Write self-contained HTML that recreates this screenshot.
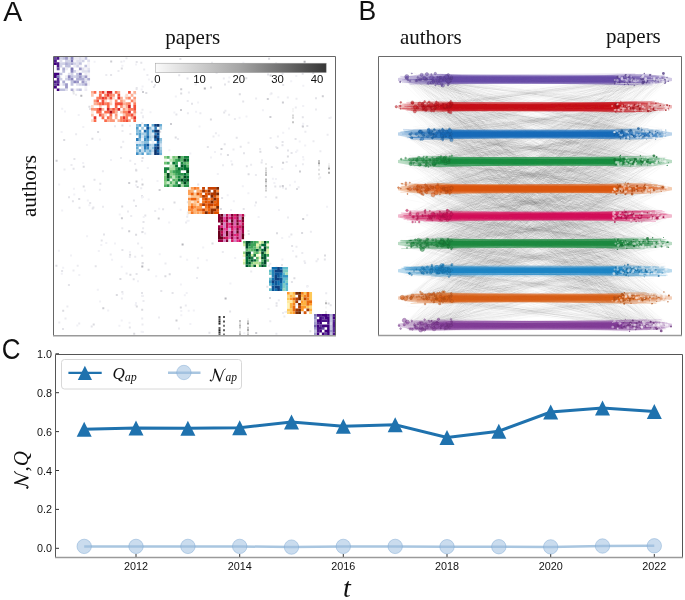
<!DOCTYPE html>
<html><head><meta charset="utf-8"><style>
html,body{margin:0;padding:0;background:#fff;}
svg{display:block;filter:blur(0.3px);}
.s{font-family:"Liberation Sans",sans-serif;fill:#111;}
.r{font-family:"Liberation Serif",serif;fill:#111;}
</style></head><body>
<svg width="685" height="600" viewBox="0 0 685 600">
<defs><filter id="blur1" x="-5%" y="-5%" width="110%" height="110%"><feGaussianBlur stdDeviation="0.5"/></filter><filter id="blur2" x="-5%" y="-5%" width="110%" height="110%"><feGaussianBlur stdDeviation="0.6"/></filter><filter id="blur3" x="-5%" y="-5%" width="110%" height="110%"><feGaussianBlur stdDeviation="0.7"/></filter></defs>
<rect width="685" height="600" fill="#fff"/>

<text x="3.2" y="21" class="s" font-size="28.5">A</text>
<text x="192.7" y="44" class="r" font-size="21" text-anchor="middle">papers</text>
<text transform="translate(35.5 186.1) rotate(-90)" class="r" font-size="21" text-anchor="middle">authors</text>
<g filter="url(#blur3)"><path fill="#e4e4e9" d="M208.4 331.8h2v2h-2zM290.4 233.6h2v2h-2zM222.8 233.1h2v2h-2zM206.8 145.9h2v2h-2zM135.7 60.9h2v2h-2zM242.7 254.9h2v2h-2zM142.5 221.1h2v2h-2zM274.3 185.6h2v2h-2zM135.6 88.1h2v2h-2zM141.5 295.1h2v2h-2zM224 83.6h2v2h-2zM270.6 284.9h2v2h-2zM71.9 200.2h2v2h-2zM135 205h2v2h-2zM89.1 107.9h2v2h-2zM270.8 166h2v2h-2zM162.1 208.3h2v2h-2zM132.9 199.5h2v2h-2zM266.3 285.8h2v2h-2zM291.1 245.1h2v2h-2zM132.7 278.3h2v2h-2zM287 149.5h2v2h-2zM255 201.4h2v2h-2zM281 264.1h2v2h-2zM279.2 185.6h2v2h-2zM160.3 290.1h2v2h-2zM215.7 211h2v2h-2zM284.9 187.7h2v2h-2zM281.6 72.7h2v2h-2zM178.2 74.2h2v2h-2zM186.1 160.9h2v2h-2zM61.1 270h2v2h-2zM237.1 228.4h2v2h-2zM93.5 178.8h2v2h-2zM240.5 70.6h2v2h-2zM309.3 330.2h2v2h-2zM223.7 143.3h2v2h-2zM294.6 137.9h2v2h-2zM260.6 161.4h2v2h-2zM301.8 116.2h2v2h-2zM144.3 214.6h2v2h-2zM191 102.8h2v2h-2zM91.7 207.4h2v2h-2zM62 328.1h2v2h-2zM99.3 182.8h2v2h-2zM135.1 168.7h2v2h-2zM315 97.3h2v2h-2zM90.7 325.5h2v2h-2zM229.1 310.4h2v2h-2zM281.6 140.9h2v2h-2zM175.4 113.5h2v2h-2zM275.6 304.8h2v2h-2zM242.7 208h2v2h-2zM72.7 92.6h2v2h-2zM282.2 83.9h2v2h-2zM306.3 125h2v2h-2zM92.4 206.6h2v2h-2zM103 233.5h2v2h-2zM281.5 144.3h2v2h-2zM181.3 183.9h2v2h-2zM275.6 302.2h2v2h-2zM196.8 266.8h2v2h-2zM121.3 290.9h2v2h-2zM267.1 73.5h2v2h-2zM154 84.3h2v2h-2zM68 196.2h2v2h-2zM140.3 61.7h2v2h-2zM186.8 201.2h2v2h-2zM245.8 165.3h2v2h-2zM290.6 151.9h2v2h-2zM110.1 73.9h2v2h-2zM239.7 145.7h2v2h-2zM185.8 185.1h2v2h-2zM78.5 206.7h2v2h-2zM301.7 72.8h2v2h-2zM247.8 233.1h2v2h-2zM243 152.3h2v2h-2zM186.5 77.4h2v2h-2zM152.9 86h2v2h-2zM129.4 133h2v2h-2zM257.1 263.1h2v2h-2zM171.6 292.1h2v2h-2zM227.7 80.7h2v2h-2zM141 291.9h2v2h-2zM73.4 158h2v2h-2zM72.6 167.8h2v2h-2zM323.8 258.4h2v2h-2zM120.2 146.2h2v2h-2zM197.2 183.5h2v2h-2zM290.9 280.9h2v2h-2zM275.1 62.5h2v2h-2zM270.4 92.6h2v2h-2zM100.7 239.6h2v2h-2zM193.2 189.3h2v2h-2zM295.3 255.6h2v2h-2zM67.9 284h2v2h-2zM135.7 86.9h2v2h-2zM306.5 285.3h2v2h-2zM231.2 163.6h2v2h-2zM94.7 265.2h2v2h-2zM121.4 249.1h2v2h-2zM221.1 196.9h2v2h-2zM135.6 273h2v2h-2zM242.2 100.5h2v2h-2zM179.4 57.9h2v2h-2zM59.3 76.2h2v2h-2zM141 195.1h2v2h-2zM223.2 111.6h2v2h-2zM140.8 152.6h2v2h-2zM235.7 136.7h2v2h-2zM271.2 69.7h2v2h-2zM89.2 201.9h2v2h-2zM128.8 326.4h2v2h-2zM141.3 254.8h2v2h-2zM329.7 304.3h2v2h-2zM80.9 81.3h2v2h-2z"/><path fill="#f1f1f6" d="M329.9 116.4h2v2h-2zM123.1 60.3h2v2h-2zM110 159h2v2h-2zM281.4 168.1h2v2h-2zM114 242.4h2v2h-2zM306.2 214.2h2v2h-2zM61.2 209.4h2v2h-2zM267.5 307.9h2v2h-2zM197.1 257.3h2v2h-2zM214 150.9h2v2h-2zM120.7 319.5h2v2h-2zM146.8 166.9h2v2h-2zM281.4 258.5h2v2h-2zM67 65.4h2v2h-2zM186.7 213.5h2v2h-2zM100.3 244.1h2v2h-2zM121.7 292.7h2v2h-2zM296 303.5h2v2h-2zM82.2 162h2v2h-2zM269.5 93.2h2v2h-2zM302.7 307.2h2v2h-2zM158.7 253.2h2v2h-2zM141.9 331.1h2v2h-2zM284.3 311.1h2v2h-2zM107.2 309.4h2v2h-2zM72.9 187.7h2v2h-2zM180.3 309.9h2v2h-2zM117.4 91.5h2v2h-2zM105.3 241.9h2v2h-2zM118.4 324.7h2v2h-2zM192.8 309.5h2v2h-2zM275.5 265.8h2v2h-2zM281.5 269.3h2v2h-2zM180.3 314.3h2v2h-2zM230.1 209h2v2h-2zM216.8 173.1h2v2h-2zM158.2 207.7h2v2h-2zM141 231.2h2v2h-2zM134.7 141.5h2v2h-2zM302.2 104.9h2v2h-2zM61.2 107.7h2v2h-2zM58.2 183.5h2v2h-2zM85.9 144h2v2h-2zM147.7 198.6h2v2h-2zM147.9 78.4h2v2h-2zM129 124.8h2v2h-2zM245.5 115.6h2v2h-2zM128.9 250.9h2v2h-2zM86.8 199.4h2v2h-2zM290.2 80.3h2v2h-2zM111.1 258.7h2v2h-2zM293.9 180.7h2v2h-2zM282.2 131.8h2v2h-2zM62.2 266.8h2v2h-2zM278 208.9h2v2h-2zM82.3 125.9h2v2h-2zM301.4 311.4h2v2h-2zM60.8 272.7h2v2h-2zM100.1 95.4h2v2h-2zM217.7 134.5h2v2h-2zM301.5 310.4h2v2h-2zM141.6 85.5h2v2h-2zM243.3 332.2h2v2h-2zM174.8 95.6h2v2h-2zM144.2 232.6h2v2h-2zM120.7 265.8h2v2h-2zM187.6 219.8h2v2h-2zM76.3 324.6h2v2h-2zM140.6 330.7h2v2h-2zM330.4 319.2h2v2h-2zM179.7 208.8h2v2h-2zM228.4 76.5h2v2h-2zM121.4 64.7h2v2h-2zM302.3 84.7h2v2h-2zM147.6 148.9h2v2h-2zM232.8 200.2h2v2h-2zM273.4 181.9h2v2h-2zM140.9 196.4h2v2h-2zM304.2 144.4h2v2h-2zM194.6 83.6h2v2h-2zM257.6 216h2v2h-2zM57.9 249.8h2v2h-2zM326.1 205.8h2v2h-2zM238.2 72.7h2v2h-2zM141.9 196h2v2h-2zM183.8 294.3h2v2h-2zM159.8 153.7h2v2h-2zM93.6 60.7h2v2h-2zM128.5 321.7h2v2h-2zM186.2 258.8h2v2h-2zM315 318.6h2v2h-2zM302.5 158.6h2v2h-2zM281.2 237.1h2v2h-2zM134.7 304h2v2h-2zM70 254.5h2v2h-2zM189.4 322.9h2v2h-2zM78.3 274h2v2h-2zM298.7 140.6h2v2h-2zM77.7 114.1h2v2h-2zM258.5 68.8h2v2h-2zM226 69.8h2v2h-2zM88.4 204.2h2v2h-2zM141.1 178.5h2v2h-2zM155.2 275.2h2v2h-2zM269.3 277.2h2v2h-2zM241.8 185.2h2v2h-2zM261.9 109.2h2v2h-2zM288.3 235.7h2v2h-2zM195.1 110.7h2v2h-2zM296.3 149.5h2v2h-2zM173.4 111.4h2v2h-2zM135 184.3h2v2h-2zM73.3 193.6h2v2h-2zM292 249.9h2v2h-2zM234.2 257.1h2v2h-2zM295.1 151.1h2v2h-2zM254.1 204.6h2v2h-2zM229.4 282.5h2v2h-2zM274.9 178.1h2v2h-2zM135 302h2v2h-2zM289 184.3h2v2h-2zM197.1 101.4h2v2h-2zM226.7 194.3h2v2h-2zM97.8 250h2v2h-2zM64 110.4h2v2h-2zM202.2 246.4h2v2h-2zM259 256.3h2v2h-2zM198.5 125.4h2v2h-2zM271.9 177.7h2v2h-2zM302.1 155.9h2v2h-2zM242.4 61.8h2v2h-2zM60.6 131.1h2v2h-2zM96.8 288.8h2v2h-2zM99.1 300.4h2v2h-2zM288 127.4h2v2h-2zM98.9 138.5h2v2h-2zM186.5 219.7h2v2h-2zM168.2 221.6h2v2h-2zM306.2 285.4h2v2h-2zM118.7 213.5h2v2h-2zM149.5 111.2h2v2h-2zM179.9 283.6h2v2h-2zM247.4 192.3h2v2h-2zM137 280.3h2v2h-2zM301.5 125.2h2v2h-2zM168.4 149.2h2v2h-2zM185.7 292h2v2h-2zM299.5 299.7h2v2h-2zM187.7 309.8h2v2h-2zM156.5 179.9h2v2h-2zM302.2 122.8h2v2h-2zM135.1 63.6h2v2h-2zM295.3 74.9h2v2h-2zM141.9 115h2v2h-2zM210 156.4h2v2h-2zM141.5 294.7h2v2h-2zM86.1 235.2h2v2h-2zM140.7 88.6h2v2h-2zM83.9 189.5h2v2h-2zM238.6 116.7h2v2h-2zM230.3 160.3h2v2h-2zM189.3 152.4h2v2h-2zM142.7 216h2v2h-2zM205.8 259.3h2v2h-2zM277.3 96.3h2v2h-2z"/><path fill="#ebebf0" d="M66.3 66.8h2v2h-2zM309.9 230.7h2v2h-2zM120.9 297.5h2v2h-2zM70.5 164h2v2h-2zM233 214.2h2v2h-2zM295.5 245.7h2v2h-2zM294.8 106.5h2v2h-2zM178 327.6h2v2h-2zM304.1 262h2v2h-2zM105.3 74.1h2v2h-2zM277.8 299.2h2v2h-2zM224.4 109.8h2v2h-2zM135.2 111.4h2v2h-2zM283.9 278.8h2v2h-2zM142 116.3h2v2h-2zM159.8 126.8h2v2h-2zM285.7 161h2v2h-2zM114 125.3h2v2h-2zM76.7 264.8h2v2h-2zM141.5 108.7h2v2h-2zM128.8 256.1h2v2h-2zM285.7 310.8h2v2h-2zM186.2 215.7h2v2h-2zM179.6 255.7h2v2h-2zM141.2 122.3h2v2h-2zM141.5 323.5h2v2h-2zM319.2 176.6h2v2h-2zM58.3 321.5h2v2h-2zM243.2 234.1h2v2h-2zM164.5 262.4h2v2h-2zM264.8 196h2v2h-2zM252.9 66.5h2v2h-2zM275.4 332.7h2v2h-2zM140.5 111.7h2v2h-2zM269.6 269h2v2h-2zM149.9 127.9h2v2h-2zM142.1 227.3h2v2h-2zM295.4 292.6h2v2h-2zM130.2 214.9h2v2h-2zM282 186.6h2v2h-2zM143.2 68.5h2v2h-2zM269.3 320.2h2v2h-2zM129.3 159.7h2v2h-2zM308 69.2h2v2h-2zM269.3 262.8h2v2h-2zM134.3 92.9h2v2h-2zM124.6 95.5h2v2h-2zM180.5 183.6h2v2h-2zM158 316.5h2v2h-2zM265.1 187.1h2v2h-2zM63.5 168.6h2v2h-2zM221.8 250.9h2v2h-2zM109.7 253.6h2v2h-2zM215.6 72h2v2h-2zM134.2 255.7h2v2h-2zM199.4 112.3h2v2h-2zM180.7 173.6h2v2h-2zM269.6 136.9h2v2h-2zM140.2 187.3h2v2h-2zM295 164.7h2v2h-2zM254.9 174h2v2h-2zM297.6 186.3h2v2h-2zM222.8 77.4h2v2h-2zM283.4 315.5h2v2h-2zM295.5 97.7h2v2h-2zM142.5 299.9h2v2h-2zM301.9 163.2h2v2h-2zM319.4 150.3h2v2h-2zM301.3 251.9h2v2h-2zM187.9 91.5h2v2h-2zM98.9 188.7h2v2h-2zM127 210.4h2v2h-2zM125.5 57.2h2v2h-2zM186.8 211.5h2v2h-2zM295.8 302.7h2v2h-2zM101.9 170.2h2v2h-2zM315.5 260.2h2v2h-2zM169.3 157.9h2v2h-2zM154.2 210.1h2v2h-2zM121.5 129.9h2v2h-2zM121.3 227.3h2v2h-2zM275.2 145.9h2v2h-2zM211 61.8h2v2h-2zM120 156.9h2v2h-2zM233.9 118.1h2v2h-2zM312.5 140.3h2v2h-2zM137.1 242.6h2v2h-2zM186.7 99.9h2v2h-2zM328.5 117.1h2v2h-2zM196 277.1h2v2h-2zM282 311.9h2v2h-2zM255.1 97.4h2v2h-2zM141.2 317.5h2v2h-2zM125.6 272.4h2v2h-2zM177 138h2v2h-2zM75.1 133.3h2v2h-2zM220 153.3h2v2h-2zM186.9 112.3h2v2h-2zM146.4 73.9h2v2h-2zM134.1 163.1h2v2h-2zM102 205.7h2v2h-2zM214.9 132.2h2v2h-2zM315 108.5h2v2h-2zM250.1 163.7h2v2h-2zM117.5 70h2v2h-2zM192.7 191.5h2v2h-2zM228.1 113.7h2v2h-2zM141.1 160.1h2v2h-2zM325.2 292.3h2v2h-2zM120.4 60.8h2v2h-2zM140.7 246.8h2v2h-2zM286.8 96.5h2v2h-2zM247.5 141.7h2v2h-2zM141.3 151.2h2v2h-2zM326.6 133.8h2v2h-2zM303.5 260.3h2v2h-2zM184.8 304.4h2v2h-2zM232.5 148.4h2v2h-2zM64.5 317.6h2v2h-2zM212.5 135.6h2v2h-2zM185.1 221.6h2v2h-2zM304.4 130.8h2v2h-2zM78.2 322.5h2v2h-2zM222 164.2h2v2h-2zM72.5 269.4h2v2h-2zM122.2 140.7h2v2h-2zM141 141.3h2v2h-2zM118.4 101.7h2v2h-2zM276.9 135.5h2v2h-2zM250.2 270.6h2v2h-2zM316.9 258.2h2v2h-2zM247.5 229.9h2v2h-2zM66.4 305.6h2v2h-2zM75.1 93.8h2v2h-2zM261 159.3h2v2h-2zM287 216.6h2v2h-2zM259.1 148.1h2v2h-2zM268 264.7h2v2h-2z"/><path fill="#dbdbe0" d="M97.1 130.9h2v2h-2zM238.8 93.3h2v2h-2zM120.8 67.5h2v2h-2zM173.5 201.6h2v2h-2zM55.4 264.8h2v2h-2zM62.2 309.7h2v2h-2zM121.2 205.6h2v2h-2zM171.1 66.2h2v2h-2zM88.4 105.7h2v2h-2zM164.4 275.3h2v2h-2zM116 111h2v2h-2zM159.2 130.7h2v2h-2zM245.3 77.2h2v2h-2zM247.6 173.2h2v2h-2zM296 187.9h2v2h-2zM302.9 295.8h2v2h-2zM210 86.5h2v2h-2zM168.7 273.2h2v2h-2zM211.5 242.4h2v2h-2zM121.4 124.4h2v2h-2zM135.3 169.5h2v2h-2zM312.3 72h2v2h-2zM327.6 302.4h2v2h-2zM269 296.9h2v2h-2zM180.2 92.4h2v2h-2zM275.4 196.4h2v2h-2zM270.2 280.8h2v2h-2zM141.5 262.3h2v2h-2zM141.6 156.9h2v2h-2zM135.1 233.7h2v2h-2zM78.2 198h2v2h-2zM135.8 305.4h2v2h-2zM324 254.6h2v2h-2zM133.2 332.8h2v2h-2zM145.3 91.9h2v2h-2zM276 232.3h2v2h-2zM174.7 136.5h2v2h-2zM91.4 137.7h2v2h-2zM119.4 278h2v2h-2zM92.7 323.6h2v2h-2zM63.2 139.1h2v2h-2zM115.8 293.9h2v2h-2zM293.4 277.3h2v2h-2zM147.6 268.7h2v2h-2zM268.1 57.7h2v2h-2zM303 304.4h2v2h-2zM209.9 118.4h2v2h-2zM82.7 165.8h2v2h-2zM276.3 147.1h2v2h-2zM226.9 154.1h2v2h-2zM150.9 80.8h2v2h-2zM179.8 306.6h2v2h-2zM286.9 155.6h2v2h-2zM129.1 253.8h2v2h-2zM129.4 273.7h2v2h-2zM141.5 231.1h2v2h-2zM141.7 262h2v2h-2zM136.6 186h2v2h-2zM141.2 308.8h2v2h-2zM301.1 231.9h2v2h-2zM219.9 208.1h2v2h-2zM274.4 67.8h2v2h-2zM72.4 90.4h2v2h-2zM82.7 185.4h2v2h-2zM259.4 150.7h2v2h-2z"/><path fill="#cdcdd2" d="M282.1 161.7h2v2h-2zM142 90.9h2v2h-2zM299 170.6h2v2h-2zM255.2 332.1h2v2h-2zM180.2 88.2h2v2h-2zM220.5 147.9h2v2h-2zM157.7 217.5h2v2h-2zM281.9 101.4h2v2h-2zM269.4 116h2v2h-2zM243.3 214.4h2v2h-2zM135.5 180.5h2v2h-2zM162.1 64.3h2v2h-2zM128.2 182h2v2h-2zM302.2 218.1h2v2h-2zM175.5 319.6h2v2h-2zM102.3 307.2h2v2h-2zM55.6 159.7h2v2h-2zM128.2 230.3h2v2h-2zM321.8 95.3h2v2h-2zM301.9 125.5h2v2h-2zM180 108.9h2v2h-2zM281.8 184.9h2v2h-2zM110.2 60.4h2v2h-2zM170 122.9h2v2h-2zM269.6 74.4h2v2h-2zM141.5 183.4h2v2h-2zM279.1 288.1h2v2h-2zM120.9 217.2h2v2h-2zM158.6 189.1h2v2h-2zM266.8 98.1h2v2h-2z"/><path fill="#b6b6bb" d="M80.3 94.8h2v2h-2zM224.6 297.6h2v2h-2zM181.6 243.6h2v2h-2zM141.3 265.5h2v2h-2zM203.8 87.6h2v2h-2zM303.6 60.8h2v2h-2z"/><path fill="#343434" d="M218.5 316h2v2h-2z"/><path fill="#4f4f4f" d="M218.5 318.2h2v2h-2z"/><path fill="#1e1e1e" d="M218.5 320.4h2v2h-2z"/><path fill="#202020" d="M218.5 322.6h2v2h-2z"/><path fill="#5e5e5e" d="M218.5 327h2v2h-2zM218.5 333.6h2v2h-2z"/><path fill="#1f1f1f" d="M218.5 329.2h2v2h-2z"/><path fill="#2e2e2e" d="M218.5 331.4h2v2h-2z"/><path fill="#545454" d="M223 316h2v2h-2z"/><path fill="#565656" d="M223 320.4h2v2h-2z"/><path fill="#737373" d="M223 324.8h2v2h-2z"/><path fill="#5f5f5f" d="M223 329.2h2v2h-2z"/><path fill="#7b7b7b" d="M223 333.6h2v2h-2z"/><path fill="#f5f5f5" d="M247 318h2v2h-2zM239 328.8h2v2h-2zM292 108h2v2h-2zM292 110.2h2v2h-2zM325 300h2v2h-2zM325 306.6h2v2h-2zM325 317.6h2v2h-2z"/><path fill="#cecece" d="M247 320.2h2v2h-2zM265 189.4h2v2h-2z"/><path fill="#9e9e9e" d="M247 322.4h2v2h-2z"/><path fill="#c2c2c2" d="M247 326.8h2v2h-2zM265 171.8h2v2h-2z"/><path fill="#aaaaaa" d="M247 329h2v2h-2z"/><path fill="#dfdfdf" d="M247 331.2h2v2h-2z"/><path fill="#c1c1c1" d="M247 333.4h2v2h-2z"/><path fill="#bfbfbf" d="M239 320h2v2h-2z"/><path fill="#e1e1e1" d="M239 322.2h2v2h-2z"/><path fill="#b6b6b6" d="M239 324.4h2v2h-2zM239 333.2h2v2h-2z"/><path fill="#c6c6c6" d="M239 326.6h2v2h-2zM292 121.2h2v2h-2z"/><path fill="#d7d7d7" d="M239 331h2v2h-2zM292 116.8h2v2h-2z"/><path fill="#ececec" d="M265 163h2v2h-2z"/><path fill="#d8d8d8" d="M265 167.4h2v2h-2zM292 114.6h2v2h-2z"/><path fill="#d9d9d9" d="M265 169.6h2v2h-2z"/><path fill="#bebebe" d="M265 174h2v2h-2z"/><path fill="#b8b8b8" d="M265 178.4h2v2h-2z"/><path fill="#adadad" d="M265 180.6h2v2h-2z"/><path fill="#e5e5e5" d="M265 182.8h2v2h-2zM318 164.4h2v2h-2zM328 165.2h2v2h-2z"/><path fill="#b9b9b9" d="M265 185h2v2h-2z"/><path fill="#dedede" d="M265 187.2h2v2h-2z"/><path fill="#c7c7c7" d="M318 160h2v2h-2z"/><path fill="#a2a2a2" d="M318 162.2h2v2h-2z"/><path fill="#e0e0e0" d="M318 168.8h2v2h-2zM318 173.2h2v2h-2zM325 311h2v2h-2z"/><path fill="#f0f0f0" d="M318 177.6h2v2h-2z"/><path fill="#f4f4f4" d="M328 163h2v2h-2z"/><path fill="#9d9d9d" d="M328 167.4h2v2h-2z"/><path fill="#afafaf" d="M328 171.8h2v2h-2z"/><path fill="#b7b7b7" d="M325 302.2h2v2h-2z"/><path fill="#cacaca" d="M325 313.2h2v2h-2z"/><path fill="#bbbbbb" d="M325 315.4h2v2h-2z"/><path fill="#eaeaea" d="M325 319.8h2v2h-2z"/><path fill="#63449d" d="M54 57h2.82v2.67h-2.82zM54 83.15h2.82v2.67h-2.82zM56.77 67.46h2.82v2.67h-2.82zM321.88 327.12h2.67v2.67h-2.67zM324.5 332.38h2.67v2.67h-2.67z"/><path fill="#4b1687" d="M54 59.62h2.82v2.67h-2.82zM54 80.54h2.82v2.67h-2.82zM56.77 57h2.82v2.67h-2.82zM56.77 62.23h2.82v2.67h-2.82zM56.77 64.85h2.82v2.67h-2.82zM316.62 314h2.67v2.67h-2.67zM316.62 327.12h2.67v2.67h-2.67zM316.62 329.75h2.67v2.67h-2.67zM319.25 314h2.67v2.67h-2.67zM319.25 327.12h2.67v2.67h-2.67zM321.88 319.25h2.67v2.67h-2.67zM324.5 319.25h2.67v2.67h-2.67zM327.12 314h2.67v2.67h-2.67zM327.12 321.88h2.67v2.67h-2.67zM332.38 314h2.67v2.67h-2.67zM332.38 321.88h2.67v2.67h-2.67zM332.38 324.5h2.67v2.67h-2.67zM332.38 332.38h2.67v2.67h-2.67z"/><path fill="#3f007d" d="M54 62.23h2.82v2.67h-2.82zM54 72.69h2.82v2.67h-2.82zM54 75.31h2.82v2.67h-2.82zM54 85.77h2.82v2.67h-2.82zM56.77 72.69h2.82v2.67h-2.82zM56.77 83.15h2.82v2.67h-2.82zM56.77 88.38h2.82v2.67h-2.82zM316.62 319.25h2.67v2.67h-2.67zM316.62 324.5h2.67v2.67h-2.67zM316.62 332.38h2.67v2.67h-2.67zM319.25 316.62h2.67v2.67h-2.67zM319.25 319.25h2.67v2.67h-2.67zM319.25 321.88h2.67v2.67h-2.67zM319.25 329.75h2.67v2.67h-2.67zM321.88 314h2.67v2.67h-2.67zM321.88 324.5h2.67v2.67h-2.67zM321.88 332.38h2.67v2.67h-2.67zM324.5 314h2.67v2.67h-2.67zM324.5 316.62h2.67v2.67h-2.67zM324.5 324.5h2.67v2.67h-2.67zM324.5 329.75h2.67v2.67h-2.67zM327.12 316.62h2.67v2.67h-2.67zM327.12 319.25h2.67v2.67h-2.67zM327.12 324.5h2.67v2.67h-2.67zM327.12 327.12h2.67v2.67h-2.67zM327.12 329.75h2.67v2.67h-2.67zM327.12 332.38h2.67v2.67h-2.67zM332.38 316.62h2.67v2.67h-2.67z"/><path fill="#7d77b7" d="M56.77 75.31h2.82v2.67h-2.82zM70.62 59.62h2.82v2.67h-2.82zM70.62 67.46h2.82v2.67h-2.82zM78.92 72.69h2.82v2.67h-2.82zM314 314h2.67v2.67h-2.67z"/><path fill="#572c92" d="M56.77 77.92h2.82v2.67h-2.82zM56.77 80.54h2.82v2.67h-2.82zM316.62 321.88h2.67v2.67h-2.67zM319.25 324.5h2.67v2.67h-2.67zM321.88 316.62h2.67v2.67h-2.67zM332.38 319.25h2.67v2.67h-2.67zM332.38 327.12h2.67v2.67h-2.67zM332.38 329.75h2.67v2.67h-2.67z"/><path fill="#d1d2e7" d="M59.54 57h2.82v2.67h-2.82zM59.54 62.23h2.82v2.67h-2.82zM59.54 64.85h2.82v2.67h-2.82zM59.54 77.92h2.82v2.67h-2.82zM62.31 62.23h2.82v2.67h-2.82zM62.31 83.15h2.82v2.67h-2.82zM65.08 59.62h2.82v2.67h-2.82zM65.08 77.92h2.82v2.67h-2.82zM67.85 59.62h2.82v2.67h-2.82zM70.62 72.69h2.82v2.67h-2.82zM73.38 62.23h2.82v2.67h-2.82zM73.38 70.08h2.82v2.67h-2.82zM73.38 75.31h2.82v2.67h-2.82zM76.15 64.85h2.82v2.67h-2.82zM76.15 88.38h2.82v2.67h-2.82zM78.92 83.15h2.82v2.67h-2.82zM81.69 59.62h2.82v2.67h-2.82zM81.69 75.31h2.82v2.67h-2.82zM84.46 80.54h2.82v2.67h-2.82zM87.23 70.08h2.82v2.67h-2.82zM329.75 321.88h2.67v2.67h-2.67z"/><path fill="#e0e0ee" d="M59.54 59.62h2.82v2.67h-2.82zM65.08 88.38h2.82v2.67h-2.82zM67.85 57h2.82v2.67h-2.82zM67.85 72.69h2.82v2.67h-2.82zM76.15 59.62h2.82v2.67h-2.82zM76.15 62.23h2.82v2.67h-2.82zM76.15 83.15h2.82v2.67h-2.82zM78.92 57h2.82v2.67h-2.82zM78.92 59.62h2.82v2.67h-2.82zM81.69 67.46h2.82v2.67h-2.82zM81.69 70.08h2.82v2.67h-2.82zM84.46 70.08h2.82v2.67h-2.82zM84.46 77.92h2.82v2.67h-2.82zM87.23 59.62h2.82v2.67h-2.82zM87.23 67.46h2.82v2.67h-2.82z"/><path fill="#c0c1de" d="M59.54 72.69h2.82v2.67h-2.82zM59.54 88.38h2.82v2.67h-2.82zM62.31 57h2.82v2.67h-2.82zM62.31 70.08h2.82v2.67h-2.82zM62.31 88.38h2.82v2.67h-2.82zM65.08 64.85h2.82v2.67h-2.82zM67.85 62.23h2.82v2.67h-2.82zM67.85 64.85h2.82v2.67h-2.82zM70.62 75.31h2.82v2.67h-2.82zM70.62 80.54h2.82v2.67h-2.82zM70.62 83.15h2.82v2.67h-2.82zM76.15 72.69h2.82v2.67h-2.82zM76.15 75.31h2.82v2.67h-2.82zM78.92 62.23h2.82v2.67h-2.82zM78.92 88.38h2.82v2.67h-2.82zM81.69 83.15h2.82v2.67h-2.82zM84.46 57h2.82v2.67h-2.82zM84.46 64.85h2.82v2.67h-2.82zM314 329.75h2.67v2.67h-2.67zM329.75 316.62h2.67v2.67h-2.67zM329.75 319.25h2.67v2.67h-2.67zM329.75 324.5h2.67v2.67h-2.67zM329.75 327.12h2.67v2.67h-2.67zM329.75 332.38h2.67v2.67h-2.67z"/><path fill="#f5f3f8" d="M59.54 83.15h2.82v2.67h-2.82zM73.38 59.62h2.82v2.67h-2.82zM73.38 88.38h2.82v2.67h-2.82zM76.15 70.08h2.82v2.67h-2.82zM78.92 64.85h2.82v2.67h-2.82zM84.46 67.46h2.82v2.67h-2.82zM84.46 85.77h2.82v2.67h-2.82zM87.23 62.23h2.82v2.67h-2.82zM87.23 64.85h2.82v2.67h-2.82zM87.23 72.69h2.82v2.67h-2.82zM87.23 75.31h2.82v2.67h-2.82zM87.23 80.54h2.82v2.67h-2.82zM87.23 83.15h2.82v2.67h-2.82z"/><path fill="#afaed4" d="M62.31 67.46h2.82v2.67h-2.82zM62.31 80.54h2.82v2.67h-2.82zM65.08 62.23h2.82v2.67h-2.82zM67.85 77.92h2.82v2.67h-2.82zM70.62 62.23h2.82v2.67h-2.82zM70.62 88.38h2.82v2.67h-2.82zM76.15 77.92h2.82v2.67h-2.82zM78.92 77.92h2.82v2.67h-2.82zM81.69 77.92h2.82v2.67h-2.82zM87.23 77.92h2.82v2.67h-2.82zM314 319.25h2.67v2.67h-2.67zM329.75 314h2.67v2.67h-2.67z"/><path fill="#9e9ac8" d="M65.08 57h2.82v2.67h-2.82zM65.08 83.15h2.82v2.67h-2.82zM65.08 85.77h2.82v2.67h-2.82zM76.15 80.54h2.82v2.67h-2.82zM78.92 67.46h2.82v2.67h-2.82zM78.92 75.31h2.82v2.67h-2.82zM81.69 80.54h2.82v2.67h-2.82zM84.46 75.31h2.82v2.67h-2.82zM84.46 83.15h2.82v2.67h-2.82zM314 321.88h2.67v2.67h-2.67zM314 327.12h2.67v2.67h-2.67zM314 332.38h2.67v2.67h-2.67zM329.75 329.75h2.67v2.67h-2.67z"/><path fill="#ecebf4" d="M65.08 67.46h2.82v2.67h-2.82zM65.08 75.31h2.82v2.67h-2.82zM73.38 57h2.82v2.67h-2.82zM73.38 64.85h2.82v2.67h-2.82zM76.15 57h2.82v2.67h-2.82zM81.69 57h2.82v2.67h-2.82zM84.46 72.69h2.82v2.67h-2.82zM84.46 88.38h2.82v2.67h-2.82z"/><path fill="#8d89c0" d="M67.85 75.31h2.82v2.67h-2.82zM70.62 57h2.82v2.67h-2.82zM70.62 70.08h2.82v2.67h-2.82zM70.62 77.92h2.82v2.67h-2.82zM73.38 80.54h2.82v2.67h-2.82zM314 316.62h2.67v2.67h-2.67z"/><path fill="#fcaf93" d="M91 91h2.7v2.87h-2.7zM93.65 102.27h2.7v2.87h-2.7zM101.59 107.91h2.7v2.87h-2.7zM106.88 119.18h2.7v2.87h-2.7zM114.82 110.73h2.7v2.87h-2.7zM114.82 116.36h2.7v2.87h-2.7zM117.47 91h2.7v2.87h-2.7zM117.47 119.18h2.7v2.87h-2.7zM120.12 96.64h2.7v2.87h-2.7zM122.76 102.27h2.7v2.87h-2.7zM125.41 96.64h2.7v2.87h-2.7zM125.41 105.09h2.7v2.87h-2.7zM130.71 93.82h2.7v2.87h-2.7zM130.71 116.36h2.7v2.87h-2.7zM133.35 91h2.7v2.87h-2.7z"/><path fill="#fdc6b0" d="M91 93.82h2.7v2.87h-2.7zM91 113.55h2.7v2.87h-2.7zM98.94 105.09h2.7v2.87h-2.7zM106.88 96.64h2.7v2.87h-2.7zM109.53 102.27h2.7v2.87h-2.7zM120.12 110.73h2.7v2.87h-2.7zM122.76 99.45h2.7v2.87h-2.7zM122.76 113.55h2.7v2.87h-2.7zM125.41 107.91h2.7v2.87h-2.7zM133.35 99.45h2.7v2.87h-2.7zM133.35 113.55h2.7v2.87h-2.7z"/><path fill="#fedbcc" d="M91 105.09h2.7v2.87h-2.7zM91 119.18h2.7v2.87h-2.7zM104.24 91h2.7v2.87h-2.7zM104.24 99.45h2.7v2.87h-2.7zM104.24 113.55h2.7v2.87h-2.7zM109.53 99.45h2.7v2.87h-2.7zM112.18 96.64h2.7v2.87h-2.7zM122.76 105.09h2.7v2.87h-2.7zM125.41 93.82h2.7v2.87h-2.7z"/><path fill="#fc9879" d="M91 107.91h2.7v2.87h-2.7zM93.65 99.45h2.7v2.87h-2.7zM93.65 107.91h2.7v2.87h-2.7zM96.29 102.27h2.7v2.87h-2.7zM101.59 113.55h2.7v2.87h-2.7zM109.53 107.91h2.7v2.87h-2.7zM109.53 116.36h2.7v2.87h-2.7zM109.53 119.18h2.7v2.87h-2.7zM112.18 93.82h2.7v2.87h-2.7zM112.18 119.18h2.7v2.87h-2.7zM114.82 107.91h2.7v2.87h-2.7zM114.82 113.55h2.7v2.87h-2.7zM120.12 99.45h2.7v2.87h-2.7zM120.12 105.09h2.7v2.87h-2.7zM122.76 107.91h2.7v2.87h-2.7zM125.41 102.27h2.7v2.87h-2.7zM128.06 119.18h2.7v2.87h-2.7zM133.35 96.64h2.7v2.87h-2.7z"/><path fill="#fee9df" d="M91 110.73h2.7v2.87h-2.7z"/><path fill="#fb694a" d="M93.65 91h2.7v2.87h-2.7zM93.65 119.18h2.7v2.87h-2.7zM96.29 107.91h2.7v2.87h-2.7zM96.29 110.73h2.7v2.87h-2.7zM98.94 93.82h2.7v2.87h-2.7zM98.94 96.64h2.7v2.87h-2.7zM98.94 102.27h2.7v2.87h-2.7zM98.94 110.73h2.7v2.87h-2.7zM101.59 116.36h2.7v2.87h-2.7zM104.24 110.73h2.7v2.87h-2.7zM104.24 119.18h2.7v2.87h-2.7zM106.88 102.27h2.7v2.87h-2.7zM106.88 105.09h2.7v2.87h-2.7zM106.88 110.73h2.7v2.87h-2.7zM106.88 116.36h2.7v2.87h-2.7zM109.53 113.55h2.7v2.87h-2.7zM112.18 110.73h2.7v2.87h-2.7zM114.82 91h2.7v2.87h-2.7zM114.82 105.09h2.7v2.87h-2.7zM122.76 119.18h2.7v2.87h-2.7zM133.35 119.18h2.7v2.87h-2.7z"/><path fill="#ea362a" d="M93.65 116.36h2.7v2.87h-2.7zM101.59 91h2.7v2.87h-2.7zM101.59 96.64h2.7v2.87h-2.7zM106.88 93.82h2.7v2.87h-2.7zM117.47 96.64h2.7v2.87h-2.7zM122.76 116.36h2.7v2.87h-2.7zM133.35 116.36h2.7v2.87h-2.7z"/><path fill="#fc8161" d="M96.29 96.64h2.7v2.87h-2.7zM98.94 91h2.7v2.87h-2.7zM104.24 93.82h2.7v2.87h-2.7zM104.24 102.27h2.7v2.87h-2.7zM109.53 93.82h2.7v2.87h-2.7zM114.82 99.45h2.7v2.87h-2.7zM120.12 116.36h2.7v2.87h-2.7zM120.12 119.18h2.7v2.87h-2.7zM122.76 110.73h2.7v2.87h-2.7zM125.41 110.73h2.7v2.87h-2.7zM125.41 113.55h2.7v2.87h-2.7zM125.41 116.36h2.7v2.87h-2.7zM128.06 96.64h2.7v2.87h-2.7zM128.06 102.27h2.7v2.87h-2.7zM128.06 107.91h2.7v2.87h-2.7zM128.06 113.55h2.7v2.87h-2.7zM130.71 99.45h2.7v2.87h-2.7zM130.71 107.91h2.7v2.87h-2.7zM133.35 102.27h2.7v2.87h-2.7zM133.35 110.73h2.7v2.87h-2.7z"/><path fill="#f44f39" d="M96.29 99.45h2.7v2.87h-2.7zM98.94 113.55h2.7v2.87h-2.7zM101.59 99.45h2.7v2.87h-2.7zM101.59 102.27h2.7v2.87h-2.7zM104.24 96.64h2.7v2.87h-2.7zM109.53 96.64h2.7v2.87h-2.7zM112.18 107.91h2.7v2.87h-2.7zM114.82 102.27h2.7v2.87h-2.7zM117.47 93.82h2.7v2.87h-2.7zM117.47 102.27h2.7v2.87h-2.7zM120.12 102.27h2.7v2.87h-2.7zM125.41 119.18h2.7v2.87h-2.7zM128.06 91h2.7v2.87h-2.7zM130.71 113.55h2.7v2.87h-2.7zM133.35 105.09h2.7v2.87h-2.7zM133.35 107.91h2.7v2.87h-2.7z"/><path fill="#d52221" d="M98.94 107.91h2.7v2.87h-2.7zM106.88 91h2.7v2.87h-2.7zM106.88 107.91h2.7v2.87h-2.7zM109.53 91h2.7v2.87h-2.7zM117.47 107.91h2.7v2.87h-2.7zM128.06 105.09h2.7v2.87h-2.7zM128.06 110.73h2.7v2.87h-2.7z"/><path fill="#aa1016" d="M109.53 110.73h2.7v2.87h-2.7z"/><path fill="#89bedc" d="M136 124h2.65v2.87h-2.65zM136 129.64h2.65v2.87h-2.65zM138.6 138.09h2.65v2.87h-2.65zM141.2 143.73h2.65v2.87h-2.65zM143.8 140.91h2.65v2.87h-2.65zM146.4 140.91h2.65v2.87h-2.65zM149 126.82h2.65v2.87h-2.65zM149 152.18h2.65v2.87h-2.65zM151.6 146.55h2.65v2.87h-2.65zM159.4 138.09h2.65v2.87h-2.65zM159.4 149.36h2.65v2.87h-2.65z"/><path fill="#539ecd" d="M136 126.82h2.65v2.87h-2.65zM136 143.73h2.65v2.87h-2.65zM138.6 124h2.65v2.87h-2.65zM138.6 132.45h2.65v2.87h-2.65zM138.6 135.27h2.65v2.87h-2.65zM138.6 149.36h2.65v2.87h-2.65zM141.2 152.18h2.65v2.87h-2.65zM143.8 124h2.65v2.87h-2.65zM146.4 138.09h2.65v2.87h-2.65z"/><path fill="#6aaed6" d="M136 132.45h2.65v2.87h-2.65zM136 146.55h2.65v2.87h-2.65zM138.6 129.64h2.65v2.87h-2.65zM138.6 143.73h2.65v2.87h-2.65zM143.8 135.27h2.65v2.87h-2.65zM143.8 149.36h2.65v2.87h-2.65zM146.4 152.18h2.65v2.87h-2.65zM149 149.36h2.65v2.87h-2.65zM151.6 124h2.65v2.87h-2.65zM159.4 124h2.65v2.87h-2.65zM159.4 152.18h2.65v2.87h-2.65z"/><path fill="#2b7bba" d="M136 138.09h2.65v2.87h-2.65zM143.8 143.73h2.65v2.87h-2.65zM143.8 146.55h2.65v2.87h-2.65zM154.2 126.82h2.65v2.87h-2.65zM154.2 132.45h2.65v2.87h-2.65z"/><path fill="#dbe9f6" d="M136 140.91h2.65v2.87h-2.65zM151.6 126.82h2.65v2.87h-2.65zM151.6 132.45h2.65v2.87h-2.65zM151.6 152.18h2.65v2.87h-2.65z"/><path fill="#a4cce3" d="M136 149.36h2.65v2.87h-2.65zM138.6 152.18h2.65v2.87h-2.65zM141.2 126.82h2.65v2.87h-2.65zM141.2 132.45h2.65v2.87h-2.65zM141.2 140.91h2.65v2.87h-2.65zM143.8 132.45h2.65v2.87h-2.65zM146.4 149.36h2.65v2.87h-2.65zM149 135.27h2.65v2.87h-2.65zM149 143.73h2.65v2.87h-2.65zM159.4 126.82h2.65v2.87h-2.65zM159.4 140.91h2.65v2.87h-2.65zM159.4 146.55h2.65v2.87h-2.65z"/><path fill="#3d8dc4" d="M136 152.18h2.65v2.87h-2.65zM143.8 138.09h2.65v2.87h-2.65zM146.4 129.64h2.65v2.87h-2.65zM146.4 132.45h2.65v2.87h-2.65zM146.4 146.55h2.65v2.87h-2.65zM151.6 129.64h2.65v2.87h-2.65z"/><path fill="#cde0f1" d="M138.6 140.91h2.65v2.87h-2.65zM141.2 135.27h2.65v2.87h-2.65zM159.4 143.73h2.65v2.87h-2.65z"/><path fill="#e9f2fa" d="M141.2 138.09h2.65v2.87h-2.65zM151.6 138.09h2.65v2.87h-2.65zM151.6 140.91h2.65v2.87h-2.65z"/><path fill="#bad6eb" d="M141.2 146.55h2.65v2.87h-2.65zM141.2 149.36h2.65v2.87h-2.65zM149 129.64h2.65v2.87h-2.65zM149 132.45h2.65v2.87h-2.65zM149 138.09h2.65v2.87h-2.65zM149 146.55h2.65v2.87h-2.65zM151.6 135.27h2.65v2.87h-2.65zM151.6 143.73h2.65v2.87h-2.65zM151.6 149.36h2.65v2.87h-2.65z"/><path fill="#1967ad" d="M143.8 129.64h2.65v2.87h-2.65zM146.4 124h2.65v2.87h-2.65zM146.4 135.27h2.65v2.87h-2.65zM154.2 138.09h2.65v2.87h-2.65zM154.2 143.73h2.65v2.87h-2.65zM156.8 140.91h2.65v2.87h-2.65zM156.8 149.36h2.65v2.87h-2.65z"/><path fill="#0b559f" d="M146.4 126.82h2.65v2.87h-2.65zM146.4 143.73h2.65v2.87h-2.65zM156.8 135.27h2.65v2.87h-2.65z"/><path fill="#084387" d="M154.2 124h2.65v2.87h-2.65zM154.2 146.55h2.65v2.87h-2.65zM156.8 132.45h2.65v2.87h-2.65zM156.8 143.73h2.65v2.87h-2.65zM156.8 152.18h2.65v2.87h-2.65z"/><path fill="#08306b" d="M154.2 129.64h2.65v2.87h-2.65zM154.2 135.27h2.65v2.87h-2.65zM154.2 149.36h2.65v2.87h-2.65zM154.2 152.18h2.65v2.87h-2.65zM156.8 124h2.65v2.87h-2.65zM156.8 129.64h2.65v2.87h-2.65zM156.8 138.09h2.65v2.87h-2.65zM156.8 146.55h2.65v2.87h-2.65z"/><path fill="#8ed08b" d="M164 156h2.83v2.87h-2.83zM164 172.91h2.83v2.87h-2.83zM164 181.36h2.83v2.87h-2.83zM169.56 172.91h2.83v2.87h-2.83zM172.33 158.82h2.83v2.87h-2.83zM175.11 156h2.83v2.87h-2.83z"/><path fill="#edf8e9" d="M164 158.82h2.83v2.87h-2.83zM169.56 156h2.83v2.87h-2.83zM169.56 161.64h2.83v2.87h-2.83zM169.56 178.55h2.83v2.87h-2.83z"/><path fill="#73c476" d="M164 161.64h2.83v2.87h-2.83zM164 175.73h2.83v2.87h-2.83zM164 178.55h2.83v2.87h-2.83zM169.56 170.09h2.83v2.87h-2.83zM172.33 156h2.83v2.87h-2.83zM172.33 172.91h2.83v2.87h-2.83zM175.11 178.55h2.83v2.87h-2.83zM180.67 175.73h2.83v2.87h-2.83zM186.22 161.64h2.83v2.87h-2.83z"/><path fill="#18823d" d="M164 167.27h2.83v2.87h-2.83zM164 170.09h2.83v2.87h-2.83zM166.78 167.27h2.83v2.87h-2.83zM166.78 178.55h2.83v2.87h-2.83zM177.89 175.73h2.83v2.87h-2.83zM180.67 161.64h2.83v2.87h-2.83zM180.67 167.27h2.83v2.87h-2.83zM183.44 156h2.83v2.87h-2.83zM186.22 156h2.83v2.87h-2.83z"/><path fill="#56b567" d="M164 184.18h2.83v2.87h-2.83zM166.78 156h2.83v2.87h-2.83zM169.56 175.73h2.83v2.87h-2.83zM169.56 181.36h2.83v2.87h-2.83zM172.33 178.55h2.83v2.87h-2.83zM175.11 175.73h2.83v2.87h-2.83zM180.67 156h2.83v2.87h-2.83zM180.67 158.82h2.83v2.87h-2.83zM180.67 181.36h2.83v2.87h-2.83zM183.44 161.64h2.83v2.87h-2.83zM186.22 164.45h2.83v2.87h-2.83z"/><path fill="#3da65a" d="M166.78 161.64h2.83v2.87h-2.83zM172.33 170.09h2.83v2.87h-2.83zM172.33 184.18h2.83v2.87h-2.83zM175.11 158.82h2.83v2.87h-2.83zM175.11 161.64h2.83v2.87h-2.83zM175.11 167.27h2.83v2.87h-2.83zM175.11 172.91h2.83v2.87h-2.83zM175.11 184.18h2.83v2.87h-2.83zM186.22 172.91h2.83v2.87h-2.83zM186.22 181.36h2.83v2.87h-2.83z"/><path fill="#00441b" d="M166.78 172.91h2.83v2.87h-2.83zM166.78 175.73h2.83v2.87h-2.83zM177.89 156h2.83v2.87h-2.83zM180.67 178.55h2.83v2.87h-2.83zM183.44 158.82h2.83v2.87h-2.83zM183.44 175.73h2.83v2.87h-2.83zM183.44 181.36h2.83v2.87h-2.83zM186.22 170.09h2.83v2.87h-2.83zM186.22 178.55h2.83v2.87h-2.83z"/><path fill="#d0edca" d="M166.78 181.36h2.83v2.87h-2.83z"/><path fill="#2c944c" d="M166.78 184.18h2.83v2.87h-2.83zM175.11 170.09h2.83v2.87h-2.83zM175.11 181.36h2.83v2.87h-2.83zM177.89 158.82h2.83v2.87h-2.83zM177.89 170.09h2.83v2.87h-2.83zM177.89 172.91h2.83v2.87h-2.83zM180.67 172.91h2.83v2.87h-2.83zM183.44 184.18h2.83v2.87h-2.83zM186.22 184.18h2.83v2.87h-2.83z"/><path fill="#bce4b5" d="M169.56 158.82h2.83v2.87h-2.83zM169.56 164.45h2.83v2.87h-2.83zM172.33 175.73h2.83v2.87h-2.83z"/><path fill="#a7dba0" d="M169.56 167.27h2.83v2.87h-2.83zM169.56 184.18h2.83v2.87h-2.83zM172.33 164.45h2.83v2.87h-2.83zM172.33 167.27h2.83v2.87h-2.83zM172.33 181.36h2.83v2.87h-2.83zM180.67 184.18h2.83v2.87h-2.83z"/><path fill="#05712f" d="M172.33 161.64h2.83v2.87h-2.83zM175.11 164.45h2.83v2.87h-2.83zM177.89 167.27h2.83v2.87h-2.83zM177.89 178.55h2.83v2.87h-2.83zM183.44 164.45h2.83v2.87h-2.83zM183.44 167.27h2.83v2.87h-2.83zM183.44 172.91h2.83v2.87h-2.83zM183.44 178.55h2.83v2.87h-2.83zM186.22 158.82h2.83v2.87h-2.83zM186.22 167.27h2.83v2.87h-2.83zM186.22 175.73h2.83v2.87h-2.83z"/><path fill="#005b25" d="M177.89 184.18h2.83v2.87h-2.83zM180.67 164.45h2.83v2.87h-2.83z"/><path fill="#feeddb" d="M188 187h2.87v2.75h-2.87z"/><path fill="#fda057" d="M188 189.7h2.87v2.75h-2.87zM188 192.4h2.87v2.75h-2.87zM188 205.9h2.87v2.75h-2.87zM190.82 187h2.87v2.75h-2.87zM196.45 205.9h2.87v2.75h-2.87zM196.45 211.3h2.87v2.75h-2.87zM199.27 205.9h2.87v2.75h-2.87zM213.36 205.9h2.87v2.75h-2.87zM216.18 195.1h2.87v2.75h-2.87z"/><path fill="#fee3c8" d="M188 195.1h2.87v2.75h-2.87zM190.82 200.5h2.87v2.75h-2.87z"/><path fill="#fd8c3b" d="M188 197.8h2.87v2.75h-2.87zM188 208.6h2.87v2.75h-2.87zM190.82 203.2h2.87v2.75h-2.87zM190.82 208.6h2.87v2.75h-2.87zM193.64 205.9h2.87v2.75h-2.87zM196.45 187h2.87v2.75h-2.87zM196.45 200.5h2.87v2.75h-2.87zM199.27 189.7h2.87v2.75h-2.87zM199.27 195.1h2.87v2.75h-2.87zM204.91 208.6h2.87v2.75h-2.87zM210.55 205.9h2.87v2.75h-2.87zM216.18 189.7h2.87v2.75h-2.87z"/><path fill="#fdc692" d="M188 200.5h2.87v2.75h-2.87zM188 203.2h2.87v2.75h-2.87zM190.82 195.1h2.87v2.75h-2.87zM193.64 192.4h2.87v2.75h-2.87zM193.64 195.1h2.87v2.75h-2.87zM193.64 200.5h2.87v2.75h-2.87zM196.45 195.1h2.87v2.75h-2.87z"/><path fill="#fdd7af" d="M188 211.3h2.87v2.75h-2.87zM196.45 203.2h2.87v2.75h-2.87z"/><path fill="#fdb373" d="M190.82 189.7h2.87v2.75h-2.87zM193.64 203.2h2.87v2.75h-2.87zM193.64 208.6h2.87v2.75h-2.87zM193.64 211.3h2.87v2.75h-2.87zM196.45 189.7h2.87v2.75h-2.87zM196.45 197.8h2.87v2.75h-2.87zM199.27 211.3h2.87v2.75h-2.87z"/><path fill="#ee6410" d="M190.82 192.4h2.87v2.75h-2.87zM190.82 197.8h2.87v2.75h-2.87zM190.82 205.9h2.87v2.75h-2.87zM193.64 197.8h2.87v2.75h-2.87zM202.09 197.8h2.87v2.75h-2.87zM204.91 189.7h2.87v2.75h-2.87zM204.91 203.2h2.87v2.75h-2.87zM207.73 200.5h2.87v2.75h-2.87zM207.73 208.6h2.87v2.75h-2.87zM210.55 197.8h2.87v2.75h-2.87zM213.36 200.5h2.87v2.75h-2.87zM216.18 208.6h2.87v2.75h-2.87z"/><path fill="#f67824" d="M190.82 211.3h2.87v2.75h-2.87zM193.64 187h2.87v2.75h-2.87zM196.45 208.6h2.87v2.75h-2.87zM199.27 192.4h2.87v2.75h-2.87zM199.27 203.2h2.87v2.75h-2.87zM199.27 208.6h2.87v2.75h-2.87zM202.09 200.5h2.87v2.75h-2.87zM202.09 211.3h2.87v2.75h-2.87zM204.91 205.9h2.87v2.75h-2.87zM207.73 197.8h2.87v2.75h-2.87z"/><path fill="#e05206" d="M196.45 192.4h2.87v2.75h-2.87zM204.91 192.4h2.87v2.75h-2.87zM204.91 195.1h2.87v2.75h-2.87zM204.91 200.5h2.87v2.75h-2.87zM207.73 205.9h2.87v2.75h-2.87zM207.73 211.3h2.87v2.75h-2.87zM213.36 195.1h2.87v2.75h-2.87zM213.36 203.2h2.87v2.75h-2.87zM213.36 211.3h2.87v2.75h-2.87zM216.18 197.8h2.87v2.75h-2.87zM216.18 200.5h2.87v2.75h-2.87zM216.18 203.2h2.87v2.75h-2.87zM216.18 211.3h2.87v2.75h-2.87z"/><path fill="#c94202" d="M202.09 187h2.87v2.75h-2.87zM202.09 208.6h2.87v2.75h-2.87zM204.91 197.8h2.87v2.75h-2.87zM207.73 187h2.87v2.75h-2.87zM207.73 192.4h2.87v2.75h-2.87zM207.73 203.2h2.87v2.75h-2.87zM210.55 187h2.87v2.75h-2.87zM210.55 203.2h2.87v2.75h-2.87zM213.36 187h2.87v2.75h-2.87z"/><path fill="#952f03" d="M202.09 189.7h2.87v2.75h-2.87zM207.73 189.7h2.87v2.75h-2.87zM210.55 208.6h2.87v2.75h-2.87zM210.55 211.3h2.87v2.75h-2.87zM213.36 208.6h2.87v2.75h-2.87z"/><path fill="#ad3803" d="M202.09 195.1h2.87v2.75h-2.87zM202.09 203.2h2.87v2.75h-2.87zM210.55 192.4h2.87v2.75h-2.87zM213.36 189.7h2.87v2.75h-2.87zM213.36 192.4h2.87v2.75h-2.87z"/><path fill="#7f2704" d="M204.91 211.3h2.87v2.75h-2.87zM210.55 195.1h2.87v2.75h-2.87zM210.55 200.5h2.87v2.75h-2.87zM213.36 197.8h2.87v2.75h-2.87zM216.18 187h2.87v2.75h-2.87zM216.18 192.4h2.87v2.75h-2.87zM216.18 205.9h2.87v2.75h-2.87z"/><path fill="#830033" d="M218 214h2.65v2.85h-2.65zM218 216.8h2.65v2.85h-2.65zM218 219.6h2.65v2.85h-2.65zM218 228h2.65v2.85h-2.65zM220.6 216.8h2.65v2.85h-2.65zM220.6 222.4h2.65v2.85h-2.65zM225.8 219.6h2.65v2.85h-2.65zM225.8 239.2h2.65v2.85h-2.65zM231 214h2.65v2.85h-2.65zM231 222.4h2.65v2.85h-2.65zM231 233.6h2.65v2.85h-2.65zM236.2 214h2.65v2.85h-2.65zM236.2 219.6h2.65v2.85h-2.65zM236.2 228h2.65v2.85h-2.65zM241.4 219.6h2.65v2.85h-2.65zM241.4 225.2h2.65v2.85h-2.65z"/><path fill="#9f0245" d="M218 225.2h2.65v2.85h-2.65zM218 239.2h2.65v2.85h-2.65zM220.6 233.6h2.65v2.85h-2.65zM220.6 239.2h2.65v2.85h-2.65zM225.8 216.8h2.65v2.85h-2.65zM231 216.8h2.65v2.85h-2.65zM231 230.8h2.65v2.85h-2.65zM231 236.4h2.65v2.85h-2.65zM236.2 216.8h2.65v2.85h-2.65zM236.2 236.4h2.65v2.85h-2.65zM241.4 228h2.65v2.85h-2.65zM241.4 230.8h2.65v2.85h-2.65z"/><path fill="#67001f" d="M218 230.8h2.65v2.85h-2.65zM218 233.6h2.65v2.85h-2.65zM218 236.4h2.65v2.85h-2.65zM220.6 214h2.65v2.85h-2.65zM220.6 219.6h2.65v2.85h-2.65zM220.6 228h2.65v2.85h-2.65zM220.6 236.4h2.65v2.85h-2.65zM225.8 230.8h2.65v2.85h-2.65zM225.8 233.6h2.65v2.85h-2.65zM231 219.6h2.65v2.85h-2.65zM236.2 222.4h2.65v2.85h-2.65zM236.2 230.8h2.65v2.85h-2.65zM241.4 216.8h2.65v2.85h-2.65zM241.4 233.6h2.65v2.85h-2.65zM241.4 236.4h2.65v2.85h-2.65z"/><path fill="#e32682" d="M220.6 225.2h2.65v2.85h-2.65zM223.2 219.6h2.65v2.85h-2.65zM225.8 228h2.65v2.85h-2.65zM228.4 216.8h2.65v2.85h-2.65zM228.4 222.4h2.65v2.85h-2.65zM233.6 216.8h2.65v2.85h-2.65zM233.6 233.6h2.65v2.85h-2.65zM236.2 239.2h2.65v2.85h-2.65zM238.8 219.6h2.65v2.85h-2.65z"/><path fill="#bd0c50" d="M220.6 230.8h2.65v2.85h-2.65zM223.2 236.4h2.65v2.85h-2.65zM225.8 214h2.65v2.85h-2.65zM225.8 222.4h2.65v2.85h-2.65zM225.8 225.2h2.65v2.85h-2.65zM231 225.2h2.65v2.85h-2.65zM236.2 225.2h2.65v2.85h-2.65zM241.4 214h2.65v2.85h-2.65zM241.4 222.4h2.65v2.85h-2.65z"/><path fill="#cb99ca" d="M223.2 214h2.65v2.85h-2.65zM238.8 216.8h2.65v2.85h-2.65z"/><path fill="#e4429a" d="M223.2 216.8h2.65v2.85h-2.65zM223.2 228h2.65v2.85h-2.65zM228.4 225.2h2.65v2.85h-2.65zM233.6 225.2h2.65v2.85h-2.65zM238.8 228h2.65v2.85h-2.65z"/><path fill="#d280bd" d="M223.2 222.4h2.65v2.85h-2.65zM223.2 225.2h2.65v2.85h-2.65zM223.2 233.6h2.65v2.85h-2.65zM223.2 239.2h2.65v2.85h-2.65zM233.6 230.8h2.65v2.85h-2.65zM233.6 239.2h2.65v2.85h-2.65z"/><path fill="#df64af" d="M223.2 230.8h2.65v2.85h-2.65zM228.4 214h2.65v2.85h-2.65zM228.4 230.8h2.65v2.85h-2.65zM228.4 233.6h2.65v2.85h-2.65zM228.4 236.4h2.65v2.85h-2.65zM233.6 219.6h2.65v2.85h-2.65zM233.6 222.4h2.65v2.85h-2.65zM233.6 228h2.65v2.85h-2.65zM233.6 236.4h2.65v2.85h-2.65zM238.8 214h2.65v2.85h-2.65zM238.8 222.4h2.65v2.85h-2.65zM238.8 230.8h2.65v2.85h-2.65zM238.8 233.6h2.65v2.85h-2.65zM238.8 236.4h2.65v2.85h-2.65z"/><path fill="#d51965" d="M225.8 236.4h2.65v2.85h-2.65zM231 228h2.65v2.85h-2.65zM231 239.2h2.65v2.85h-2.65zM233.6 214h2.65v2.85h-2.65zM236.2 233.6h2.65v2.85h-2.65zM238.8 225.2h2.65v2.85h-2.65zM238.8 239.2h2.65v2.85h-2.65z"/><path fill="#d1aed4" d="M228.4 219.6h2.65v2.85h-2.65zM228.4 228h2.65v2.85h-2.65z"/><path fill="#e5dcec" d="M228.4 239.2h2.65v2.85h-2.65z"/><path fill="#77c679" d="M243 241h2.65v2.65h-2.65zM248.2 248.8h2.65v2.65h-2.65zM250.8 261.8h2.65v2.65h-2.65zM253.4 251.4h2.65v2.65h-2.65zM256 259.2h2.65v2.65h-2.65zM258.6 248.8h2.65v2.65h-2.65zM263.8 251.4h2.65v2.65h-2.65zM266.4 259.2h2.65v2.65h-2.65z"/><path fill="#ccea9d" d="M243 243.6h2.65v2.65h-2.65zM243 261.8h2.65v2.65h-2.65zM250.8 254h2.65v2.65h-2.65zM258.6 251.4h2.65v2.65h-2.65z"/><path fill="#97d385" d="M243 251.4h2.65v2.65h-2.65zM250.8 264.4h2.65v2.65h-2.65zM258.6 243.6h2.65v2.65h-2.65zM258.6 261.8h2.65v2.65h-2.65z"/><path fill="#f3fab6" d="M243 254h2.65v2.65h-2.65zM243 259.2h2.65v2.65h-2.65zM258.6 241h2.65v2.65h-2.65zM258.6 256.6h2.65v2.65h-2.65z"/><path fill="#004529" d="M245.6 241h2.65v2.65h-2.65zM245.6 243.6h2.65v2.65h-2.65zM245.6 246.2h2.65v2.65h-2.65zM245.6 251.4h2.65v2.65h-2.65zM245.6 254h2.65v2.65h-2.65zM248.2 241h2.65v2.65h-2.65zM248.2 251.4h2.65v2.65h-2.65zM248.2 256.6h2.65v2.65h-2.65zM261.2 251.4h2.65v2.65h-2.65zM261.2 256.6h2.65v2.65h-2.65zM261.2 264.4h2.65v2.65h-2.65zM263.8 241h2.65v2.65h-2.65zM263.8 246.2h2.65v2.65h-2.65zM263.8 248.8h2.65v2.65h-2.65zM263.8 259.2h2.65v2.65h-2.65zM263.8 261.8h2.65v2.65h-2.65z"/><path fill="#58b669" d="M245.6 248.8h2.65v2.65h-2.65zM250.8 248.8h2.65v2.65h-2.65zM253.4 246.2h2.65v2.65h-2.65zM256 241h2.65v2.65h-2.65zM256 251.4h2.65v2.65h-2.65zM256 256.6h2.65v2.65h-2.65zM261.2 259.2h2.65v2.65h-2.65zM266.4 246.2h2.65v2.65h-2.65z"/><path fill="#056c39" d="M245.6 256.6h2.65v2.65h-2.65zM245.6 259.2h2.65v2.65h-2.65zM245.6 261.8h2.65v2.65h-2.65zM248.2 254h2.65v2.65h-2.65zM253.4 259.2h2.65v2.65h-2.65zM261.2 243.6h2.65v2.65h-2.65zM261.2 248.8h2.65v2.65h-2.65zM263.8 243.6h2.65v2.65h-2.65z"/><path fill="#005931" d="M245.6 264.4h2.65v2.65h-2.65zM248.2 261.8h2.65v2.65h-2.65zM250.8 259.2h2.65v2.65h-2.65zM253.4 264.4h2.65v2.65h-2.65zM256 248.8h2.65v2.65h-2.65zM263.8 254h2.65v2.65h-2.65zM263.8 256.6h2.65v2.65h-2.65z"/><path fill="#187b3f" d="M248.2 243.6h2.65v2.65h-2.65zM250.8 256.6h2.65v2.65h-2.65zM253.4 254h2.65v2.65h-2.65zM261.2 254h2.65v2.65h-2.65zM261.2 261.8h2.65v2.65h-2.65zM263.8 264.4h2.65v2.65h-2.65z"/><path fill="#3da559" d="M248.2 246.2h2.65v2.65h-2.65zM250.8 243.6h2.65v2.65h-2.65zM250.8 246.2h2.65v2.65h-2.65zM253.4 241h2.65v2.65h-2.65zM253.4 243.6h2.65v2.65h-2.65zM253.4 248.8h2.65v2.65h-2.65zM258.6 264.4h2.65v2.65h-2.65zM266.4 241h2.65v2.65h-2.65zM266.4 254h2.65v2.65h-2.65z"/><path fill="#2c8f4b" d="M248.2 259.2h2.65v2.65h-2.65zM248.2 264.4h2.65v2.65h-2.65zM250.8 241h2.65v2.65h-2.65zM258.6 246.2h2.65v2.65h-2.65z"/><path fill="#b3e091" d="M253.4 261.8h2.65v2.65h-2.65zM256 246.2h2.65v2.65h-2.65zM256 261.8h2.65v2.65h-2.65zM261.2 241h2.65v2.65h-2.65z"/><path fill="#e2f4aa" d="M256 243.6h2.65v2.65h-2.65zM266.4 248.8h2.65v2.65h-2.65zM266.4 251.4h2.65v2.65h-2.65z"/><path fill="#fafdcc" d="M256 254h2.65v2.65h-2.65zM256 264.4h2.65v2.65h-2.65zM266.4 243.6h2.65v2.65h-2.65z"/><path fill="#61bdcd" d="M269 269.67h2.76v2.72h-2.76zM269 277.67h2.76v2.72h-2.76zM269 283h2.76v2.72h-2.76zM269 288.33h2.76v2.72h-2.76zM282.57 267h2.76v2.72h-2.76zM282.57 272.33h2.76v2.72h-2.76zM282.57 277.67h2.76v2.72h-2.76zM285.29 267h2.76v2.72h-2.76zM285.29 277.67h2.76v2.72h-2.76zM285.29 285.67h2.76v2.72h-2.76zM285.29 288.33h2.76v2.72h-2.76z"/><path fill="#7accc4" d="M269 272.33h2.76v2.72h-2.76zM282.57 269.67h2.76v2.72h-2.76zM282.57 283h2.76v2.72h-2.76zM282.57 285.67h2.76v2.72h-2.76zM285.29 269.67h2.76v2.72h-2.76zM285.29 280.33h2.76v2.72h-2.76z"/><path fill="#3597c4" d="M269 280.33h2.76v2.72h-2.76zM282.57 275h2.76v2.72h-2.76zM285.29 275h2.76v2.72h-2.76z"/><path fill="#0d6dae" d="M271.71 267h2.76v2.72h-2.76zM271.71 277.67h2.76v2.72h-2.76zM271.71 283h2.76v2.72h-2.76zM274.43 267h2.76v2.72h-2.76zM274.43 288.33h2.76v2.72h-2.76zM277.14 280.33h2.76v2.72h-2.76zM277.14 283h2.76v2.72h-2.76zM279.86 267h2.76v2.72h-2.76zM279.86 272.33h2.76v2.72h-2.76zM279.86 288.33h2.76v2.72h-2.76z"/><path fill="#2081b8" d="M271.71 269.67h2.76v2.72h-2.76zM271.71 272.33h2.76v2.72h-2.76zM271.71 275h2.76v2.72h-2.76zM279.86 275h2.76v2.72h-2.76zM279.86 283h2.76v2.72h-2.76zM279.86 285.67h2.76v2.72h-2.76z"/><path fill="#084081" d="M271.71 280.33h2.76v2.72h-2.76zM274.43 269.67h2.76v2.72h-2.76zM274.43 275h2.76v2.72h-2.76zM274.43 277.67h2.76v2.72h-2.76zM274.43 285.67h2.76v2.72h-2.76zM277.14 267h2.76v2.72h-2.76zM277.14 269.67h2.76v2.72h-2.76zM277.14 277.67h2.76v2.72h-2.76zM277.14 285.67h2.76v2.72h-2.76zM277.14 288.33h2.76v2.72h-2.76zM279.86 269.67h2.76v2.72h-2.76z"/><path fill="#085799" d="M271.71 285.67h2.76v2.72h-2.76zM271.71 288.33h2.76v2.72h-2.76zM274.43 272.33h2.76v2.72h-2.76zM274.43 280.33h2.76v2.72h-2.76zM274.43 283h2.76v2.72h-2.76zM277.14 272.33h2.76v2.72h-2.76zM277.14 275h2.76v2.72h-2.76zM279.86 277.67h2.76v2.72h-2.76zM279.86 280.33h2.76v2.72h-2.76z"/><path fill="#49add0" d="M282.57 280.33h2.76v2.72h-2.76zM285.29 283h2.76v2.72h-2.76z"/><path fill="#95d6bb" d="M282.57 288.33h2.76v2.72h-2.76z"/><path fill="#addfb7" d="M285.29 272.33h2.76v2.72h-2.76z"/><path fill="#fe9829" d="M287 292h2.83v2.8h-2.83zM289.78 297.5h2.83v2.8h-2.83zM292.56 311.25h2.83v2.8h-2.83zM300.89 300.25h2.83v2.8h-2.83zM300.89 305.75h2.83v2.8h-2.83zM300.89 308.5h2.83v2.8h-2.83zM303.67 305.75h2.83v2.8h-2.83zM309.22 303h2.83v2.8h-2.83z"/><path fill="#feda7e" d="M287 294.75h2.83v2.8h-2.83zM287 311.25h2.83v2.8h-2.83zM289.78 292h2.83v2.8h-2.83zM309.22 305.75h2.83v2.8h-2.83zM309.22 311.25h2.83v2.8h-2.83z"/><path fill="#fec859" d="M287 297.5h2.83v2.8h-2.83zM287 308.5h2.83v2.8h-2.83zM289.78 308.5h2.83v2.8h-2.83zM292.56 294.75h2.83v2.8h-2.83zM300.89 297.5h2.83v2.8h-2.83zM303.67 292h2.83v2.8h-2.83zM306.44 305.75h2.83v2.8h-2.83zM309.22 292h2.83v2.8h-2.83zM309.22 294.75h2.83v2.8h-2.83zM309.22 297.5h2.83v2.8h-2.83z"/><path fill="#fee99e" d="M287 300.25h2.83v2.8h-2.83zM289.78 300.25h2.83v2.8h-2.83z"/><path fill="#fff4b6" d="M287 303h2.83v2.8h-2.83zM287 305.75h2.83v2.8h-2.83z"/><path fill="#feb23f" d="M289.78 294.75h2.83v2.8h-2.83zM289.78 303h2.83v2.8h-2.83zM289.78 305.75h2.83v2.8h-2.83zM289.78 311.25h2.83v2.8h-2.83zM292.56 292h2.83v2.8h-2.83zM292.56 300.25h2.83v2.8h-2.83zM300.89 294.75h2.83v2.8h-2.83zM300.89 303h2.83v2.8h-2.83zM303.67 300.25h2.83v2.8h-2.83zM303.67 303h2.83v2.8h-2.83zM309.22 308.5h2.83v2.8h-2.83z"/><path fill="#e76b11" d="M292.56 297.5h2.83v2.8h-2.83zM292.56 305.75h2.83v2.8h-2.83zM292.56 308.5h2.83v2.8h-2.83zM306.44 292h2.83v2.8h-2.83zM306.44 294.75h2.83v2.8h-2.83zM306.44 300.25h2.83v2.8h-2.83zM306.44 303h2.83v2.8h-2.83zM309.22 300.25h2.83v2.8h-2.83z"/><path fill="#f4811d" d="M292.56 303h2.83v2.8h-2.83zM300.89 292h2.83v2.8h-2.83zM303.67 294.75h2.83v2.8h-2.83zM306.44 297.5h2.83v2.8h-2.83z"/><path fill="#832d05" d="M295.33 292h2.83v2.8h-2.83zM295.33 311.25h2.83v2.8h-2.83zM298.11 294.75h2.83v2.8h-2.83zM298.11 297.5h2.83v2.8h-2.83zM298.11 303h2.83v2.8h-2.83zM298.11 308.5h2.83v2.8h-2.83z"/><path fill="#bc4503" d="M295.33 297.5h2.83v2.8h-2.83zM298.11 305.75h2.83v2.8h-2.83zM303.67 297.5h2.83v2.8h-2.83z"/><path fill="#a03704" d="M295.33 300.25h2.83v2.8h-2.83zM295.33 308.5h2.83v2.8h-2.83zM306.44 308.5h2.83v2.8h-2.83z"/><path fill="#662506" d="M298.11 292h2.83v2.8h-2.83zM298.11 311.25h2.83v2.8h-2.83z"/><path fill="#d55607" d="M303.67 311.25h2.83v2.8h-2.83z"/><path fill="#705eaa" d="M314 324.5h2.67v2.67h-2.67z"/></g>
<defs><linearGradient id="cbg" x1="0" x2="1" y1="0" y2="0">
<stop offset="0" stop-color="#fafafa"/><stop offset="0.5" stop-color="#a4a4a4"/><stop offset="1" stop-color="#363636"/></linearGradient></defs>
<rect x="155.4" y="63.2" width="170.8" height="9.4" fill="url(#cbg)" stroke="#999" stroke-width="0.5"/><text x="157.5" y="83" font-size="11.3" text-anchor="middle" class="s">0</text><text x="199.5" y="83" font-size="11.3" text-anchor="middle" class="s">10</text><text x="238.7" y="83" font-size="11.3" text-anchor="middle" class="s">20</text><text x="277.6" y="83" font-size="11.3" text-anchor="middle" class="s">30</text><text x="317" y="83" font-size="11.3" text-anchor="middle" class="s">40</text>
<path d="M53.5 335.5V56.5H335.5V335.5" fill="none" stroke="#666" stroke-width="1"/><line x1="53.0" x2="336.0" y1="335.8" y2="335.8" stroke="#9a9a9a" stroke-width="1.4"/>


<text transform="translate(358.6 20) scale(0.95 1)" class="s" font-size="28">B</text>
<text x="430.8" y="43.5" class="r" font-size="21" text-anchor="middle">authors</text>
<text x="633.4" y="43.3" class="r" font-size="21" text-anchor="middle">papers</text>
<g filter="url(#blur2)"><path d="M443 300L652 107M435 323L641 164M445 133L626 108M441 270L636 325M417 77L621 290M408 273L632 245M430 131L619 295M421 107L619 188M445 162L666 77M412 192L618 242M443 134L658 325M442 162L619 136M434 79L632 187M417 159L629 245M406 184L625 106M406 327L657 271M432 108L651 133M407 131L633 216M423 104L629 219M415 79L632 329M434 190L619 134M448 189L621 301M408 159L649 217M419 76L663 103M421 328L643 215M417 246L622 299M418 108L660 162M448 244L618 184M432 135L647 82M407 219L627 105M419 136L655 163M407 158L639 134M433 134L637 76M411 79L631 299M429 214L618 189M438 135L633 79M444 246L661 300M414 272L659 133M447 241L639 276M417 326L616 242M429 271L651 109M427 324L659 161M425 78L665 324M437 327L661 272M433 79L636 216M430 76L663 268M433 162L632 271M433 104L662 295M420 101L640 298M448 158L634 322M446 162L666 293M437 111L654 133M405 85L627 299M435 270L659 128M433 108L645 273M438 242L651 264M417 244L626 211M414 136L638 84M416 190L650 298M444 275L619 188M416 189L618 167M447 323L634 298M412 133L655 271M416 111L638 189M441 242L620 269M446 301L658 324M419 298L665 74M428 245L648 135M420 273L627 216M420 160L616 239M410 186L644 131M415 270L625 327M420 214L663 300M418 190L619 243M404 199L638 245M444 77L653 326M436 137L627 215M411 245L660 299M415 271L638 247M449 106L627 271M445 331L655 190M424 186L663 162M446 245L666 218M424 129L658 300M408 187L619 272M408 273L624 108M415 322L666 297M418 295L663 132M416 81L615 242M447 328L630 267M411 244L655 301M417 136L664 104M418 167L616 75M437 269L638 134M425 138L631 108M441 241L628 136M434 246L627 267M412 110L621 164M412 271L665 241M423 133L642 73M440 214L643 302M430 301L631 237M443 298L663 242M448 105L654 136M439 184L630 161M423 132L618 166M426 136L636 82M407 271L667 245M412 110L652 84M414 215L640 244M410 299L617 269M449 325L621 78M432 299L631 164M434 77L644 105M433 134L651 216M449 244L639 211M441 326L620 297M430 244L661 106M439 83L616 134M407 162L658 187M434 213L660 191M419 162L630 129M436 105L665 329M412 325L660 242M426 221L619 243M435 247L635 325M412 240L660 217M439 245L644 190M434 77L660 162M442 296L624 136M420 267L619 162M423 81L616 243M419 107L624 80M412 79L630 134M426 161L656 104M438 216L642 271M406 186L637 275M420 190L617 215M406 300L627 164M446 270L625 241M408 215L615 301M408 191L640 326M416 189L632 134M438 296L651 330M417 111L661 215M411 79L632 191M443 274L658 319M433 247L619 269M412 217L645 274M443 217L630 81M428 241L662 189M449 110L665 241M413 159L654 189M419 104L619 327M448 77L640 322M444 131L662 187M434 164L647 272M438 161L662 301M415 243L659 267M409 165L627 217M437 186L632 299M414 219L659 76M423 270L634 246M448 80L650 137M440 298L654 323M446 190L662 296M435 325L665 187M443 84L633 243M428 243L658 214M421 136L665 82M443 241L634 298M416 129L631 190M442 215L665 184M415 268L632 245M423 300L615 135M431 324L652 135M442 160L627 108M428 167L657 104M415 107L642 273M407 104L633 327M422 83L659 324M430 271L662 161M409 246L623 103M425 326L617 79M413 186L651 220M423 322L656 161M410 240L666 301M440 270L665 79M407 134L650 106M449 191L640 81M447 159L664 105M418 161L632 215M430 298L634 244M430 102L662 244M419 193L640 217M408 299L622 82M419 328L633 244M411 163L616 107M426 270L625 165M430 240L647 187M434 328L629 272M440 214L624 192M438 217L631 106M410 130L655 211M418 273L632 130M423 160L621 108M421 242L650 135M423 295L658 271M440 183L659 159M419 216L662 268M431 221L625 243M432 248L626 214M415 127L627 160M421 299L641 193M409 134L659 221M422 326L640 133M447 135L628 106M424 268L636 325M409 241L654 190M434 272L635 107M450 103L641 217M421 105L636 192M443 217L650 81M427 77L633 217M425 132L636 331M427 82L659 189M448 241L653 133M442 188L624 243M438 218L640 269M443 108L662 160M408 76L623 215M423 131L623 75M431 108L648 324M406 106L633 133M424 217L630 273M445 195L630 107M412 241L653 75M432 192L649 84M439 216L641 74M434 216L619 132M426 326L619 272M421 162L648 77M434 271L651 297M435 158L648 132M431 134L618 211M410 216L645 134M418 77L623 248M435 218L653 162M435 106L622 134M437 82L650 109M410 248L621 273M440 219L635 244M432 187L617 163M418 296L640 162M423 160L655 109M418 188L641 268M433 81L620 242M423 83L625 239M432 111L626 246M437 78L627 322M422 187L657 134M426 242L633 80M427 216L667 295M423 135L621 192M404 105L626 270M444 131L665 161M432 188L651 242M406 271L619 219M412 188L634 215M432 270L630 188M432 107L622 188M437 324L626 270M417 270L627 243M414 72L652 326M446 75L664 136M424 274L628 191M428 294L625 192M447 301L641 218M441 217L658 134M443 243L649 216M418 135L640 271M443 191L661 298M439 189L653 244M434 158L627 215M410 246L649 216M420 272L662 106M420 214L640 163M418 270L623 242M425 247L660 297M445 235L617 77M428 80L663 133M437 270L615 322M414 268L658 303M435 298L653 213M422 325L636 161M424 268L663 165M405 244L665 273M406 135L651 217M420 245L622 158M406 81L661 243M433 274L644 299M449 79L655 109M434 239L626 160M411 323L638 298M438 271L622 165M413 77L643 244M419 213L647 327M434 188L652 77M420 187L647 108M432 75L646 322M412 245L648 80M411 302L624 188M413 80L647 322M416 215L651 330M437 244L630 189M412 136L651 164M406 237L629 215M442 110L621 161M430 105L641 161M433 301L645 189M427 79L648 326M404 215L659 245M433 243L616 80M431 100L639 271M411 158L658 326M432 299L636 136M442 326L626 215M418 217L655 135M430 161L646 106M410 242L662 326M415 77L626 162M417 321L659 238M448 272L640 159M431 300L660 241M432 241L646 220M443 164L649 80M412 161L631 297M442 130L666 80M449 325L642 133M405 137L628 159M418 78L655 215M415 299L638 272M421 324L624 299M437 80L666 191M449 104L634 329M428 134L656 108M432 81L639 161M405 137L652 185M414 140L619 215M416 270L651 79M433 133L620 185M437 85L625 326M425 302L625 81M435 296L653 244M428 186L644 322M437 328L633 133M430 333L633 240M411 107L657 267M447 133L644 326M442 109L617 132M412 216L634 324M408 269L655 109M406 107L635 215M408 81L662 248M435 218L641 80M416 163L649 192M443 79L629 213M434 297L650 218M430 134L633 217M428 188L633 244M431 328L626 192M447 272L664 81M441 327L623 186M429 243L634 298M407 111L652 297M422 105L626 299M427 268L646 165M423 218L638 265M426 107L649 323M427 185L663 134M416 300L645 217M413 79L640 108M425 133L663 297M442 265L620 243M416 163L646 246M434 188L656 214M410 161L641 79M437 329L644 111M407 216L617 245M433 107L652 331M426 296L628 188M445 107L654 189M409 81L646 267M443 274L635 297M433 301L652 218M411 327L657 295M435 188L628 135M412 162L621 300M437 301L638 324M415 76L644 216M438 186L644 325M434 84L666 294M423 134L624 243M444 189L657 140M436 188L646 280M431 135L665 107M406 135L661 77M448 271L646 107M415 326L624 269M439 296L639 160M434 215L659 300M409 161L617 131M406 160L623 108M449 162L647 134M449 326L653 274M414 80L644 140M412 267L627 216M426 187L624 159M417 81L642 133M449 187L624 79M414 271L651 79M432 298L641 243M428 106L658 78M427 242L663 186M420 135L644 267M448 269L650 297M425 273L650 77M409 189L658 81M404 295L657 246M443 296L631 327M436 133L651 80M435 190L653 300M447 80L636 131M431 271L665 217M440 133L635 243M441 164L637 325M408 217L630 244M428 191L618 136M417 107L627 266M405 132L631 160M447 271L618 244M436 160L649 107M423 250L625 302M426 189L646 326M448 102L626 325M437 136L617 159M431 76L626 326M422 161L620 190M432 326L658 215M425 134L645 111M411 105L655 215M406 243L629 220M437 219L631 165M419 188L656 297M423 158L645 326M411 299L665 242M420 185L661 239M407 81L618 330M414 220L636 161M409 192L644 325M418 215L623 189M415 131L628 324M415 188L630 136M415 189L632 324M450 240L661 301M416 322L626 270M420 325L658 243M421 82L633 187M430 274L634 192M434 81L624 109M410 217L631 295M446 327L623 212M447 211L639 270M449 300L658 76M435 324L622 300M417 80L661 271M436 243L651 300M445 247L655 160M408 270L629 133M406 108L645 275M412 189L662 105M438 108L654 158M409 269L656 247M449 220L664 268M436 246L638 271M426 162L644 192M425 102L627 215M424 301L636 75M411 109L636 161M414 107L666 77M406 135L660 329M449 216L655 163M419 131L631 82M433 135L631 244M415 243L652 299M410 161L646 106M429 247L645 294M430 328L650 298M425 108L624 327M417 319L632 159M405 80L665 219M435 245L654 215M429 323L616 108M441 244L651 324M420 165L635 106M408 218L619 322M445 216L653 111M410 135L657 239M447 240L629 80M410 78L648 266M416 273L631 243M415 83L661 242M407 268L634 325M416 324L651 268M436 183L664 106M423 160L647 240M428 80L642 216M424 242L654 81M446 84L653 218M404 189L655 132M436 238L643 189M426 244L616 191M423 188L628 105M425 215L626 274M411 165L630 326M434 244L621 188M429 299L623 217M420 301L632 106M438 218L642 133M418 108L629 75M428 327L662 296M406 214L651 268M442 192L617 270M416 275L631 320M431 219L646 300M413 135L646 78M449 102L651 246M418 296L643 136M406 268L640 327M447 160L647 130M425 189L619 242M410 298L641 268M417 271L666 109M406 159L656 270M406 185L638 244M417 298L649 161M430 107L631 242M428 327L664 78M405 78L619 243M423 162L630 215M428 187L622 162M405 269L619 300M412 213L663 327M437 300L635 213M449 220L644 83M420 243L662 297M440 245L625 77M422 214L640 109M431 107L622 214M413 191L637 240M445 302L666 245M410 327L621 298M421 134L640 218M412 158L664 243M438 166L653 301M414 324L621 296M449 214L617 190M409 132L632 160M448 323L639 81M437 108L615 189M446 163L654 130M423 82L652 302M422 106L654 186M421 103L659 267M436 245L650 108M427 323L649 271M414 190L620 77M441 104L624 323M431 110L647 299M416 78L648 104M420 243L637 106M427 162L658 132M407 270L643 105M415 77L622 239M448 140L655 246M426 326L616 167M438 301L653 322M427 189L629 329M418 78L631 164M417 191L620 81M420 245L644 294M434 243L655 80M413 270L624 136M436 190L641 301M423 83L641 183M434 78L633 110M434 271L646 328M422 79L651 272M425 161L633 214M421 219L638 164M404 137L665 187M433 135L651 104M433 216L633 161M425 159L662 109M444 110L667 218M440 109L652 271M435 82L631 271M418 191L628 240M449 131L637 164M418 218L625 245M430 109L616 80M428 217L624 328M414 137L662 271M436 165L655 78M411 271L623 80M407 161L626 323M449 213L658 248M415 112L667 184M428 189L658 77M422 215L642 324M430 132L651 326M422 245L620 216M416 239L647 299M421 220L648 186M438 106L624 243M441 79L657 249M448 243L651 187M446 325L615 189M441 80L635 323M445 106L616 161M443 191L662 162M446 164L647 215M409 137L636 190M427 113L638 271M417 269L644 325M418 269L635 246M422 295L634 326M422 248L643 325M438 322L635 241M411 82L628 131M432 269L621 159M435 220L649 324M434 106L620 137M413 163L656 85M425 243L650 271M443 245L634 191M446 105L661 82M431 273L656 81M408 241L616 271M410 270L627 191M440 273L663 299M447 267L626 243M437 299L625 245M448 217L616 192M444 163L625 299M410 246L647 325M448 160L649 133M435 110L651 138M405 76L629 295M433 296L645 265M419 134L656 105M420 303L660 188M413 294L621 162M405 77L656 186M422 166L630 105M449 298L619 79M428 303L662 322M440 271L644 326M445 324L633 214M424 301L654 183M421 190L623 164M445 248L654 192M445 160L623 273M447 297L615 129M431 326L644 242M415 110L615 220M432 297L631 77M414 271L619 332M420 107L616 162M410 192L648 246M413 321L628 164M413 83L664 129M448 110L643 162M409 77L664 164M418 157L622 268M444 327L625 163M415 243L639 216M445 299L624 161M420 185L625 218M425 112L664 80M410 327L667 82M410 160L616 295M445 327L620 213M417 162L616 191M413 105L648 133M444 271L631 107M446 215L626 243M437 162L656 192M410 241L660 106M410 237L623 163M417 323L633 242M426 163L667 132M422 239L616 159M404 326L653 217M425 159L640 216M431 320L653 270M409 216L646 237M440 80L644 137M435 196L636 85M446 166L619 324M430 320L619 271M428 298L627 132M437 163L662 213M406 216L653 321M417 103L660 134M447 110L652 78M446 161L626 295M433 166L648 193M406 80L652 324M439 184L655 163M445 267L647 238M406 79L664 240M448 216L644 296M447 165L658 273M444 161L656 216M429 185L619 163M425 271L619 293M406 297L617 159M442 190L658 134M424 106L617 301M441 186L617 214M426 239L644 271M416 301L661 188M420 191L619 80M428 188L662 104M409 219L650 191M413 136L629 159M407 187L628 159M444 327L631 79M444 136L621 106M436 244L623 104M430 159L660 299M433 86L667 108M406 322L616 243M438 295L655 135M423 184L619 269M422 105L618 78M447 277L641 300M442 78L663 134M421 189L618 213M436 109L657 160M445 189L615 301M446 272L620 107M408 246L635 213M447 193L661 108M431 163L643 267M446 131L641 157M441 186L651 107M409 217L634 184M447 190L622 302M428 269L631 327M411 295L639 327M448 242L653 109M412 215L621 271M436 187L652 215M427 218L620 271M422 104L642 326M423 241L617 190M420 112L649 129M444 243L635 295M430 246L645 153M443 326L628 272M409 157L652 298M443 325L664 107M409 133L655 324M437 189L616 218M428 324L642 220M445 188L618 78M440 270L646 106M428 215L655 300M418 272L664 217M427 219L646 274M418 239L666 105M417 135L642 188M434 132L631 240M414 326L647 104M420 132L631 75M414 79L649 107M433 81L649 107M407 240L649 273M430 77L652 169M415 293L619 135M418 295L638 79M427 241L653 300M428 134L662 189M446 79L625 297M433 131L662 107M427 162L662 134M414 81L657 106M409 327L629 187M443 323L620 185M423 243L641 161M415 268L657 216M415 80L647 272M439 295L657 191M429 83L662 267M449 300L651 162M425 298L622 270M442 217L615 273M428 298L637 324M411 108L635 218M410 246L649 81M438 299L616 246M444 301L637 164M441 214L617 136M448 134L637 190M427 79L619 161M406 81L652 246M416 244L641 163M407 132L642 166M434 130L619 191M447 104L625 78M422 188L654 321M413 135L663 109M408 106L618 191M446 78L624 105M432 299L647 271M443 333L616 110M421 162L636 271M415 162L659 210M409 187L636 161M441 297L666 162M405 78L620 301M411 244L633 298M438 218L655 134M417 274L656 135M447 267L637 81M437 244L666 77M427 246L627 160M427 108L638 220M430 138L654 81M440 109L632 160M406 135L641 277M439 273L646 129M446 133L620 300M440 138L627 192M440 300L620 84M445 185L616 78M427 245L624 163M416 215L623 84M434 107L665 298M445 299L627 274M406 295L650 219M422 239L667 108M419 214L634 273M412 79L653 135M429 243L657 320M432 107L655 243M408 78L623 134M410 269L665 131M418 220L627 130M415 221L638 246M444 80L661 105M409 190L643 213M410 274L616 245M414 161L639 134M431 137L638 83M407 193L644 135M417 78L638 134M425 135L623 326M447 185L663 330M445 109L644 246M440 135L657 297M443 189L640 242M447 329L660 79M420 275L617 108M415 330L659 298M439 326L661 240M420 132L643 159M413 192L646 104M416 294L645 130M430 109L666 190M433 215L644 294M417 140L632 190M447 213L618 325M426 166L644 274M437 303L663 274M434 216L628 271M448 215L652 108M430 164L664 83M430 214L642 106M419 165L648 78M433 77L633 184M424 211L664 186M431 163L618 108M405 242L626 191M414 249L621 190M447 74L657 299M409 103L621 324M405 164L660 106M430 217L652 295M434 164L636 219M430 213L652 246M441 140L622 81M446 106L635 163M425 82L617 215M444 110L646 242M419 327L659 159M449 133L644 162M444 81L640 134M426 244L624 269M442 320L658 158M440 190L662 129M409 277L650 245M445 82L657 213M438 133L646 217M438 297L641 164M436 274L625 324M436 246L646 291M441 140L623 246M405 75L666 218M406 105L644 189M423 217L657 165M422 161L653 297M443 188L662 269M425 163L637 105M409 238L638 300M429 80L655 137M424 238L636 219M446 80L617 271M434 104L660 269M442 328L642 80M449 216L661 85M438 194L630 215M443 270L656 243M421 213L650 105M441 84L616 135M443 128L647 323M417 164L650 189M433 183L618 220M430 163L632 273M438 129L641 183M424 135L653 161M422 109L654 76M446 220L620 269M450 189L652 78M434 300L652 81M412 273L634 246M408 110L626 81M405 137L636 189M414 296L649 326M433 298L629 192M416 296L666 245M424 83L657 242M410 272L619 327M415 133L659 331M438 105L665 75M412 217L633 109M435 189L654 131M445 105L650 329M415 300L620 272M415 244L656 160M436 130L650 299M418 298L664 192M424 324L657 244M444 242L618 274M410 112L619 79M447 131L617 190M414 103L646 157M430 136L635 79M418 107L654 243M424 131L617 165M449 216L653 272M438 271L663 109M432 298L655 246M444 241L626 192M413 213L623 163M410 156L621 129M427 274L635 297M446 131L664 219M423 294L655 320M412 161L658 84M442 188L666 216M422 326L650 272M426 269L620 163M427 78L656 163M409 81L619 272M411 240L666 190M448 326L628 293M404 325L635 157M407 104L646 161M423 107L616 322M438 137L657 244M441 325L636 107M449 244L635 323M450 325L644 242M442 106L654 133M435 189L651 106M442 327L621 189M414 103L617 297M449 271L641 243M445 295L649 269M442 304L634 137M438 106L631 304M428 216L644 274M420 137L636 240M438 270L627 327M411 215L638 243M413 106L664 189M419 187L665 245M434 105L655 134M435 83L619 135M410 215L649 252M433 158L658 266M443 326L626 274M422 193L617 271M419 79L656 106M413 214L630 163M404 215L661 104M418 107L635 270M432 321L621 270M438 272L618 294M440 271L645 217M413 134L651 163M449 78L658 226M450 271L656 245M431 327L640 267M450 244L651 296M411 218L624 244M430 160L624 216M447 190L631 161M441 106L627 301M431 83L643 163M412 111L647 138M416 79L631 137M449 297L635 131M408 72L667 133M414 192L639 162M449 105L647 267M414 216L657 244M448 107L638 75M441 216L661 246M429 218L664 243M412 103L639 216M408 329L634 81M439 240L647 220M444 104L631 161M408 165L625 325M421 105L655 132M420 240L648 135M426 322L622 218M415 241L658 81M443 108L659 136M434 215L639 103M430 328L665 106M431 250L656 161M439 270L660 298M418 191L642 160M437 104L666 135M438 162L624 191M447 160L649 136M414 271L629 192M447 191L646 244M445 241L650 215M423 165L655 270M413 242L666 77M435 134L653 163M418 188L662 134M434 137L636 271M416 326L652 246M421 135L638 190M436 189L643 161M411 324L647 163M410 191L619 322M447 240L622 81M429 243L650 216M444 136L623 242M434 132L635 163M415 80L641 133M429 108L656 294M442 187L622 244M448 137L615 298M447 328L621 110M416 269L655 78M425 242L639 107M417 190L627 326M428 132L642 324M435 135L625 189M446 297L629 327M421 269L648 187M418 81L628 271M413 217L649 135M445 301L627 104M434 216L655 241M422 303L626 134M408 269L638 77M433 189L666 157M410 79L649 159M406 269L661 243M409 271L645 216M432 242L647 192M410 325L641 74M411 107L627 268M422 133L626 217M404 215L640 242M444 245L627 104M417 240L646 188M437 247L653 190M446 270L621 214M436 78L627 190M425 103L624 77M413 241L645 214M437 83L646 295M415 108L665 160M436 298L619 188M436 323L632 80M419 104L652 215M438 245L631 299M435 217L664 106M416 244L620 270M418 245L636 76M409 165L666 106M433 242L664 300M429 105L625 158M406 108L646 299M414 159L644 217M433 187L619 159M428 134L667 217M443 165L649 190M433 327L639 160M435 216L642 162M448 134L623 291M423 158L665 218M430 163L624 109M448 297L636 270M448 328L656 271M438 213L618 158M409 324L654 278M406 133L627 324M440 291L650 136M423 326L617 77M407 299L620 212M404 134L657 106M443 187L659 215M424 298L621 77M416 219L627 163M407 109L627 271M414 166L649 327M431 217L628 243M430 242L648 185M428 78L641 160M436 79L640 240M434 161L647 191M428 188L648 81M410 190L655 112M444 130L638 245M439 131L665 216M448 216L666 270M421 161L620 109M420 107L628 242M423 110L657 78M425 244L632 159M423 244L656 217M410 214L657 299M443 137L658 161M425 241L639 192M407 241L617 214M430 82L627 110M439 135L622 242M425 268L620 217M421 325L625 301M413 297L642 79M418 134L630 83M436 162L652 329M408 299L631 104M419 214L642 109M439 82L624 299M429 298L642 323M443 107L638 267M436 325L655 214M412 136L619 82M415 221L665 138M423 271L622 108M439 243L637 188M436 212L638 106M446 274L651 297M445 273L624 244M405 80L628 325M419 75L664 134M433 243L637 273M405 324L635 295M433 218L621 328M450 326L642 190M420 328L648 134M419 328L623 76M442 215L628 130M448 214L653 271M448 102L627 163M426 276L629 80M448 135L628 298M434 243L652 217M433 160L667 107M408 162L632 133M430 213L658 302M411 212L637 158M404 132L637 81M429 327L631 270M440 270L655 78M432 327L660 168M431 131L630 322M414 106L655 301M445 82L635 133M414 271L662 326M407 219L665 194M410 77L636 240M411 217L628 106M405 217L661 240M445 241L645 215M405 244L629 156M425 161L620 270M429 135L634 164M408 297L627 271M415 161L649 186M432 134L650 213M411 165L638 215M412 249L617 297M427 270L647 242M446 246L640 185M417 84L617 266M448 186L625 265M434 215L627 243M444 134L644 103M431 299L657 323M432 211L623 191M440 219L621 297M424 215L655 160M442 270L663 322M429 188L638 239M437 215L625 191M422 244L666 192M408 327L656 162M428 136L627 187M416 78L616 324M440 164L627 298M435 157L642 326M442 241L658 220M408 185L636 299M432 192L641 214M409 137L640 109M448 108L640 326M427 296L653 103M422 136L616 297M419 296L652 137M407 272L657 105M435 187L666 242M420 195L644 76M423 79L619 130M434 324L650 80M410 320L644 167M418 216L640 193M447 272L622 160M429 320L657 194M445 183L646 134M417 82L646 276M448 161L663 271M420 161L647 186M432 269L646 213M418 161L624 134M422 213L619 78M448 324L631 265M421 164L650 189M434 270L631 81M433 217L664 273M440 243L660 297M405 216L647 189M421 131L634 326M404 216L655 85M414 292L652 164M436 162L663 214M426 193L630 163M443 328L632 298M421 165L652 212M418 108L636 161M422 112L626 132M411 160L656 191M416 160L635 132M430 217L621 302M425 78L636 135M413 104L649 268M421 163L650 134M429 244L643 273M406 327L667 106M435 185L628 213M436 271L624 188M407 100L646 241M449 242L633 217M428 159L661 78M414 79L658 221M440 329L627 244M439 161L618 301M449 245L626 298M448 132L654 330M442 269L638 163M409 329L636 244M413 242L626 110M419 324L651 215M416 110L636 215M433 320L666 136M432 106L639 216M440 187L662 268M432 241L636 194M429 247L646 329M408 242L626 301M416 214L642 187M440 298L654 157M449 300L626 325M416 217L665 188M443 328L628 190M408 162L639 216M430 216L647 272M419 242L642 266M435 220L665 324M441 189L628 216M434 190L631 216M432 323L666 212M449 272L655 81M408 78L653 243M438 184L635 163M435 273L628 293M417 298L648 217M427 243L664 297M409 242L635 104M449 269L652 160M428 270L659 217M409 160L618 268M432 248L664 162M424 273L656 323M410 162L637 300M427 134L616 242M415 328L653 243M413 163L664 187M439 243L629 294M448 187L634 295M416 136L650 322M428 325L629 191M429 272L655 296M438 219L648 84M432 166L650 267M443 191L660 270M441 320L616 76M422 103L664 326M439 186L631 162M438 187L635 325M439 162L658 218M440 274L661 212M422 215L652 269M410 190L657 161M425 276L626 242M428 217L621 243M440 300L658 243M429 164L659 132M410 105L622 135M438 162L637 273M423 137L639 266M413 327L640 273M412 217L636 321M447 269L631 84M449 216L633 194M417 217L618 296M423 186L629 239M449 109L642 300M447 105L620 77M410 325L641 78M421 321L625 271M440 82L657 299M418 221L656 272M409 136L628 244M416 78L646 190M438 302L650 328M425 298L629 240M438 109L663 245M435 164L624 80M432 327L641 241M431 187L634 322M414 82L648 324M406 272L644 133M440 112L656 209M412 161L616 302M448 272L659 215M442 324L655 297M425 163L639 78M421 325L659 246M446 327L631 77M421 300L662 244M422 195L639 298M413 217L648 108M431 80L625 107M419 82L655 136M406 325L618 193M450 160L627 133M405 163L643 108M416 136L640 81M442 83L662 135M424 327L633 268M446 244L630 323M409 112L636 326M424 160L630 217M438 80L661 160M424 243L628 194M442 189L667 212M436 164L658 130M444 136L633 110M427 299L618 242M415 165L662 132M438 79L631 190M429 319L662 102M426 185L647 130M431 246L623 78M430 107L638 80M412 217L631 163M437 75L654 103M426 161L623 190M416 131L621 243M406 276L655 218M430 136L620 107M423 273L662 191M428 158L659 133M421 270L657 107M434 82L660 159M417 329L653 79M423 240L622 192M420 218L660 160M446 297L616 162M421 188L658 244M423 272L622 186M410 137L665 271M419 162L623 214M445 159L633 190M430 240L635 270M406 324L617 80M440 243L642 111M415 300L632 191M411 104L645 160M413 273L650 163M433 217L665 270M443 324L637 187M440 133L646 192M425 189L646 243M405 160L636 217M439 270L653 298M445 104L650 81M430 242L623 303M449 217L627 134M441 324L646 269M410 161L617 81M440 73L630 217M421 301L627 104M427 272L653 298M438 273L657 136M444 107L651 273M411 327L616 78M408 159L623 299M437 217L615 324M427 73L650 161M422 242L658 164M442 105L655 212M437 162L643 297M446 269L666 79M447 189L620 158M428 243L638 186M435 297L641 162M421 161L631 240M447 109L653 300M438 329L647 296M429 106L644 80M439 270L662 217M430 251L632 191M438 111L622 80M411 131L657 106M425 268L638 215M416 326L648 160M422 323L630 188M442 161L650 299M411 190L622 106M443 271L629 133M436 317L634 245M435 188L640 270M431 322L630 243M422 265L644 324M429 188L650 164M405 217L634 331M448 78L643 329M430 242L647 277M424 133L657 107M423 186L626 103M425 194L637 214M405 246L664 186M406 107L659 161M447 322L645 191M426 163L622 189M449 100L650 244M422 272L624 188M450 244L654 101M413 220L630 239M447 243L640 295M441 109L626 216M444 102L619 159M408 131L635 214M411 301L638 269M414 75L643 138M422 298L619 191M415 246L647 133M416 132L634 108M411 267L629 217M434 78L658 328M443 106L640 161M428 298L646 244M406 107L641 218M429 161L657 300M424 298L628 244M439 189L659 323M430 188L635 330M420 215L625 162M408 129L620 299M446 106L666 132M408 81L638 298M426 298L623 160M424 211L615 245M433 189L642 136M423 243L644 192M413 209L653 163M413 164L627 134M423 301L617 167M447 189L627 134M416 139L629 302M422 242L658 134M418 298L642 133M444 135L625 243M446 107L620 297M426 105L662 165M429 239L660 159M407 188L622 166M432 270L653 240M439 301L619 325M408 298L653 273M431 216L636 275M449 188L616 217M410 159L621 330M443 270L645 216M441 325L621 291M445 326L633 297M417 272L643 325M424 133L641 84M422 136L666 187M428 107L620 220M450 133L653 248M426 294L653 243M422 271L665 325M448 325L666 78M444 110L654 325M416 242L616 269M410 109L617 138M411 268L626 216M429 186L621 215M416 270L616 324M413 326L661 243M440 110L656 82M409 242L619 324M408 192L639 158M446 216L624 298M445 79L625 300M446 244L632 187M437 103L657 327M447 162L652 241M449 243L648 217M447 269L662 327M430 273L616 158M405 325L642 138M444 137L661 327M421 328L628 106M430 190L649 332M417 215L637 189M410 190L655 135M424 192L651 321M420 299L645 135M412 157L660 135M443 297L623 247M410 105L666 245M411 192L653 159M450 273L652 243M426 188L639 325M435 324L651 79M421 80L665 112M426 137L663 329M424 273L646 80M429 215L653 270M433 268L618 293M407 192L616 220M431 160L622 323M405 164L618 190M409 220L635 131M440 189L622 164M421 330L666 77M412 218L664 162M424 107L664 325M432 297L654 136M418 164L645 108M449 108L628 329M438 133L648 166M419 270L623 241M411 81L658 162M425 188L663 136M441 243L661 272M419 298L624 216M450 78L616 327M416 215L666 266M442 77L659 134M421 300L625 271M416 190L645 300M420 325L644 269M437 326L649 163M445 160L629 104M435 187L622 322M449 138L662 214M436 298L631 274M411 269L653 190M429 131L650 241M407 136L662 215M432 157L654 215M418 107L652 324M412 188L642 244M443 160L656 103M406 269L628 296M427 272L621 293M412 160L655 300M428 248L639 162M415 139L639 325M424 297L644 271M436 160L653 112M439 185L656 324M447 83L646 268M439 212L647 246M427 243L652 160M448 83L660 325M416 217L640 188M411 162L649 328M427 245L664 163M426 77L634 268M409 322L634 83M446 214L623 243M427 327L644 244M444 244L635 271M415 272L640 299M415 326L626 162M439 247L661 136M430 241L638 109M433 299L664 270M406 129L635 188M435 164L629 84M418 162L617 135M432 244L636 80M449 239L654 102M445 108L666 217M433 133L659 221M427 79L630 267M415 163L622 107M426 302L663 84M413 190L652 74M439 78L651 272M410 107L646 187M415 241L633 296M421 324L661 191M419 160L634 187M416 215L648 103M429 272L624 324M420 135L656 246M432 248L664 160M412 328L628 132M410 163L643 245M418 217L654 107M414 323L627 76M423 263L656 324M414 80L652 214M439 133L630 271M412 269L636 216M429 245L635 158M414 291L653 107M408 326L616 215M444 327L644 238M437 300L627 241M441 238L655 216M427 163L632 274M443 244L618 188M421 189L649 271M407 108L626 132M440 79L657 186M407 103L646 324M412 190L642 79M447 219L661 108M423 270L634 159M432 241L615 132M429 160L646 105M423 135L635 159M418 243L621 107M406 268L618 239M430 134L658 269M432 320L615 161M435 242L620 217M422 82L623 185M419 165L651 133M424 81L654 271M444 81L619 163M409 273L638 323M429 186L656 273M441 111L661 186M411 183L652 326M423 242L623 109M408 109L665 215M447 158L636 186M441 136L663 192M405 189L636 77M409 187L655 162M416 108L654 162M408 106L659 132M420 271L655 246M423 302L622 80M433 303L665 241M431 296L654 79M438 297L640 247M406 191L655 218M439 159L623 271M429 106L619 214M404 166L623 215M434 216L644 102M442 107L628 299M442 83L639 133M422 297L622 217M433 294L633 248M426 272L664 327M418 242L629 220M428 243L636 296M448 243L633 298M437 131L620 323M434 159L663 108M428 111L622 77M446 136L645 162M424 248L645 79M446 81L645 111M407 244L664 108M441 276L624 244M413 216L661 325M409 184L645 161M441 328L638 269M412 135L633 193M448 237L616 214M411 81L628 158M442 190L654 328M448 211L637 133M412 276L617 82M407 324L615 82M427 245L635 318M437 102L642 297M430 189L666 268M439 322L644 218M431 269L626 324M405 137L662 272M440 324L663 187M435 274L643 158M435 163L654 324M427 327L655 161M444 246L657 133M431 187L646 246M436 245L616 218M444 272L648 82M431 109L623 164M439 274L644 190M441 186L657 166M417 327L654 216M416 107L651 166M417 136L625 80M411 76L643 190M437 108L620 134M444 328L615 135M447 215L646 162M410 271L634 164M405 189L658 216M420 109L648 271M449 245L618 106M445 246L619 299M406 304L653 138M423 245L658 296M437 219L632 244M435 185L642 160M432 137L654 166M447 111L630 267M407 186L622 219M441 193L656 242M408 295L650 271M415 83L638 247M441 298L665 244M423 78L638 272M422 213L616 158M423 299L656 191M413 133L646 106M445 134L652 105M446 163L625 244M404 160L659 273M405 298L640 130M421 108L658 189M429 213L617 329M425 268L657 107M412 298L626 221M426 162L654 215M439 133L632 162M447 137L653 243M414 107L651 81M441 86L666 301M422 274L637 188M434 297L662 108M415 83L618 132M443 214L635 324M437 244L646 188M431 247L650 162M437 190L636 110M431 324L619 106M406 242L642 183M419 77L622 218M416 109L660 298M404 270L642 326M409 188L633 297M418 270L639 132M419 81L648 246M444 244L631 272M435 220L619 239M441 274L638 295M441 297L648 246M418 163L628 107M441 104L630 157M435 162L624 188M435 274L645 242M415 75L622 242M418 243L622 327M424 298L623 272M441 299L664 78M405 78L652 240M427 269L644 161M432 103L630 301M406 217L656 192M423 81L636 191M427 190L667 217M420 328L647 106M422 295L631 134M435 134L647 185M427 156L616 216M433 242L637 82M417 217L639 295M407 297L616 241M422 162L617 219M419 217L616 189M439 220L619 247M429 136L620 327M417 303L616 112M408 140L666 158M420 134L651 217M426 162L636 324M441 133L628 270M438 245L666 271M446 263L645 243M436 138L657 78M430 76L636 297M414 324L619 270M415 301L651 269M422 109L658 188M450 271L619 189M420 250L666 297M425 300L620 270M419 133L656 247M414 270L658 325M413 190L644 214M446 142L660 157M428 107L645 212M422 218L639 101M409 243L662 270M407 245L643 160M435 133L665 188M427 244L615 107M413 328L625 187M448 269L646 328M408 79L655 135M441 216L624 159M446 328L641 109M412 135L640 163M412 269L640 78M431 164L666 297M423 296L620 192M424 187L628 79M435 267L640 325M420 213L633 187M422 246L632 163M448 160L664 132M449 239L629 329M410 107L638 78M418 157L645 131M442 132L624 268M448 242L620 183M428 269L647 241M407 162L664 130M406 105L659 188M445 107L662 133M442 160L662 75M438 112L639 326M439 218L616 299M430 303L665 263M428 81L623 130M432 326L658 220M449 327L659 161M433 326L617 136M437 269L643 132M420 243L625 299M420 297L657 217M418 272L628 324M445 242L643 267M435 160L628 135M450 106L620 133M437 270L622 183M436 133L619 78M434 158L661 295M431 189L628 250M449 294L643 245M441 243L619 75M422 195L650 270M436 269L619 191M426 131L632 107M416 300L636 241M447 192L624 328M421 324L625 190M440 105L654 242M440 111L629 162M449 217L617 320M439 79L666 134M406 241L666 104M405 134L642 192M424 241L644 304M448 162L646 191M435 105L665 302M429 241L631 215M424 245L661 214M406 218L633 299M439 266L655 106M407 104L645 270M421 301L627 322M415 106L664 163M424 101L620 242M417 190L628 217M429 266L661 216M416 163L637 268M424 107L639 326M437 268L642 164M411 131L649 218M442 216L627 274M447 135L622 270M410 158L664 79M443 331L644 297M439 274L649 108M427 138L662 221M410 269L626 215M412 298L665 164M416 165L650 108M407 329L647 165M439 159L636 79M428 273L639 247M440 272L660 105M423 159L650 292M411 190L649 114M432 164L638 215M404 214L660 272M433 245L638 190M413 249L631 301M428 105L649 217M425 189L626 294M415 132L635 270M418 165L661 190M411 327L664 188M450 215L620 109M426 297L617 187M407 135L649 109M447 213L651 190M445 217L659 247M419 296L664 80M415 157L636 216M419 325L651 164M408 270L625 136M410 243L646 294M412 165L618 112M419 327L663 160M428 298L626 160M426 162L664 190M412 215L637 296M435 244L647 162M437 162L634 189M428 163L661 129M423 324L626 241M443 161L616 106M419 135L650 81M447 187L661 214M443 297L639 83M435 247L653 190M422 273L648 240M442 188L658 136M409 218L619 192M422 323L632 190M427 300L664 136M408 75L632 112M430 270L657 135M444 299L638 108M427 219L632 131M417 327L655 270M420 105L621 185M426 131L654 300M411 215L634 105M419 160L619 270M412 103L634 244M427 188L656 297M441 136L636 107M438 107L666 82M416 133L646 108M427 242L650 107M417 329L629 76M422 106L630 138M409 130L659 297M430 159L647 216M406 243L634 269M417 164L637 324M410 325L639 138M413 324L630 271M425 326L654 134M443 158L627 190M410 269L638 301M420 321L651 244M443 219L618 134M408 187L627 78M405 107L625 154M409 78L633 191M446 110L626 242M427 274L666 328M441 78L618 324M414 241L645 269M432 244L648 298M433 269L651 106M407 110L661 162M438 132L651 167M445 325L654 109M426 130L658 83M418 270L648 240M411 164L630 110M424 271L648 135M434 137L617 214M414 243L641 269M405 215L656 132M441 81L662 113M416 219L643 134M423 218L661 300M436 295L616 190M415 329L630 190M406 328L637 190M408 243L619 298M449 330L647 79M424 244L641 298M405 134L620 82M427 325L655 215M424 136L621 216M434 190L646 163M427 299L652 241M405 322L652 297M434 183L616 246M433 269L637 299M419 298L660 221M414 77L627 326M419 159L650 133M417 325L634 103M424 243L629 81M442 242L641 104M430 273L648 327M431 299L615 322M447 246L653 299M408 135L619 298M443 215L633 273M447 297L616 161M409 155L655 269M448 240L666 272M436 218L660 107M424 106L661 134M413 103L660 297M417 78L663 134M420 80L658 323M422 82L657 215M411 324L657 108M448 323L664 246M418 241L658 216M419 241L627 159M430 137L631 325M423 269L617 326M445 271L619 103M405 270L654 325M412 273L663 215M440 267L658 104M429 328L644 187M429 136L666 109M431 323L633 268M449 79L640 325M443 271L664 243M442 301L630 242M433 190L657 110M442 241L661 297M436 213L636 246M435 325L645 296M430 73L621 160M423 190L624 217M415 329L662 221M408 159L642 221M407 322L634 133M409 241L629 99M407 104L646 268M428 274L620 216M440 246L641 296M440 132L626 216M446 212L658 161M435 81L657 217M422 190L627 248M444 159L624 247M446 134L635 76M448 161L620 270M412 79L657 185M406 162L619 216M446 135L660 106M421 302L656 109M425 299L628 327M422 299L647 162M439 167L626 190M413 189L637 162M424 274L624 165M445 301L633 330M416 193L656 164M432 246L652 162M420 187L636 133M450 216L660 80M428 269L641 297M408 327L636 241M445 81L665 217M422 243L623 133M449 246L655 132M412 137L650 270M411 105L618 246M409 132L661 324M449 161L659 136M431 329L635 158M432 159L618 294M426 106L621 164M438 325L648 133M414 110L627 159M438 298L654 164M421 333L660 105M414 136L661 76M408 132L659 108M449 302L629 105M436 164L638 189M438 108L628 81M434 107L633 133M423 216L633 160M444 82L642 135M444 324L618 73M422 131L640 301M419 245L656 301M412 135L619 161M439 135L634 107M420 109L640 76M435 165L634 220M414 133L646 76M410 190L625 162M438 243L637 210M443 185L619 240M428 295L659 274M448 83L623 106M443 162L660 323M422 215L638 243M448 109L647 161M432 324L642 243M406 325L658 78M448 243L640 107M429 300L666 104M419 297L628 193M418 325L621 300M423 272L623 245M446 298L621 324M444 185L617 82M409 322L666 269M431 162L639 326M439 103L640 80M413 163L647 133M409 83L634 190M436 246L641 218M432 82L648 104M416 74L657 273M417 299L656 326M446 77L620 298M407 134L662 78M413 139L657 188M421 133L616 162M422 79L666 326M423 194L650 78M435 216L615 269M434 243L624 212M429 298L638 217M447 249L645 104M449 131L621 192M411 243L661 190M435 136L640 78M441 300L650 272M438 217L624 136M409 163L624 299M428 302L637 133M444 240L659 134M436 130L648 109M434 212L650 274M437 131L643 105M441 300L627 132M421 111L622 130M405 246L636 218M429 189L634 136M446 135L661 108M431 324L636 221M440 163L621 106M407 79L653 240M439 166L616 217M433 241L657 325M421 324L659 188M447 331L628 300M415 163L660 223M444 134L629 108M408 160L636 214M410 270L625 162M409 240L640 302M438 214L632 130M436 158L642 134M422 105L660 329M435 188L650 296M442 131L643 191M419 137L653 305M432 324L651 133M417 302L654 79M450 302L649 241M438 105L637 325M425 161L636 297M409 112L655 162M430 155L627 76M447 136L658 217M415 244L663 135M429 218L648 265M437 166L634 245M444 273L651 189M421 296L652 324M425 133L659 328M437 215L618 270M447 326L659 132M435 275L658 242M411 108L621 77M444 132L662 245M446 216L630 77M443 242L665 104M424 135L636 214M409 82L630 131M420 162L618 242M408 105L656 217M444 239L624 218M414 139L652 324M432 185L628 324M446 78L649 212M425 271L657 183M446 243L644 267M430 190L657 110M414 83L633 270M404 78L644 135M438 166L647 299M443 163L619 243M438 246L644 302M422 76L663 297M448 217L649 245M408 162L654 322M435 161L631 326M424 328L641 273M435 244L638 188M441 107L632 163M429 191L659 105M409 184L628 241M408 189L658 216M419 239L647 299M446 192L617 274M436 244L625 298M432 83L641 192M413 132L639 161M441 138L644 109M424 81L657 215M415 240L667 215M419 80L655 159M412 107L623 162M432 270L637 163M413 161L640 110M429 248L647 136M441 216L667 243M417 296L648 240M408 183L656 214M438 326L657 244M412 77L629 135M436 80L638 272M428 80L619 192M445 134L619 82M427 329L662 215M416 135L662 160M407 274L644 79M442 81L625 189M442 131L657 193M411 186L664 268M417 78L651 163M406 328L657 160M433 104L664 213M436 78L663 270M405 271L644 110M422 108L649 79M438 269L635 110M418 328L658 133M436 220L641 302M410 109L661 297M406 188L666 81M423 271L616 246M407 77L650 242M414 215L654 298M416 109L650 214M432 106L641 161M435 272L645 215M430 138L661 191M448 81L644 109M431 216L642 136M442 327L617 269M446 241L640 160M450 214L639 325M417 79L620 327M426 134L639 271M424 242L666 82M411 106L656 273M435 213L626 162M414 216L662 243M420 193L647 270M425 300L628 269M407 108L655 82M426 81L649 162M410 130L664 82M422 189L624 322M446 191L629 245M448 103L632 82M417 302L628 324M407 244L646 162M444 188L625 134M406 241L638 296M446 215L631 109M435 82L631 214M439 243L621 137M428 329L641 302M429 300L663 81M418 301L617 133M438 161L627 183M445 134L639 212M448 324L651 79M442 165L643 103M417 108L619 137M415 163L662 216M427 159L665 300M435 244L626 112M413 296L618 81M405 106L667 328M409 81L633 159M447 271L622 185M416 244L625 108M419 294L655 329M438 241L626 269M417 244L617 111M425 135L625 216M448 303L617 270M405 163L667 108M434 104L637 79M421 215L615 191M408 268L645 326M428 217L646 79M439 107L640 132M424 295L615 105M415 294L639 81M410 271L634 162M446 161L655 267M430 138L643 159M407 214L635 109M442 107L622 162M426 105L659 324M414 246L657 161M441 110L623 164M405 135L662 81M447 185L645 243M416 264L631 320M410 188L620 246M446 190L648 134M422 241L647 134M418 105L634 80M436 104L619 321M446 188L637 217M448 136L619 242M409 193L639 76M425 81L667 189M435 273L633 78M427 81L640 188M411 216L662 161M443 302L633 78M434 186L659 106M423 297L657 77M406 217L634 264M419 239L649 195M417 244L638 129M428 109L662 269M404 273L627 82M437 248L636 324M408 325L649 83M410 75L643 270M418 242L648 330M411 244L630 77M433 136L660 272M449 299L620 273M405 326L631 74M429 135L621 184M439 213L633 162M439 162L634 109M406 214L621 184M412 189L661 244M412 189L657 155M448 273L661 104M435 219L617 266M416 159L650 242M441 299L629 271M443 271L648 104M439 294L638 133M439 189L625 81M430 220L637 268M439 189L665 165M435 157L654 185M436 132L635 242M409 298L658 78M447 297L641 188M425 135L620 272M406 244L627 186M413 77L660 110M408 242L661 212M436 164L622 270M425 190L663 268M447 278L649 214M425 159L660 216M440 267L626 217M443 244L645 295M416 80L641 297M410 298L637 106M447 78L633 158M414 271L645 215M423 296L645 268M441 328L641 295M443 276L637 80M441 302L666 161M433 299L627 326M406 222L629 242M424 134L625 193M420 189L643 132M423 80L631 247M425 76L619 268M404 133L665 272M419 272L619 137M432 299L655 131M448 325L660 159M419 137L663 78M429 240L616 187M432 188L655 218M417 81L636 218M447 134L660 161M424 164L666 326M417 165L638 217M424 326L645 135M413 139L659 300M418 267L619 216M420 189L640 325M439 187L631 108M436 82L662 299M424 243L654 185M434 133L646 158M441 187L641 245M446 184L622 129M448 77L628 188M431 189L665 137M410 193L616 270M419 188L645 218M420 325L665 298M441 213L644 107M411 136L640 298M440 83L657 330M443 216L667 106M428 190L627 215M440 300L639 80M437 245L629 276M408 131L622 76M446 188L648 243M429 133L661 271M423 244L644 213M411 77L649 214M420 188L652 160M441 299L631 218M447 270L667 239M439 295L636 164M408 243L659 186M414 327L650 297M420 272L618 328M445 107L636 273M438 240L664 274M427 108L617 273M447 109L662 160M408 105L663 161M406 215L636 162M421 274L616 292M447 324L662 298M443 105L657 78M447 276L618 301M405 246L620 299M432 161L629 136M446 139L639 110M437 323L639 269M443 161L640 216M449 106L636 296M423 77L643 246M427 78L637 324M413 327L656 270M440 324L652 107M440 243L657 295M449 188L632 331M408 80L626 134M445 165L629 191M410 187L648 136M407 188L652 132M406 78L637 298M410 325L623 188M444 77L661 140M424 162L621 297M445 138L658 107M410 296L643 266M433 328L667 100M413 135L641 161M437 299L663 188M412 109L665 322M407 187L631 298M409 139L618 80M419 272L661 215M420 328L666 76M429 242L647 164M448 106L621 81M444 242L638 136M437 106L634 298M419 132L663 270M418 109L637 274M414 323L666 219M417 244L625 80M422 297L659 239M447 322L647 245M426 133L659 326M418 243L621 106M434 135L644 301M450 100L626 162M424 106L634 220M439 80L638 134M408 323L647 299M446 135L664 267M427 211L628 270M411 240L640 213M433 269L663 324M417 322L627 297M406 132L629 326M414 269L654 299M436 104L644 244M438 218L656 324M410 188L648 246M442 244L615 139M445 220L664 324M439 218L637 139M442 270L658 218M442 216L649 270M441 268L644 328M444 271L643 328M445 106L633 136M441 189L633 272M439 297L664 324M435 132L629 159M441 213L640 162M425 248L642 274M405 266L639 327M415 105L649 137M408 102L650 80M441 87L647 136M447 131L631 300M439 327L616 301M431 192L640 329M439 136L652 189M411 219L635 190M419 105L646 191M444 138L641 191M441 77L633 163M410 216L616 248M433 218L665 161M406 105L656 188M419 78L639 163M418 106L646 269M438 78L659 298M418 110L650 159M445 292L658 161M414 245L625 188M410 242L650 129M427 248L642 269M415 244L637 107M409 162L639 184M426 242L649 271M445 78L626 134M439 325L651 300M441 266L667 81M445 272L664 214M414 325L645 295M437 162L650 78M415 215L620 167M409 219L666 241M418 136L632 185M429 217L641 269M425 137L617 186M443 184L626 324M425 325L617 80M442 323L664 269M410 134L654 111M432 136L627 80M409 269L664 106M449 135L655 245M423 160L620 301M424 323L658 161M439 105L642 133M430 185L635 133M434 217L630 190M412 272L622 330M406 132L639 83M428 131L642 162M428 218L645 187M412 275L645 328M408 134L644 267M407 242L646 267M444 186L633 326M422 134L650 297M420 321L624 105M418 301L622 221M426 132L617 245M428 325L637 268M416 243L625 273M421 132L646 109M434 108L620 239M440 157L664 75M407 196L629 162M444 296L622 160M415 296L646 244M428 109L635 217M422 219L656 182M448 297L616 189M429 135L635 100M446 131L622 329M445 271L646 191M417 190L649 106M413 108L654 165M427 273L653 77M407 107L667 323M426 79L648 134M413 160L631 324M409 301L622 79M422 162L638 278M432 161L627 299M404 220L637 109M427 109L620 272M432 107L619 133M407 274L643 102M434 216L620 269M417 107L650 77M450 108L619 83M410 163L629 135M421 164L643 243M437 79L649 300M416 83L616 216M436 160L642 269M442 80L651 299M415 81L652 296M445 186L666 138M445 160L652 104M404 133L650 327M406 242L651 221M421 109L657 294M443 244L660 299M417 189L636 324M441 190L664 247M432 244L639 102M406 135L618 301M426 325L648 269M407 267L617 216M423 213L638 243M430 134L636 160M426 165L630 76M411 272L661 328M434 326L617 80M419 243L639 210M436 216L631 106M416 158L654 215M450 108L630 325M418 187L635 82M431 293L638 80M406 76L632 243M409 79L651 163M406 300L653 81M449 135L654 190M447 132L664 79M432 109L628 154M432 270L629 189M439 106L646 241M427 273L638 247M430 329L635 155M416 106L660 130M439 247L632 271M412 300L658 108M412 320L662 246M417 193L619 217M419 272L663 323M421 159L654 274M406 79L651 136M430 242L661 297M434 213L650 270M433 305L619 243M406 245L616 106M404 324L639 162M422 275L653 185M430 246L630 212M427 216L655 162M423 162L648 81M448 298L617 327M415 325L653 270M411 109L652 325M448 247L615 82M429 269L618 109M442 272L636 243M405 78L630 107M429 80L667 243M424 296L653 107M449 275L655 238M431 219L647 78M440 109L661 244M417 185L622 107M422 164L630 80M428 78L643 192M427 83L620 330M441 79L631 273M440 218L656 297M405 80L624 107M430 269L628 299M426 240L667 157M409 325L625 297M444 327L640 107M407 161L643 327M449 77L662 241M407 163L656 215M437 326L640 105M440 163L659 189M421 269L661 325M446 299L632 135M434 242L654 190M415 136L643 104M423 217L620 241M449 107L644 130M443 136L635 164M449 217L620 81M408 189L634 242M422 189L621 298M425 160L620 78M424 136L634 275M419 108L628 187M433 139L653 182M440 297L622 324M442 274L639 131M430 159L648 109M420 298L619 325M410 323L630 243M421 191L650 323M431 240L630 191M437 113L635 267M424 325L657 299M419 301L651 274M420 213L665 322M426 103L619 138M424 215L653 269M440 298L630 132M412 157L616 269M405 188L617 327M446 264L635 163M434 242L632 165M433 134L655 190M418 216L644 272M442 82L655 217M410 189L634 326M439 79L651 324M421 131L639 161M449 161L615 137M434 270L658 300M414 245L654 296M440 217L623 106M413 105L624 215M433 136L665 213M430 104L620 325M420 134L622 298M428 215L616 161M434 269L645 189M434 81L622 162M421 163L657 325M433 240L649 215M422 297L618 189M438 158L667 270M404 302L643 104M418 162L634 108M427 135L652 271M434 320L658 247M415 271L644 106M433 219L657 271M414 108L622 294M420 246L647 270M419 246L637 295M416 301L652 245M426 78L667 300M441 187L638 109M417 271L642 325M429 192L641 243M447 326L644 189M423 248L652 158M432 271L637 157M421 159L622 109M441 109L644 82M447 213L637 134M430 136L638 188M436 82L647 107M431 186L659 302M428 134L639 268M433 79L651 186M405 105L623 163M433 133L633 323M429 298L621 243M410 297L664 216M435 79L651 216M411 300L633 161M443 243L645 270M424 111L642 134M437 105L615 135M429 239L643 134M440 326L655 106M413 214L658 132M435 327L661 215M430 266L665 83M435 80L619 137M407 215L620 324M437 164L641 242M431 246L645 293M404 217L638 243M442 243L623 325M445 79L647 133M412 303L645 240M435 216L624 244M445 157L635 217M437 217L622 107M449 323L622 268M442 219L649 323M444 77L616 108M445 270L644 324M418 273L665 212M440 135L627 326M421 133L658 192M406 275L629 163M432 186L644 135M450 210L650 190M422 213L663 79M447 297L631 108M439 79L639 105M428 111L652 297M409 163L637 132M409 136L649 165M424 160L635 268M447 133L627 300M439 268L655 297M439 164L656 188M436 323L632 271M437 187L616 240M442 81L649 268M443 79L623 165M435 272L636 301M424 109L645 214M413 164L623 134M440 248L659 110M434 134L635 218M424 189L661 108M439 78L656 131M416 132L641 267M432 242L644 323M404 83L666 132M414 215L646 77M434 163L663 298M449 187L653 300M422 83L633 325M448 105L648 327M421 75L619 105M416 215L664 191M432 212L660 110M441 78L657 324M436 215L640 160M446 271L642 75M429 189L617 160M440 246L626 105M407 322L625 107M424 135L655 274M434 328L636 76M424 187L659 165M447 79L624 193M408 271L624 215M409 136L658 192M448 271L656 247M433 105L667 158M418 268L664 243M414 299L663 242M423 188L654 139M425 132L616 79M420 188L658 158M442 248L616 271M433 325L664 165M442 193L656 267M432 324L667 240M432 157L656 327M420 189L639 325M434 164L627 218M435 164L645 322M426 104L629 82M425 267L652 217M444 103L665 219M436 134L647 181M407 134L659 162M435 217L623 243M418 157L632 217M413 127L642 86M407 306L631 324M423 323L656 161M436 220L615 188M408 154L640 293M428 80L625 293M445 269L655 328M435 83L661 216M428 137L654 163M444 295L638 214M419 138L647 330M423 160L643 85M419 134L627 320M427 244L637 323M430 325L636 134M448 132L662 189M407 302L663 272M405 273L649 216M436 213L644 194M416 164L633 141M443 188L625 215M431 244L637 271M410 298L622 241M411 187L620 247M418 270L653 186M436 109L633 189M404 131L662 215M428 80L634 295M450 215L630 160M445 81L662 106M446 221L642 326M432 240L625 217M416 133L618 105M437 298L625 323M440 80L645 133M449 107L651 133M442 191L616 109M438 218L654 329M415 242L627 163M441 269L663 80M447 297L622 101M425 325L653 102M419 85L619 328M440 82L654 218M433 74L621 189M429 213L665 297M421 324L662 238M419 158L642 187M427 329L656 160M413 80L662 163M426 187L632 251M417 102L633 161M422 161L641 324M435 214L620 241M437 157L636 217M408 297L642 80M433 134L659 218M408 81L618 133M408 183L636 295M424 134L660 300M412 270L636 327M429 296L624 133M450 240L637 82M405 161L621 213M407 273L649 189M417 215L641 247M428 244L632 79M430 240L653 271M428 272L637 217M449 297L616 270M423 166L654 187M421 111L645 79M432 164L659 134M420 191L640 296M419 297L653 162M419 271L632 131M433 272L652 187M435 136L636 328M410 296L640 107M421 327L647 133M444 301L639 325M445 325L645 270M406 323L626 247M425 217L617 328M417 216L652 243M436 246L644 303M436 244L621 137M428 188L638 74M416 137L637 76M417 269L621 136M418 80L664 136M439 189L632 242M450 137L651 296M425 185L651 133M439 272L638 324M448 245L660 219M433 325L640 301M449 243L664 217M416 82L624 296M413 104L632 78M406 78L663 136M421 133L646 107M432 157L618 82M430 104L622 325M422 189L636 131M430 110L644 156M449 188L626 298M434 110L627 217M405 276L636 248M434 214L649 190M416 243L665 326M450 216L632 246M419 243L624 108M422 135L660 106M406 320L654 298M448 270L638 193M406 327L652 167M444 250L643 135M414 269L617 298M445 242L619 295M431 247L664 274M411 161L655 107M414 320L649 217M435 79L657 185M424 187L662 245M436 134L647 104M419 246L629 214M450 324L630 268M440 272L660 241M428 162L666 133M405 327L649 297M439 267L619 242M434 106L618 299M415 130L651 219M406 80L630 324M443 191L648 248M430 107L626 273M435 134L639 293M445 162L657 274M410 192L664 132M438 293L656 328M430 270L666 106M414 187L631 159M415 269L615 332M409 105L650 132M411 322L666 135M445 192L653 213M448 326L652 215M406 188L616 159M449 85L630 183M411 298L633 220M432 105L628 213M449 299L633 161M431 110L656 301M414 325L634 184M427 190L662 300M411 186L658 243M426 242L623 325M414 273L640 163M427 106L625 138M411 241L626 271M434 137L650 78M427 106L656 243M421 189L627 132M449 213L651 271M410 217L623 293M434 135L633 187M419 298L639 134M404 131L652 187M405 132L664 245M407 185L657 294M437 323L667 216M434 303L663 136M438 218L629 252M414 324L636 298M441 106L656 267M407 159L647 184M438 132L653 298M450 192L634 272M421 189L630 161M436 246L630 109M441 328L666 301M446 245L637 188M417 294L661 324M424 247L640 134M438 162L666 241M448 273L620 218M408 294L661 133M415 268L626 188M446 109L650 271M441 188L666 133M435 242L663 189M445 293L620 272M426 105L641 131M422 166L620 216M446 159L661 194M438 127L658 82M434 86L640 186M440 138L657 100M424 162L647 330M447 243L653 131M423 132L666 80M409 241L618 217M434 137L639 187M437 273L632 190M406 298L621 134M447 215L656 129M424 271L618 78M434 271L657 109M437 79L637 215M445 327L664 189M443 189L643 325M448 241L641 159M408 212L632 165M436 269L628 324M411 109L644 270M409 241L659 298M431 186L639 84M448 164L658 103M409 157L665 190M411 328L634 163M413 325L641 182M411 297L624 273M416 246L633 276M445 135L629 160M424 77L637 218M438 245L662 82M412 188L651 109M414 81L616 135M419 242L616 161M415 244L628 135M447 164L637 195M436 294L638 323M408 132L631 165M432 105L620 82M450 304L641 129M424 102L664 325M407 302L624 161M443 244L662 163M443 108L646 220M405 159L647 246M420 81L654 108M442 82L652 324M422 105L653 137M436 298L663 135M423 159L650 293M422 107L622 323M429 269L647 243M432 327L644 166M446 84L641 128M433 136L663 326M446 272L638 189M421 77L644 163M433 299L628 327M421 187L616 134M434 248L652 131M428 325L621 108M416 219L640 134M443 187L627 244M438 185L628 134M436 300L640 326M420 80L631 136M429 81L628 239M448 242L657 193M438 245L637 105M406 273L662 323M436 244L652 213M409 326L623 160M441 245L622 216M408 215L631 83M444 108L653 78M449 244L622 189M417 105L634 218M416 134L638 161M441 269L631 84M428 189L647 214M442 84L645 136M432 108L646 323M414 217L628 296M410 110L659 271M424 187L663 325M439 216L621 242M444 107L643 243M438 297L635 272M442 296L641 325M410 134L627 297M412 245L663 218M412 110L654 133M428 104L653 163M448 166L661 192M428 323L619 107M447 81L638 273M427 132L624 72M431 272L636 324M425 163L637 246M431 297L630 185M434 160L663 191M405 81L649 270M413 216L630 184M422 189L657 129M447 79L661 327M426 328L632 296M408 275L650 83M429 164L657 185M421 269L617 300M406 242L619 327M421 186L663 132M444 161L631 238M426 271L661 105M423 110L621 298M406 321L659 108M439 217L663 187M414 302L630 324M442 189L628 107M431 163L632 187M417 80L660 135M441 328L628 218M430 76L636 219M425 301L643 136M430 269L615 297M423 138L663 219M425 133L623 194M428 104L645 216M406 325L633 272M431 299L621 83M423 104L640 328M407 242L619 271M411 224L654 159M412 295L643 241M421 189L620 245M449 213L643 187M445 160L628 273M424 133L658 276M449 80L655 188M444 86L616 165M412 188L646 274M412 167L651 240M410 133L645 323M426 271L617 299M421 271L646 215M425 212L654 242M405 189L625 271M441 159L666 244M421 107L630 80M430 109L664 163M423 85L638 270M419 79L658 269M415 135L634 247M426 105L617 219M439 75L665 161M411 134L650 191M421 189L625 137M426 303L629 130M439 108L666 295M408 296L629 189M410 75L656 301M437 270L664 132M419 218L620 327M414 162L633 296M436 190L635 241M423 165L649 265M443 295L625 158M444 189L621 130M446 241L657 217M442 136L658 111M410 109L630 160M437 268L624 245M440 82L666 187M449 216L636 241M434 219L645 297M418 109L623 129M431 242L630 79M417 102L655 135M419 160L619 187M428 163L662 187M449 110L651 161M436 243L659 78M432 133L616 269M414 106L622 189M408 106L634 160M410 135L643 84M416 80L634 247M447 244L629 215M441 193L664 162M428 112L647 270M426 270L617 79M449 299L617 273M410 247L616 321M435 214L645 187M409 161L632 269M413 218L624 75M422 136L654 189M420 216L647 165M438 243L634 79M430 111L618 298M405 296L660 325M407 298L641 242M417 274L647 106M418 215L660 245M424 132L628 79M444 320L638 272M440 162L628 216M429 161L636 190M438 187L654 112M430 162L666 107M432 106L619 82M444 107L641 159M421 108L654 246M405 157L621 326M426 80L637 216M416 161L645 218M429 160L651 267M439 82L639 189M431 271L661 297M439 291L659 273M450 272L657 216M415 270L656 296M406 131L663 327M442 269L664 244M405 160L658 241M431 103L648 137M427 133L640 272M429 135L632 187M449 298L639 165M442 106L637 214M424 186L623 216M447 218L647 270M431 210L661 75M447 299L660 249M447 74L663 103M438 293L650 78M411 137L660 112M441 137L623 162M424 106L649 187M415 162L649 82M448 105L647 134M445 240L634 139M431 162L664 77M423 132L661 266M446 81L635 187M421 239L618 297M416 137L656 160M415 329L630 216M416 299L622 246M435 242L628 137M441 274L631 214M418 188L664 324M444 298L645 322M416 215L658 78M429 216L645 270M447 247L642 105M428 296L627 271M434 243L630 213M421 187L663 159M409 216L635 105M444 133L666 165M442 323L660 272M429 270L654 324M427 107L666 294M411 244L641 161M430 269L655 159M436 296L647 165M412 298L648 244M408 137L625 106M422 76L665 192M433 131L653 160M449 81L656 242M445 242L657 110M435 325L628 246M444 269L630 325M418 218L641 76M443 187L629 243M419 297L626 243M409 81L621 109M439 161L640 240M449 188L663 132M449 104L652 137M439 188L653 218M409 130L666 161M429 164L636 240M409 214L634 237M428 159L664 190M433 135L656 214M432 246L660 164M439 326L623 185M428 242L660 108M445 246L666 295M444 84L632 104M434 189L666 83M422 109L666 190M445 104L648 324M439 213L617 189M441 273L654 295M406 79L656 104M431 274L630 238M422 322L663 163M438 327L639 107M426 135L652 81M440 79L641 161M424 246L624 271M434 217L633 324M433 80L650 129M446 80L626 329M418 109L632 75M443 299L629 273M422 242L647 160M445 185L636 216M409 160L661 134M440 187L656 324M407 111L627 328M426 272L663 301M422 161L662 134M405 163L657 110M416 106L620 190M417 161L621 186M430 223L643 77M420 241L647 220M447 185L655 107M415 242L660 137M438 217L632 105M441 188L630 299M420 270L632 83M426 297L643 135M416 163L616 219M422 157L648 301M426 84L643 133M405 267L654 108M426 80L621 300M423 108L648 304M421 131L636 187M408 103L655 131M414 80L638 242M409 243L622 297M408 243L640 299M404 215L637 188M424 189L647 220M439 216L632 137M424 190L648 241M442 163L666 324M447 214L654 327M404 275L641 77M422 106L627 273M423 322L616 295M433 83L617 271M404 191L642 215M442 162L634 325M419 301L625 79M447 130L644 189M426 327L619 188M448 106L656 299M407 299L621 271M408 80L652 216M444 246L660 272M435 82L618 293M448 159L630 216M427 219L617 159M415 299L651 188M443 217L647 243M437 159L615 269M414 301L655 217M416 240L660 190M445 157L650 214M414 191L626 79M436 155L638 106M449 217L645 107M435 187L659 270M449 248L657 219M404 243L648 271M449 129L642 240M438 166L643 243M408 326L634 108M420 83L644 161M425 270L662 214M411 215L629 247M448 188L650 136M415 272L619 327M410 108L664 295M431 298L642 134M411 185L645 108M428 131L641 268M417 185L641 216M433 216L641 243M447 189L635 163M429 187L656 214M436 163L650 190M443 160L642 241M410 324L660 106M436 245L650 163M442 265L640 294M450 163L654 217M431 159L644 135M405 134L652 298M436 132L626 237M405 326L635 188M435 164L641 273M408 104L616 189M416 101L651 78M419 217L665 302M414 134L666 186M429 131L647 241M444 244L663 218M433 326L660 80M436 104L655 163" stroke="#555" stroke-width="0.5" stroke-opacity="0.043" fill="none"/></g><g filter="url(#blur1)"><polygon points="398.0,78.0 415.0,75.0 440.0,74.0 462.0,75.0 605.0,75.0 630.0,74.0 655.0,75.0 672.0,78.0 672.0,81.0 655.0,84.0 630.0,85.0 605.0,84.0 462.0,84.0 440.0,85.0 415.0,84.0 398.0,81.0" fill="#6a4fa8" fill-opacity="0.3"/><polygon points="436.0,76.3 450.0,75.2 612.0,75.2 624.0,76.3 624.0,82.7 612.0,83.8 450.0,83.8 436.0,82.7" fill="#6a4fa8" fill-opacity="0.55"/><polygon points="440.0,77.4 452.0,76.5 612.0,76.5 622.0,77.4 622.0,81.6 612.0,82.5 452.0,82.5 440.0,81.6" fill="#6a4fa8"/><path d="M428.8 80.9L652.5 85.0M436.1 81.1L635.3 77.2M403.8 79.6L638.7 77.4M421.1 76.9L652.2 78.4M418.6 77.9L654.7 80.5M428.4 81.6L656.6 78.6M434.3 76.7L641.7 76.5M429.0 79.4L648.1 81.6M409.6 84.3L662.0 78.4M400.3 76.4L661.9 80.0M408.6 83.0L657.3 81.7M417.8 79.3L632.8 76.3M441.6 74.8L653.9 83.2M410.1 78.9L626.3 77.7M410.9 81.8L660.9 81.8M439.6 81.6L632.0 80.0M434.4 81.2L646.2 75.1M402.0 82.6L651.2 74.2M416.8 81.3L638.4 80.5M425.9 79.4L662.4 77.5M425.7 84.0L659.8 82.2M423.0 79.5L643.4 79.4M409.8 77.3L664.2 80.6M417.2 76.0L664.6 76.3M439.3 82.5L630.8 76.7M418.4 79.8L633.5 81.1M441.3 80.9L640.4 78.0M407.5 79.3L664.9 78.0M417.8 79.4L622.3 81.5M438.2 78.2L639.7 82.8M420.8 82.0L664.6 75.8M436.5 74.7L632.4 85.0M414.8 79.3L655.6 76.1M425.0 81.9L667.9 76.9M427.9 76.2L650.5 77.9M418.1 75.0L635.3 74.0M413.5 79.4L664.4 78.1M422.9 78.1L648.6 77.9M429.1 80.1L625.2 85.0M422.5 74.0L624.2 77.9M419.2 77.4L658.5 78.1M402.1 79.8L657.5 80.5M426.2 77.3L647.3 81.9M407.7 80.7L641.1 78.9M438.4 76.1L653.6 82.8" stroke="#6a4fa8" stroke-width="0.6" stroke-opacity="0.4" fill="none"/><g fill="#6a4fa8" fill-opacity="0.55" stroke="#4a3775" stroke-width="0.4" stroke-opacity="0.7"><circle cx="416.2" cy="80.9" r="1.2"/><circle cx="450.7" cy="81.7" r="0.6"/><circle cx="451.6" cy="78.6" r="1.2"/><circle cx="432.6" cy="79.3" r="0.9"/><circle cx="408.0" cy="80.1" r="0.9"/><circle cx="443.2" cy="79.8" r="0.9"/><circle cx="442.9" cy="85.5" r="1.6"/><circle cx="451.6" cy="76.9" r="1.2"/><circle cx="450.6" cy="79.3" r="0.6"/><circle cx="438.9" cy="82.0" r="0.6"/><circle cx="400.1" cy="82.1" r="0.6"/><circle cx="430.5" cy="83.1" r="0.6"/><circle cx="436.4" cy="83.2" r="1.2"/><circle cx="433.1" cy="80.1" r="0.6"/><circle cx="441.7" cy="85.5" r="0.9"/><circle cx="406.8" cy="77.9" r="1.6"/><circle cx="438.9" cy="83.5" r="1.6"/><circle cx="444.4" cy="77.5" r="1.2"/><circle cx="448.7" cy="77.5" r="0.9"/><circle cx="450.6" cy="78.7" r="0.6"/><circle cx="420.2" cy="79.5" r="1.6"/><circle cx="410.1" cy="80.9" r="0.9"/><circle cx="446.8" cy="80.5" r="1.2"/><circle cx="426.4" cy="78.7" r="0.6"/><circle cx="451.7" cy="78.2" r="0.9"/><circle cx="433.6" cy="81.2" r="1.2"/><circle cx="435.4" cy="85.5" r="0.6"/><circle cx="440.7" cy="77.5" r="1.2"/><circle cx="431.3" cy="74.1" r="0.6"/><circle cx="406.7" cy="77.6" r="0.6"/><circle cx="447.2" cy="76.7" r="1.2"/><circle cx="449.9" cy="80.6" r="1.6"/><circle cx="450.2" cy="78.7" r="0.6"/><circle cx="406.8" cy="76.7" r="2.1"/><circle cx="448.0" cy="80.9" r="2.1"/><circle cx="448.3" cy="74.7" r="1.2"/><circle cx="448.6" cy="81.7" r="1.6"/><circle cx="431.4" cy="82.8" r="1.2"/><circle cx="427.0" cy="78.8" r="0.6"/><circle cx="448.1" cy="82.7" r="0.9"/><circle cx="416.8" cy="80.2" r="0.9"/><circle cx="431.6" cy="77.7" r="2.1"/><circle cx="418.7" cy="80.0" r="0.6"/><circle cx="448.5" cy="84.3" r="0.9"/><circle cx="424.2" cy="78.5" r="1.6"/><circle cx="426.9" cy="74.1" r="1.6"/><circle cx="435.3" cy="73.5" r="1.2"/><circle cx="411.8" cy="73.5" r="0.6"/><circle cx="441.6" cy="84.1" r="1.2"/><circle cx="438.3" cy="79.1" r="1.6"/><circle cx="428.3" cy="83.2" r="1.2"/><circle cx="433.8" cy="79.5" r="2.1"/><circle cx="433.8" cy="82.6" r="0.9"/><circle cx="444.3" cy="78.8" r="1.2"/><circle cx="420.2" cy="79.7" r="0.6"/><circle cx="439.5" cy="79.7" r="0.9"/><circle cx="433.4" cy="81.8" r="1.6"/><circle cx="441.0" cy="80.3" r="1.6"/><circle cx="437.5" cy="76.9" r="0.6"/><circle cx="447.9" cy="85.5" r="0.6"/><circle cx="417.8" cy="77.5" r="0.9"/><circle cx="446.6" cy="76.7" r="2.1"/><circle cx="400.3" cy="81.7" r="0.6"/><circle cx="424.3" cy="77.8" r="1.6"/><circle cx="425.1" cy="80.2" r="0.6"/><circle cx="426.6" cy="79.8" r="0.9"/><circle cx="421.6" cy="74.9" r="1.6"/><circle cx="439.9" cy="77.2" r="0.9"/><circle cx="421.5" cy="78.8" r="0.6"/><circle cx="436.6" cy="81.1" r="0.6"/></g><g fill="#543f86" fill-opacity="0.8"><circle cx="658.6" cy="81.6" r="1.0"/><circle cx="666.9" cy="77.8" r="0.7"/><circle cx="614.7" cy="80.1" r="1.0"/><circle cx="619.6" cy="82.2" r="1.0"/><circle cx="622.0" cy="81.6" r="0.5"/><circle cx="617.8" cy="77.1" r="1.4"/><circle cx="668.2" cy="81.2" r="0.7"/><circle cx="662.7" cy="78.1" r="0.7"/><circle cx="632.2" cy="80.0" r="0.5"/><circle cx="614.6" cy="83.7" r="0.7"/><circle cx="644.3" cy="73.5" r="0.7"/><circle cx="617.6" cy="81.9" r="0.7"/><circle cx="654.8" cy="80.5" r="1.0"/><circle cx="642.4" cy="77.6" r="1.0"/><circle cx="628.8" cy="77.6" r="1.0"/><circle cx="647.4" cy="81.0" r="1.0"/><circle cx="664.9" cy="82.6" r="1.4"/><circle cx="641.1" cy="76.3" r="0.7"/><circle cx="626.1" cy="81.8" r="0.7"/><circle cx="642.8" cy="83.0" r="1.4"/><circle cx="634.2" cy="85.5" r="0.7"/><circle cx="632.8" cy="77.5" r="0.5"/><circle cx="630.7" cy="80.1" r="0.5"/><circle cx="643.4" cy="79.3" r="0.7"/><circle cx="629.5" cy="76.1" r="0.5"/><circle cx="635.6" cy="79.2" r="0.5"/><circle cx="625.7" cy="78.3" r="0.5"/><circle cx="642.9" cy="81.4" r="0.7"/><circle cx="621.2" cy="77.7" r="0.7"/><circle cx="630.0" cy="75.0" r="0.5"/><circle cx="650.9" cy="74.7" r="0.5"/><circle cx="628.4" cy="84.6" r="0.7"/><circle cx="617.6" cy="79.8" r="0.5"/><circle cx="626.0" cy="75.3" r="1.4"/><circle cx="632.6" cy="80.5" r="0.7"/><circle cx="644.0" cy="82.1" r="1.4"/><circle cx="629.9" cy="82.1" r="1.0"/><circle cx="623.7" cy="76.9" r="0.5"/><circle cx="633.8" cy="78.7" r="0.7"/><circle cx="614.4" cy="82.0" r="0.7"/><circle cx="655.8" cy="79.1" r="0.7"/><circle cx="632.0" cy="79.4" r="1.0"/><circle cx="624.6" cy="84.6" r="0.7"/><circle cx="653.3" cy="80.3" r="0.7"/><circle cx="623.5" cy="77.3" r="0.5"/><circle cx="619.4" cy="82.4" r="0.5"/><circle cx="617.7" cy="77.3" r="0.7"/><circle cx="657.6" cy="79.3" r="0.5"/><circle cx="631.8" cy="78.9" r="0.7"/><circle cx="650.0" cy="74.9" r="1.0"/><circle cx="616.5" cy="80.2" r="0.7"/><circle cx="642.7" cy="81.1" r="0.7"/><circle cx="665.1" cy="79.7" r="1.0"/><circle cx="621.7" cy="80.5" r="0.5"/><circle cx="624.5" cy="82.6" r="0.7"/><circle cx="624.6" cy="78.4" r="0.5"/><circle cx="627.6" cy="83.1" r="0.7"/><circle cx="663.4" cy="73.5" r="1.4"/><circle cx="646.6" cy="82.7" r="0.7"/><circle cx="641.7" cy="78.9" r="1.4"/></g><g fill="#fff" fill-opacity="0.45"><circle cx="645.0" cy="77.6" r="0.7"/><circle cx="642.8" cy="76.7" r="1.3"/><circle cx="654.2" cy="79.9" r="0.7"/><circle cx="654.4" cy="79.4" r="1.3"/><circle cx="654.3" cy="78.1" r="1.3"/><circle cx="619.5" cy="76.8" r="1.3"/><circle cx="653.7" cy="83.2" r="1.3"/><circle cx="666.0" cy="76.3" r="0.7"/><circle cx="662.5" cy="79.8" r="1.0"/><circle cx="637.9" cy="80.8" r="1.0"/><circle cx="616.7" cy="82.9" r="0.7"/><circle cx="631.9" cy="79.3" r="1.0"/><circle cx="643.3" cy="75.7" r="1.0"/><circle cx="651.8" cy="77.7" r="0.7"/><circle cx="663.6" cy="81.8" r="1.3"/><circle cx="625.2" cy="79.6" r="0.7"/><circle cx="633.5" cy="80.9" r="1.0"/><circle cx="631.4" cy="80.6" r="1.0"/><circle cx="641.8" cy="77.3" r="1.3"/><circle cx="635.5" cy="81.3" r="1.3"/><circle cx="645.9" cy="80.8" r="1.0"/><circle cx="622.0" cy="77.7" r="1.3"/><circle cx="614.8" cy="80.1" r="1.0"/><circle cx="622.0" cy="79.8" r="1.0"/><circle cx="659.2" cy="80.5" r="1.0"/><circle cx="621.7" cy="78.8" r="1.3"/><circle cx="635.6" cy="79.3" r="0.7"/><circle cx="645.5" cy="79.0" r="1.3"/><circle cx="663.6" cy="82.5" r="1.3"/><circle cx="631.2" cy="76.7" r="0.7"/><circle cx="646.1" cy="78.3" r="1.0"/><circle cx="659.2" cy="81.8" r="0.7"/><circle cx="627.2" cy="75.6" r="1.3"/><circle cx="666.7" cy="83.0" r="1.0"/><circle cx="657.2" cy="79.8" r="1.0"/><circle cx="660.1" cy="76.8" r="1.3"/><circle cx="666.4" cy="83.3" r="0.7"/><circle cx="667.0" cy="79.5" r="1.3"/><circle cx="666.0" cy="78.5" r="1.0"/><circle cx="617.4" cy="80.4" r="1.3"/><circle cx="651.2" cy="83.0" r="1.0"/><circle cx="626.6" cy="80.8" r="1.3"/><circle cx="623.6" cy="79.8" r="0.7"/><circle cx="627.8" cy="78.8" r="1.0"/><circle cx="658.6" cy="78.4" r="0.7"/></g><polygon points="398.0,105.3 415.0,102.3 440.0,101.3 462.0,102.3 605.0,102.3 630.0,101.3 655.0,102.3 672.0,105.3 672.0,108.3 655.0,111.3 630.0,112.3 605.0,111.3 462.0,111.3 440.0,112.3 415.0,111.3 398.0,108.3" fill="#c9171d" fill-opacity="0.3"/><polygon points="436.0,103.6 450.0,102.5 612.0,102.5 624.0,103.6 624.0,110.0 612.0,111.1 450.0,111.1 436.0,110.0" fill="#c9171d" fill-opacity="0.55"/><polygon points="440.0,104.9 452.0,104.1 612.0,104.1 622.0,104.9 622.0,108.7 612.0,109.5 452.0,109.5 440.0,108.7" fill="#c9171d"/><path d="M435.8 106.6L649.8 111.8M431.3 106.5L638.3 105.7M401.0 109.3L629.5 109.6M411.6 108.0L638.4 102.3M407.2 106.3L648.1 111.8M411.1 108.6L653.3 106.5M402.0 108.5L647.9 107.2M408.9 104.8L643.3 106.5M434.2 109.0L651.5 104.0M433.3 106.0L653.9 102.9M412.9 109.2L651.3 103.1M423.7 105.3L642.5 108.2M430.9 105.7L636.2 108.1M413.6 109.8L622.8 108.5M444.9 108.4L653.9 105.0M437.2 111.0L640.1 109.6M429.1 104.8L648.5 103.8M421.8 107.0L644.3 106.2M430.6 103.6L651.5 106.9M421.9 109.2L654.8 101.3M437.8 103.0L658.9 102.7M407.1 109.9L643.7 109.1M424.5 105.2L647.3 104.9M411.5 106.9L645.4 106.0M405.7 110.2L622.5 112.0M404.0 106.3L622.7 109.3M404.8 106.4L664.7 108.3M402.6 108.0L636.7 102.1M406.4 102.4L644.5 102.9M424.1 105.9L627.7 112.2M439.9 111.2L642.5 104.8M435.4 109.9L664.2 110.5M402.3 103.9L653.3 109.5M411.0 110.6L622.4 103.1M428.1 109.8L654.5 109.3M442.2 110.1L641.8 111.1M425.9 106.3L662.6 108.6M417.2 104.8L661.5 103.6M424.0 106.5L636.4 105.6M413.2 107.2L652.4 101.6M401.2 108.6L648.8 105.2M410.5 105.3L636.5 112.3M442.1 104.5L656.5 103.7M423.7 108.5L655.6 107.6M441.9 109.4L643.0 111.4" stroke="#c9171d" stroke-width="0.6" stroke-opacity="0.4" fill="none"/><g fill="#c9171d" fill-opacity="0.55" stroke="#8c1014" stroke-width="0.4" stroke-opacity="0.7"><circle cx="436.3" cy="107.5" r="0.6"/><circle cx="423.6" cy="105.9" r="0.6"/><circle cx="451.3" cy="104.1" r="1.2"/><circle cx="424.3" cy="108.2" r="0.6"/><circle cx="435.1" cy="108.7" r="0.9"/><circle cx="429.1" cy="102.1" r="1.2"/><circle cx="426.4" cy="107.2" r="0.6"/><circle cx="422.3" cy="105.6" r="1.2"/><circle cx="415.5" cy="107.1" r="2.1"/><circle cx="400.3" cy="106.0" r="0.9"/><circle cx="443.1" cy="104.1" r="0.9"/><circle cx="431.1" cy="107.4" r="1.2"/><circle cx="428.4" cy="106.3" r="0.9"/><circle cx="436.3" cy="101.4" r="0.6"/><circle cx="450.8" cy="100.8" r="0.6"/><circle cx="437.0" cy="103.9" r="2.1"/><circle cx="441.0" cy="105.5" r="0.6"/><circle cx="431.3" cy="104.9" r="2.1"/><circle cx="448.1" cy="112.2" r="0.6"/><circle cx="447.4" cy="108.1" r="0.6"/><circle cx="450.8" cy="112.5" r="1.2"/><circle cx="424.5" cy="106.4" r="1.6"/><circle cx="450.1" cy="105.9" r="1.2"/><circle cx="396.3" cy="106.7" r="1.2"/><circle cx="412.4" cy="102.5" r="1.6"/><circle cx="446.2" cy="106.0" r="1.2"/><circle cx="428.1" cy="105.9" r="1.2"/><circle cx="400.5" cy="108.7" r="0.6"/><circle cx="431.5" cy="110.7" r="1.2"/><circle cx="450.7" cy="104.8" r="1.2"/><circle cx="434.9" cy="108.9" r="0.9"/><circle cx="448.6" cy="104.3" r="1.6"/><circle cx="446.8" cy="107.0" r="0.6"/><circle cx="434.2" cy="105.8" r="0.9"/><circle cx="434.4" cy="108.7" r="1.2"/><circle cx="435.7" cy="104.8" r="1.6"/><circle cx="400.8" cy="102.4" r="0.9"/><circle cx="434.9" cy="106.4" r="0.9"/><circle cx="412.5" cy="103.1" r="1.2"/><circle cx="451.1" cy="107.0" r="0.6"/><circle cx="417.6" cy="107.9" r="1.2"/><circle cx="430.7" cy="107.3" r="0.6"/><circle cx="422.9" cy="109.5" r="0.9"/><circle cx="449.5" cy="107.6" r="0.6"/><circle cx="449.4" cy="112.4" r="0.9"/><circle cx="433.9" cy="111.2" r="0.9"/><circle cx="437.2" cy="106.6" r="1.6"/><circle cx="424.8" cy="109.8" r="1.2"/><circle cx="451.5" cy="103.2" r="1.6"/><circle cx="414.8" cy="111.3" r="1.6"/><circle cx="424.7" cy="101.5" r="0.9"/><circle cx="445.5" cy="107.9" r="0.6"/><circle cx="422.5" cy="106.5" r="0.9"/><circle cx="451.8" cy="105.7" r="0.6"/><circle cx="431.9" cy="109.4" r="0.6"/><circle cx="423.2" cy="102.9" r="0.9"/><circle cx="422.6" cy="103.9" r="1.2"/><circle cx="419.8" cy="104.0" r="2.1"/><circle cx="423.8" cy="107.6" r="1.6"/><circle cx="449.1" cy="107.3" r="0.9"/><circle cx="448.5" cy="110.8" r="0.9"/><circle cx="426.1" cy="110.6" r="0.9"/><circle cx="430.4" cy="107.0" r="0.9"/><circle cx="450.1" cy="102.7" r="1.2"/><circle cx="444.0" cy="107.9" r="0.9"/><circle cx="427.3" cy="103.4" r="0.6"/><circle cx="445.4" cy="107.5" r="1.2"/><circle cx="424.1" cy="106.5" r="0.6"/><circle cx="426.7" cy="109.5" r="0.9"/><circle cx="444.9" cy="105.8" r="2.1"/></g><g fill="#a01217" fill-opacity="0.8"><circle cx="653.8" cy="109.1" r="1.4"/><circle cx="616.9" cy="106.2" r="0.5"/><circle cx="667.2" cy="105.5" r="0.7"/><circle cx="667.0" cy="105.2" r="1.0"/><circle cx="648.3" cy="110.9" r="1.4"/><circle cx="639.8" cy="109.3" r="1.0"/><circle cx="623.6" cy="104.7" r="0.5"/><circle cx="629.0" cy="106.4" r="0.7"/><circle cx="623.3" cy="107.2" r="0.5"/><circle cx="618.5" cy="106.3" r="0.5"/><circle cx="668.3" cy="108.2" r="0.5"/><circle cx="616.7" cy="103.8" r="0.7"/><circle cx="634.2" cy="111.5" r="0.5"/><circle cx="630.8" cy="107.4" r="0.5"/><circle cx="617.6" cy="109.5" r="0.5"/><circle cx="622.1" cy="105.7" r="0.7"/><circle cx="620.8" cy="109.4" r="0.7"/><circle cx="634.7" cy="104.8" r="1.0"/><circle cx="668.8" cy="109.7" r="0.5"/><circle cx="622.1" cy="109.3" r="0.7"/><circle cx="614.9" cy="108.9" r="0.7"/><circle cx="669.5" cy="105.7" r="0.7"/><circle cx="616.8" cy="106.2" r="1.4"/><circle cx="634.8" cy="109.2" r="0.5"/><circle cx="633.3" cy="108.1" r="1.4"/><circle cx="616.8" cy="108.1" r="0.5"/><circle cx="641.7" cy="106.5" r="0.7"/><circle cx="650.9" cy="111.5" r="0.5"/><circle cx="617.3" cy="105.6" r="0.7"/><circle cx="621.4" cy="107.3" r="0.5"/><circle cx="650.0" cy="106.6" r="0.7"/><circle cx="650.8" cy="111.4" r="0.5"/><circle cx="630.5" cy="108.6" r="1.0"/><circle cx="637.7" cy="105.8" r="1.4"/><circle cx="639.3" cy="110.9" r="0.5"/><circle cx="616.8" cy="103.9" r="1.0"/><circle cx="646.8" cy="105.0" r="0.5"/><circle cx="616.3" cy="103.2" r="0.5"/><circle cx="629.9" cy="106.8" r="0.5"/><circle cx="639.6" cy="108.1" r="1.0"/><circle cx="615.6" cy="104.6" r="1.4"/><circle cx="655.9" cy="103.3" r="0.7"/><circle cx="655.1" cy="109.7" r="1.4"/><circle cx="640.8" cy="107.7" r="0.5"/><circle cx="617.9" cy="108.5" r="0.7"/><circle cx="617.2" cy="107.5" r="0.5"/><circle cx="622.9" cy="109.5" r="0.7"/><circle cx="622.0" cy="109.2" r="0.5"/><circle cx="615.2" cy="111.8" r="0.5"/><circle cx="659.1" cy="106.1" r="0.5"/><circle cx="618.9" cy="106.2" r="0.7"/><circle cx="665.8" cy="110.1" r="1.0"/><circle cx="623.5" cy="106.3" r="0.5"/><circle cx="639.2" cy="106.2" r="0.7"/><circle cx="615.9" cy="112.1" r="0.7"/><circle cx="626.3" cy="106.7" r="1.0"/><circle cx="625.6" cy="109.8" r="0.7"/><circle cx="620.8" cy="101.3" r="0.5"/><circle cx="664.1" cy="105.5" r="0.5"/><circle cx="660.4" cy="105.5" r="0.7"/></g><g fill="#fff" fill-opacity="0.45"><circle cx="628.7" cy="108.4" r="0.7"/><circle cx="656.4" cy="109.4" r="1.0"/><circle cx="617.8" cy="104.1" r="1.0"/><circle cx="622.2" cy="105.8" r="1.0"/><circle cx="620.9" cy="107.9" r="1.3"/><circle cx="626.6" cy="106.2" r="0.7"/><circle cx="655.2" cy="109.1" r="1.3"/><circle cx="666.1" cy="108.5" r="1.3"/><circle cx="665.2" cy="105.0" r="0.7"/><circle cx="635.2" cy="110.2" r="1.3"/><circle cx="644.6" cy="107.8" r="1.0"/><circle cx="631.7" cy="105.6" r="1.0"/><circle cx="630.6" cy="105.8" r="1.0"/><circle cx="640.1" cy="104.3" r="1.0"/><circle cx="622.8" cy="110.6" r="1.3"/><circle cx="654.9" cy="105.6" r="0.7"/><circle cx="648.9" cy="109.5" r="0.7"/><circle cx="665.4" cy="106.2" r="1.3"/><circle cx="617.1" cy="104.6" r="1.0"/><circle cx="652.1" cy="107.4" r="1.0"/><circle cx="667.2" cy="106.8" r="1.3"/><circle cx="612.1" cy="106.1" r="1.0"/><circle cx="643.1" cy="106.7" r="1.0"/><circle cx="623.0" cy="108.5" r="1.3"/><circle cx="636.9" cy="105.6" r="0.7"/><circle cx="654.0" cy="105.5" r="0.7"/><circle cx="632.1" cy="110.1" r="0.7"/><circle cx="658.4" cy="110.7" r="0.7"/><circle cx="637.6" cy="104.5" r="1.0"/><circle cx="615.6" cy="109.8" r="1.0"/><circle cx="639.9" cy="106.6" r="1.0"/><circle cx="623.2" cy="108.7" r="1.0"/><circle cx="618.0" cy="109.7" r="1.0"/><circle cx="649.1" cy="103.6" r="1.3"/><circle cx="614.7" cy="109.9" r="1.0"/><circle cx="649.1" cy="109.2" r="1.0"/><circle cx="625.0" cy="108.7" r="1.0"/><circle cx="642.4" cy="110.7" r="0.7"/><circle cx="629.1" cy="107.8" r="0.7"/><circle cx="642.4" cy="106.6" r="1.3"/><circle cx="619.1" cy="109.9" r="1.3"/><circle cx="628.9" cy="104.9" r="1.0"/><circle cx="635.8" cy="105.5" r="0.7"/><circle cx="628.9" cy="109.2" r="0.7"/><circle cx="628.2" cy="105.6" r="1.0"/></g><polygon points="398.0,132.6 415.0,129.6 440.0,128.6 462.0,129.6 605.0,129.6 630.0,128.6 655.0,129.6 672.0,132.6 672.0,135.6 655.0,138.6 630.0,139.6 605.0,138.6 462.0,138.6 440.0,139.6 415.0,138.6 398.0,135.6" fill="#1c70bd" fill-opacity="0.3"/><polygon points="436.0,130.9 450.0,129.8 612.0,129.8 624.0,130.9 624.0,137.3 612.0,138.4 450.0,138.4 436.0,137.3" fill="#1c70bd" fill-opacity="0.55"/><polygon points="440.0,132.2 452.0,131.4 612.0,131.4 622.0,132.2 622.0,136.0 612.0,136.8 452.0,136.8 440.0,136.0" fill="#1c70bd"/><path d="M410.9 133.8L629.6 135.9M419.2 132.1L662.0 136.1M437.7 130.8L657.4 133.7M425.8 133.7L649.6 136.0M424.0 133.8L658.9 136.3M403.0 129.4L648.1 138.3M404.5 132.1L644.1 137.1M432.2 135.8L624.0 136.1M438.3 137.6L661.2 134.4M406.8 137.7L663.7 134.1M410.3 138.9L625.7 130.9M439.7 131.7L657.5 135.6M413.2 137.7L662.1 130.0M414.3 133.2L623.2 139.0M412.9 132.4L657.9 135.2M421.1 132.0L649.5 133.7M432.5 137.4L657.0 134.5M439.6 136.2L635.3 131.9M437.1 137.6L648.4 128.6M403.5 130.8L666.4 132.1M428.8 133.8L665.7 135.9M434.3 132.6L653.6 138.4M416.8 136.6L624.3 133.3M423.4 136.7L646.9 133.7M400.4 131.9L633.1 130.2M412.9 134.1L659.7 132.2M415.1 134.9L643.6 139.2M419.9 136.0L630.5 132.4M437.7 133.1L655.6 133.4M427.2 129.6L646.2 135.3M412.0 139.6L661.0 134.1M438.7 132.1L652.9 134.2M420.5 135.5L663.0 137.0M438.2 135.3L638.2 132.3M419.6 132.6L628.0 134.8M440.9 135.5L640.5 133.8M408.9 137.5L636.3 136.6M419.7 139.6L667.0 133.0M444.4 133.6L666.2 136.3M440.8 136.1L649.7 136.4M408.8 137.4L656.9 136.1M430.7 134.4L660.9 133.7M402.0 134.0L637.9 131.8M435.1 130.4L649.9 133.1M408.4 134.0L626.6 137.0" stroke="#1c70bd" stroke-width="0.6" stroke-opacity="0.4" fill="none"/><g fill="#1c70bd" fill-opacity="0.55" stroke="#134e84" stroke-width="0.4" stroke-opacity="0.7"><circle cx="449.3" cy="136.1" r="0.6"/><circle cx="442.9" cy="136.1" r="1.2"/><circle cx="443.0" cy="132.1" r="0.9"/><circle cx="429.0" cy="133.9" r="0.6"/><circle cx="442.3" cy="129.9" r="1.2"/><circle cx="431.9" cy="131.7" r="0.6"/><circle cx="446.9" cy="133.4" r="0.6"/><circle cx="451.5" cy="140.0" r="1.6"/><circle cx="442.4" cy="137.3" r="1.2"/><circle cx="432.8" cy="131.0" r="0.6"/><circle cx="442.6" cy="128.7" r="0.6"/><circle cx="422.2" cy="138.8" r="1.6"/><circle cx="434.5" cy="129.7" r="0.9"/><circle cx="434.2" cy="135.6" r="1.2"/><circle cx="434.1" cy="129.2" r="0.6"/><circle cx="442.8" cy="140.1" r="0.9"/><circle cx="433.5" cy="134.1" r="0.9"/><circle cx="410.6" cy="134.8" r="0.9"/><circle cx="429.3" cy="132.0" r="1.2"/><circle cx="430.8" cy="131.5" r="1.6"/><circle cx="422.0" cy="133.2" r="0.9"/><circle cx="441.8" cy="135.7" r="1.6"/><circle cx="432.7" cy="137.3" r="0.6"/><circle cx="436.6" cy="133.3" r="1.2"/><circle cx="444.9" cy="134.3" r="0.6"/><circle cx="429.9" cy="135.3" r="0.9"/><circle cx="450.3" cy="135.3" r="0.6"/><circle cx="433.9" cy="134.0" r="0.6"/><circle cx="432.4" cy="137.7" r="0.9"/><circle cx="424.3" cy="135.5" r="0.6"/><circle cx="411.5" cy="133.1" r="0.9"/><circle cx="428.7" cy="129.3" r="1.2"/><circle cx="409.6" cy="134.2" r="0.9"/><circle cx="448.7" cy="132.4" r="0.6"/><circle cx="446.7" cy="131.1" r="1.2"/><circle cx="421.0" cy="131.7" r="1.6"/><circle cx="418.7" cy="136.3" r="0.6"/><circle cx="439.2" cy="131.2" r="1.2"/><circle cx="429.0" cy="132.9" r="0.6"/><circle cx="451.2" cy="133.9" r="1.2"/><circle cx="451.9" cy="138.4" r="0.6"/><circle cx="428.5" cy="131.1" r="1.6"/><circle cx="443.7" cy="130.3" r="0.9"/><circle cx="419.7" cy="131.2" r="1.2"/><circle cx="445.8" cy="136.5" r="0.6"/><circle cx="449.9" cy="134.5" r="0.9"/><circle cx="411.6" cy="137.7" r="1.2"/><circle cx="412.3" cy="137.9" r="0.6"/><circle cx="441.2" cy="139.2" r="0.6"/><circle cx="420.2" cy="131.8" r="1.6"/><circle cx="449.5" cy="128.8" r="0.9"/><circle cx="422.9" cy="133.6" r="1.6"/><circle cx="416.3" cy="134.1" r="1.2"/><circle cx="443.1" cy="138.6" r="0.9"/><circle cx="427.6" cy="136.4" r="1.2"/><circle cx="445.7" cy="136.5" r="0.6"/><circle cx="440.8" cy="133.0" r="0.6"/><circle cx="420.3" cy="139.8" r="0.6"/><circle cx="443.1" cy="137.1" r="0.6"/><circle cx="450.6" cy="136.9" r="0.9"/><circle cx="434.8" cy="136.0" r="1.6"/><circle cx="423.5" cy="135.5" r="0.9"/><circle cx="436.2" cy="136.2" r="0.9"/><circle cx="418.7" cy="132.4" r="0.9"/><circle cx="439.4" cy="130.6" r="0.9"/><circle cx="432.5" cy="138.0" r="0.9"/><circle cx="431.9" cy="134.0" r="1.2"/><circle cx="449.8" cy="130.9" r="2.1"/><circle cx="450.3" cy="137.5" r="1.6"/><circle cx="431.0" cy="134.2" r="1.2"/></g><g fill="#165997" fill-opacity="0.8"><circle cx="655.3" cy="131.2" r="0.7"/><circle cx="623.3" cy="135.5" r="0.7"/><circle cx="665.8" cy="130.0" r="0.5"/><circle cx="622.8" cy="136.8" r="0.5"/><circle cx="631.3" cy="134.9" r="1.0"/><circle cx="624.1" cy="135.2" r="0.7"/><circle cx="614.3" cy="133.3" r="1.0"/><circle cx="632.0" cy="135.9" r="0.7"/><circle cx="642.1" cy="129.9" r="0.7"/><circle cx="622.9" cy="132.9" r="0.7"/><circle cx="618.7" cy="133.1" r="0.5"/><circle cx="641.4" cy="130.1" r="0.5"/><circle cx="625.8" cy="138.2" r="1.0"/><circle cx="639.5" cy="135.4" r="1.0"/><circle cx="649.6" cy="132.3" r="1.0"/><circle cx="619.6" cy="135.6" r="0.7"/><circle cx="632.4" cy="135.5" r="0.7"/><circle cx="627.1" cy="134.0" r="0.5"/><circle cx="622.3" cy="135.5" r="0.5"/><circle cx="638.4" cy="128.6" r="1.4"/><circle cx="633.5" cy="133.9" r="0.7"/><circle cx="615.1" cy="133.8" r="1.0"/><circle cx="646.5" cy="138.9" r="0.5"/><circle cx="629.6" cy="137.0" r="0.5"/><circle cx="630.6" cy="130.4" r="1.4"/><circle cx="619.3" cy="133.4" r="0.7"/><circle cx="617.4" cy="135.2" r="0.5"/><circle cx="620.5" cy="138.7" r="0.7"/><circle cx="630.2" cy="136.7" r="0.5"/><circle cx="617.9" cy="131.9" r="0.5"/><circle cx="642.9" cy="136.5" r="1.0"/><circle cx="644.3" cy="135.4" r="0.5"/><circle cx="649.5" cy="135.3" r="0.5"/><circle cx="631.6" cy="136.1" r="0.5"/><circle cx="619.1" cy="136.9" r="0.7"/><circle cx="646.2" cy="135.1" r="0.7"/><circle cx="655.7" cy="139.2" r="0.5"/><circle cx="616.5" cy="133.1" r="0.5"/><circle cx="629.8" cy="139.1" r="0.7"/><circle cx="618.9" cy="131.9" r="0.5"/><circle cx="627.6" cy="133.2" r="0.5"/><circle cx="621.9" cy="131.0" r="1.4"/><circle cx="636.0" cy="136.4" r="0.5"/><circle cx="651.8" cy="134.0" r="0.5"/><circle cx="614.2" cy="135.6" r="0.7"/><circle cx="618.3" cy="134.6" r="0.7"/><circle cx="634.6" cy="137.4" r="0.5"/><circle cx="620.7" cy="136.6" r="1.0"/><circle cx="657.5" cy="132.5" r="0.5"/><circle cx="628.7" cy="131.7" r="0.7"/><circle cx="641.2" cy="128.1" r="0.5"/><circle cx="633.5" cy="135.9" r="1.0"/><circle cx="629.6" cy="132.3" r="0.5"/><circle cx="628.4" cy="131.0" r="0.5"/><circle cx="623.5" cy="134.3" r="0.5"/><circle cx="620.0" cy="135.4" r="0.7"/><circle cx="644.2" cy="136.1" r="0.5"/><circle cx="652.8" cy="136.5" r="0.5"/><circle cx="619.3" cy="132.1" r="0.5"/><circle cx="620.3" cy="132.3" r="0.7"/></g><g fill="#fff" fill-opacity="0.45"><circle cx="647.9" cy="131.7" r="1.0"/><circle cx="624.6" cy="137.8" r="1.0"/><circle cx="643.1" cy="131.2" r="1.0"/><circle cx="620.6" cy="135.0" r="1.3"/><circle cx="646.2" cy="130.8" r="1.3"/><circle cx="653.5" cy="138.1" r="1.3"/><circle cx="650.5" cy="134.4" r="1.3"/><circle cx="621.9" cy="135.7" r="0.7"/><circle cx="663.9" cy="136.7" r="1.0"/><circle cx="628.3" cy="132.7" r="1.0"/><circle cx="616.0" cy="130.6" r="0.7"/><circle cx="626.6" cy="131.7" r="1.3"/><circle cx="654.7" cy="137.5" r="0.7"/><circle cx="640.4" cy="134.2" r="1.0"/><circle cx="664.5" cy="135.0" r="1.0"/><circle cx="640.3" cy="137.8" r="1.0"/><circle cx="658.6" cy="137.1" r="1.0"/><circle cx="646.6" cy="133.1" r="0.7"/><circle cx="628.4" cy="137.8" r="0.7"/><circle cx="664.2" cy="132.2" r="1.3"/><circle cx="613.9" cy="132.3" r="1.0"/><circle cx="630.0" cy="135.1" r="0.7"/><circle cx="622.4" cy="134.4" r="0.7"/><circle cx="634.1" cy="133.6" r="1.3"/><circle cx="614.6" cy="132.3" r="1.0"/><circle cx="639.1" cy="135.2" r="1.0"/><circle cx="628.0" cy="136.9" r="1.3"/><circle cx="651.4" cy="136.1" r="1.3"/><circle cx="657.7" cy="134.7" r="1.0"/><circle cx="666.7" cy="133.3" r="0.7"/><circle cx="614.8" cy="132.1" r="1.0"/><circle cx="642.7" cy="135.7" r="1.0"/><circle cx="637.5" cy="137.4" r="1.3"/><circle cx="631.4" cy="136.3" r="1.3"/><circle cx="654.1" cy="132.7" r="1.3"/><circle cx="636.9" cy="134.8" r="1.3"/><circle cx="617.3" cy="131.2" r="1.0"/><circle cx="641.2" cy="136.8" r="1.0"/><circle cx="660.4" cy="130.5" r="1.0"/><circle cx="632.3" cy="136.6" r="0.7"/><circle cx="633.9" cy="131.4" r="1.0"/><circle cx="653.9" cy="134.0" r="0.7"/><circle cx="646.6" cy="137.5" r="1.3"/><circle cx="619.1" cy="133.0" r="1.0"/><circle cx="654.5" cy="130.1" r="1.3"/></g><polygon points="398.0,159.9 415.0,156.9 440.0,155.9 462.0,156.9 605.0,156.9 630.0,155.9 655.0,156.9 672.0,159.9 672.0,162.9 655.0,165.9 630.0,166.9 605.0,165.9 462.0,165.9 440.0,166.9 415.0,165.9 398.0,162.9" fill="#1f8f43" fill-opacity="0.3"/><polygon points="436.0,158.2 450.0,157.1 612.0,157.1 624.0,158.2 624.0,164.6 612.0,165.7 450.0,165.7 436.0,164.6" fill="#1f8f43" fill-opacity="0.55"/><polygon points="440.0,159.5 452.0,158.7 612.0,158.7 622.0,159.5 622.0,163.3 612.0,164.1 452.0,164.1 440.0,163.3" fill="#1f8f43"/><path d="M444.7 161.7L648.1 158.3M431.7 164.1L653.3 163.7M403.3 160.6L634.9 164.6M411.8 160.3L644.5 163.4M440.4 160.7L636.2 159.0M438.3 158.2L635.4 162.6M433.3 162.0L641.3 164.7M418.2 160.2L662.7 161.2M444.1 162.0L647.9 162.6M413.8 165.5L665.3 162.6M443.9 162.0L664.3 159.0M423.1 166.9L622.0 161.6M435.2 162.0L665.0 158.2M428.7 162.3L634.6 162.4M427.3 158.5L627.9 156.5M435.0 163.3L656.7 159.7M430.9 163.6L635.6 160.4M429.3 160.9L635.9 161.2M419.2 159.9L638.7 158.8M417.6 161.3L662.2 161.9M430.2 164.0L637.9 160.7M440.5 160.2L650.3 159.6M426.5 159.4L631.0 159.7M419.2 158.9L653.9 162.5M432.7 166.1L641.8 163.9M412.2 165.7L651.4 161.9M439.7 157.8L653.1 162.6M417.4 162.5L631.8 165.9M443.8 161.2L623.8 159.2M434.7 162.5L628.2 159.1M400.7 160.2L635.1 160.5M430.9 161.1L659.9 162.8M416.8 162.8L646.1 159.8M435.5 166.9L636.1 162.1M411.9 162.6L642.6 161.1M422.2 158.9L660.7 163.6M415.1 164.0L644.4 160.7M444.5 164.5L654.2 155.9M408.5 158.2L652.2 162.4M411.0 160.5L657.0 161.4M413.8 158.9L640.5 164.0M421.2 162.9L657.4 161.0M410.6 160.9L643.3 163.3M408.4 163.2L653.9 161.9M422.9 156.2L639.6 161.9" stroke="#1f8f43" stroke-width="0.6" stroke-opacity="0.4" fill="none"/><g fill="#1f8f43" fill-opacity="0.55" stroke="#15642e" stroke-width="0.4" stroke-opacity="0.7"><circle cx="426.4" cy="163.8" r="0.9"/><circle cx="449.0" cy="160.9" r="0.6"/><circle cx="446.9" cy="160.9" r="2.1"/><circle cx="413.3" cy="159.8" r="0.6"/><circle cx="419.5" cy="164.7" r="1.6"/><circle cx="432.3" cy="157.5" r="0.6"/><circle cx="445.1" cy="160.8" r="1.2"/><circle cx="441.2" cy="159.8" r="0.6"/><circle cx="416.2" cy="159.6" r="1.6"/><circle cx="438.4" cy="157.5" r="0.9"/><circle cx="443.8" cy="161.4" r="1.2"/><circle cx="443.8" cy="157.4" r="0.9"/><circle cx="422.4" cy="159.1" r="1.6"/><circle cx="426.7" cy="161.4" r="0.9"/><circle cx="441.9" cy="161.6" r="0.9"/><circle cx="445.7" cy="156.9" r="1.2"/><circle cx="430.6" cy="165.4" r="0.6"/><circle cx="429.7" cy="164.3" r="0.6"/><circle cx="432.7" cy="164.2" r="0.9"/><circle cx="423.7" cy="156.9" r="0.6"/><circle cx="425.8" cy="165.7" r="1.2"/><circle cx="441.0" cy="156.8" r="1.2"/><circle cx="445.6" cy="163.5" r="1.6"/><circle cx="449.9" cy="159.6" r="0.9"/><circle cx="445.2" cy="158.7" r="0.9"/><circle cx="426.1" cy="157.6" r="0.6"/><circle cx="409.7" cy="159.6" r="1.2"/><circle cx="412.3" cy="159.6" r="1.2"/><circle cx="442.9" cy="160.9" r="0.9"/><circle cx="426.9" cy="157.0" r="0.9"/><circle cx="411.0" cy="162.6" r="1.2"/><circle cx="434.0" cy="164.8" r="1.6"/><circle cx="451.8" cy="155.7" r="0.9"/><circle cx="424.2" cy="161.2" r="1.6"/><circle cx="417.1" cy="160.7" r="1.2"/><circle cx="429.9" cy="160.2" r="1.2"/><circle cx="413.6" cy="163.8" r="0.6"/><circle cx="448.9" cy="161.4" r="0.9"/><circle cx="410.8" cy="164.1" r="1.6"/><circle cx="443.2" cy="158.6" r="0.9"/><circle cx="444.5" cy="157.9" r="1.2"/><circle cx="427.1" cy="164.1" r="1.6"/><circle cx="430.2" cy="159.8" r="0.6"/><circle cx="449.3" cy="162.6" r="0.9"/><circle cx="420.4" cy="164.7" r="0.9"/><circle cx="435.5" cy="163.8" r="0.6"/><circle cx="436.9" cy="159.4" r="1.6"/><circle cx="449.0" cy="159.1" r="0.9"/><circle cx="414.0" cy="162.6" r="0.6"/><circle cx="401.2" cy="159.1" r="0.9"/><circle cx="439.1" cy="162.9" r="1.2"/><circle cx="448.1" cy="162.5" r="1.2"/><circle cx="433.8" cy="159.2" r="1.2"/><circle cx="417.0" cy="159.6" r="1.2"/><circle cx="434.6" cy="164.7" r="0.9"/><circle cx="426.6" cy="160.6" r="0.6"/><circle cx="446.6" cy="161.6" r="0.6"/><circle cx="445.6" cy="161.6" r="1.2"/><circle cx="435.2" cy="163.3" r="1.6"/><circle cx="433.6" cy="163.5" r="1.6"/><circle cx="436.6" cy="158.1" r="0.6"/><circle cx="434.7" cy="160.8" r="0.6"/><circle cx="413.9" cy="158.7" r="0.6"/><circle cx="449.8" cy="156.3" r="0.6"/><circle cx="418.9" cy="157.9" r="1.6"/><circle cx="439.8" cy="158.2" r="1.2"/><circle cx="428.4" cy="166.7" r="0.6"/><circle cx="433.3" cy="161.2" r="0.9"/><circle cx="437.1" cy="160.6" r="0.9"/><circle cx="405.6" cy="158.1" r="0.9"/></g><g fill="#187235" fill-opacity="0.8"><circle cx="667.2" cy="165.4" r="0.7"/><circle cx="624.0" cy="163.8" r="0.7"/><circle cx="641.3" cy="164.7" r="0.7"/><circle cx="628.7" cy="162.8" r="0.7"/><circle cx="653.9" cy="155.8" r="1.4"/><circle cx="624.5" cy="160.5" r="0.7"/><circle cx="634.9" cy="159.3" r="1.4"/><circle cx="614.9" cy="160.6" r="1.0"/><circle cx="626.2" cy="163.2" r="0.7"/><circle cx="620.4" cy="159.3" r="1.0"/><circle cx="618.8" cy="159.7" r="0.7"/><circle cx="643.1" cy="163.3" r="0.5"/><circle cx="641.8" cy="161.6" r="1.4"/><circle cx="615.7" cy="165.0" r="0.7"/><circle cx="622.8" cy="158.3" r="0.5"/><circle cx="636.3" cy="161.7" r="0.7"/><circle cx="620.5" cy="159.8" r="0.5"/><circle cx="646.6" cy="161.3" r="1.0"/><circle cx="636.4" cy="161.2" r="0.5"/><circle cx="624.4" cy="163.4" r="0.5"/><circle cx="625.7" cy="162.6" r="1.0"/><circle cx="636.1" cy="159.1" r="0.7"/><circle cx="630.9" cy="161.0" r="1.0"/><circle cx="633.4" cy="162.5" r="1.4"/><circle cx="640.5" cy="160.7" r="0.7"/><circle cx="647.9" cy="161.2" r="1.0"/><circle cx="646.4" cy="162.5" r="0.5"/><circle cx="620.1" cy="157.2" r="0.7"/><circle cx="642.9" cy="162.7" r="0.5"/><circle cx="643.9" cy="161.0" r="0.7"/><circle cx="614.8" cy="160.8" r="1.0"/><circle cx="650.1" cy="163.4" r="0.7"/><circle cx="632.9" cy="162.3" r="0.5"/><circle cx="648.0" cy="159.5" r="1.0"/><circle cx="614.1" cy="162.7" r="0.5"/><circle cx="632.9" cy="164.1" r="1.0"/><circle cx="640.4" cy="155.8" r="0.7"/><circle cx="614.7" cy="159.4" r="1.4"/><circle cx="668.3" cy="162.7" r="0.5"/><circle cx="634.5" cy="161.8" r="1.0"/><circle cx="619.4" cy="160.6" r="0.5"/><circle cx="622.0" cy="161.9" r="1.0"/><circle cx="630.1" cy="166.0" r="0.5"/><circle cx="617.9" cy="164.8" r="1.4"/><circle cx="641.3" cy="160.1" r="0.5"/><circle cx="641.7" cy="161.0" r="1.0"/><circle cx="658.2" cy="161.6" r="0.5"/><circle cx="641.4" cy="158.6" r="0.5"/><circle cx="619.6" cy="156.5" r="0.5"/><circle cx="635.6" cy="159.7" r="1.0"/><circle cx="620.4" cy="155.5" r="0.7"/><circle cx="647.5" cy="162.4" r="0.5"/><circle cx="624.1" cy="162.8" r="1.0"/><circle cx="656.5" cy="156.9" r="1.0"/><circle cx="614.2" cy="164.9" r="0.5"/><circle cx="625.7" cy="161.7" r="0.5"/><circle cx="623.9" cy="159.0" r="1.4"/><circle cx="622.6" cy="164.9" r="0.5"/><circle cx="647.6" cy="164.9" r="0.5"/><circle cx="633.9" cy="160.1" r="1.0"/></g><g fill="#fff" fill-opacity="0.45"><circle cx="617.6" cy="162.4" r="1.3"/><circle cx="620.7" cy="163.4" r="1.3"/><circle cx="621.8" cy="162.3" r="0.7"/><circle cx="645.0" cy="162.1" r="1.0"/><circle cx="652.6" cy="164.2" r="1.3"/><circle cx="644.5" cy="157.6" r="0.7"/><circle cx="632.1" cy="161.5" r="1.0"/><circle cx="655.7" cy="162.4" r="1.0"/><circle cx="618.5" cy="164.7" r="1.3"/><circle cx="631.2" cy="162.0" r="1.3"/><circle cx="656.6" cy="162.8" r="1.3"/><circle cx="665.3" cy="161.6" r="1.3"/><circle cx="644.8" cy="162.0" r="1.0"/><circle cx="635.0" cy="163.9" r="1.3"/><circle cx="656.9" cy="161.1" r="1.0"/><circle cx="635.0" cy="165.3" r="1.0"/><circle cx="625.4" cy="160.9" r="1.0"/><circle cx="633.5" cy="160.0" r="0.7"/><circle cx="646.5" cy="163.5" r="1.0"/><circle cx="657.2" cy="161.5" r="1.0"/><circle cx="644.0" cy="163.3" r="1.0"/><circle cx="653.4" cy="159.5" r="0.7"/><circle cx="636.0" cy="163.1" r="1.3"/><circle cx="652.3" cy="163.7" r="1.0"/><circle cx="664.9" cy="161.6" r="1.3"/><circle cx="662.7" cy="161.5" r="1.3"/><circle cx="658.9" cy="164.9" r="0.7"/><circle cx="618.0" cy="164.9" r="1.0"/><circle cx="626.6" cy="158.3" r="1.0"/><circle cx="660.3" cy="161.3" r="1.3"/><circle cx="629.4" cy="164.9" r="1.0"/><circle cx="625.7" cy="163.2" r="1.3"/><circle cx="638.0" cy="158.7" r="1.0"/><circle cx="629.9" cy="162.3" r="0.7"/><circle cx="660.4" cy="159.3" r="1.0"/><circle cx="628.3" cy="160.6" r="1.0"/><circle cx="662.3" cy="159.1" r="1.0"/><circle cx="618.9" cy="162.0" r="0.7"/><circle cx="656.6" cy="162.9" r="0.7"/><circle cx="627.0" cy="163.5" r="1.0"/><circle cx="616.2" cy="162.4" r="1.3"/><circle cx="618.2" cy="163.8" r="1.0"/><circle cx="642.3" cy="160.1" r="1.0"/><circle cx="647.6" cy="157.8" r="1.3"/><circle cx="635.4" cy="161.2" r="0.7"/></g><polygon points="398.0,187.2 415.0,184.2 440.0,183.2 462.0,184.2 605.0,184.2 630.0,183.2 655.0,184.2 672.0,187.2 672.0,190.2 655.0,193.2 630.0,194.2 605.0,193.2 462.0,193.2 440.0,194.2 415.0,193.2 398.0,190.2" fill="#dc5a12" fill-opacity="0.3"/><polygon points="436.0,185.5 450.0,184.4 612.0,184.4 624.0,185.5 624.0,191.9 612.0,193.0 450.0,193.0 436.0,191.9" fill="#dc5a12" fill-opacity="0.55"/><polygon points="440.0,186.9 452.0,186.0 612.0,186.0 622.0,186.9 622.0,190.6 612.0,191.4 452.0,191.4 440.0,190.6" fill="#dc5a12"/><path d="M401.1 186.8L666.9 189.2M406.9 190.8L634.2 188.7M424.1 185.9L661.7 188.6M413.4 189.1L651.7 187.2M418.7 187.9L654.5 188.5M427.9 188.8L666.9 188.4M414.4 184.2L636.9 188.5M438.6 189.1L629.0 192.3M442.5 186.1L647.0 184.9M437.2 187.7L629.8 193.5M427.9 189.4L626.1 188.9M430.3 190.0L652.6 188.0M416.9 187.4L649.3 190.5M423.0 187.3L633.6 190.5M400.4 192.2L649.1 185.7M416.2 190.2L623.5 189.6M416.3 189.0L646.8 193.2M418.2 190.4L667.8 189.6M400.8 189.2L640.8 188.5M425.9 193.8L652.9 191.3M436.6 190.0L638.9 190.7M401.7 184.8L651.5 185.2M424.8 188.0L640.2 189.1M424.5 186.6L663.3 187.6M409.4 190.5L641.5 191.4M408.8 185.5L657.2 187.5M412.6 185.2L658.6 189.2M420.6 185.8L654.6 189.0M425.2 189.7L665.4 187.3M412.0 188.9L654.4 187.2M427.2 183.2L651.3 190.9M442.3 187.6L627.3 188.4M429.2 186.4L651.3 183.2M404.9 188.2L640.4 188.1M414.6 186.7L637.2 189.4M400.5 183.6L634.7 192.2M423.5 192.8L654.8 189.9M416.8 191.7L654.4 190.9M440.3 185.6L657.8 184.7M434.5 192.6L663.8 185.3M444.1 189.8L634.6 185.5M436.2 194.2L654.0 186.6M408.6 189.8L654.7 192.1M434.0 190.9L660.8 188.0M407.9 186.5L626.6 186.6" stroke="#dc5a12" stroke-width="0.6" stroke-opacity="0.4" fill="none"/><g fill="#dc5a12" fill-opacity="0.55" stroke="#9a3e0c" stroke-width="0.4" stroke-opacity="0.7"><circle cx="451.6" cy="187.6" r="1.6"/><circle cx="435.6" cy="187.7" r="0.6"/><circle cx="405.9" cy="182.7" r="0.9"/><circle cx="421.6" cy="191.6" r="0.6"/><circle cx="421.0" cy="192.5" r="1.6"/><circle cx="447.5" cy="191.5" r="0.9"/><circle cx="425.2" cy="191.3" r="1.2"/><circle cx="407.5" cy="193.9" r="0.6"/><circle cx="437.2" cy="187.0" r="2.1"/><circle cx="444.9" cy="188.7" r="1.2"/><circle cx="448.4" cy="187.0" r="0.9"/><circle cx="430.6" cy="186.2" r="0.9"/><circle cx="416.5" cy="188.6" r="0.9"/><circle cx="426.7" cy="188.3" r="2.1"/><circle cx="418.9" cy="190.9" r="2.1"/><circle cx="417.0" cy="189.9" r="0.9"/><circle cx="420.5" cy="187.1" r="1.6"/><circle cx="418.0" cy="186.5" r="1.6"/><circle cx="433.4" cy="187.2" r="0.9"/><circle cx="449.8" cy="191.4" r="2.1"/><circle cx="410.1" cy="188.9" r="1.6"/><circle cx="421.9" cy="187.5" r="0.9"/><circle cx="442.3" cy="188.1" r="0.9"/><circle cx="427.1" cy="189.6" r="1.6"/><circle cx="423.7" cy="187.2" r="0.6"/><circle cx="447.9" cy="191.0" r="0.6"/><circle cx="405.8" cy="184.9" r="0.9"/><circle cx="444.5" cy="188.9" r="1.2"/><circle cx="444.9" cy="189.2" r="2.1"/><circle cx="400.7" cy="188.6" r="0.6"/><circle cx="449.6" cy="190.9" r="0.9"/><circle cx="414.4" cy="188.3" r="1.6"/><circle cx="436.1" cy="192.7" r="2.1"/><circle cx="439.9" cy="194.3" r="0.6"/><circle cx="427.1" cy="186.1" r="0.9"/><circle cx="423.3" cy="194.7" r="0.9"/><circle cx="440.8" cy="192.0" r="0.9"/><circle cx="443.8" cy="187.4" r="0.9"/><circle cx="450.8" cy="190.1" r="0.6"/><circle cx="437.8" cy="184.5" r="0.9"/><circle cx="430.4" cy="188.4" r="0.9"/><circle cx="446.6" cy="188.7" r="0.6"/><circle cx="407.3" cy="188.7" r="0.6"/><circle cx="451.3" cy="187.6" r="0.9"/><circle cx="446.3" cy="191.7" r="0.6"/><circle cx="445.3" cy="190.7" r="0.6"/><circle cx="426.6" cy="192.5" r="1.2"/><circle cx="433.1" cy="194.7" r="2.1"/><circle cx="433.1" cy="188.0" r="1.2"/><circle cx="444.5" cy="189.1" r="0.9"/><circle cx="428.1" cy="189.6" r="1.2"/><circle cx="408.3" cy="188.9" r="0.9"/><circle cx="425.4" cy="184.7" r="0.9"/><circle cx="427.8" cy="188.4" r="0.9"/><circle cx="417.7" cy="189.3" r="0.6"/><circle cx="421.9" cy="194.2" r="0.9"/><circle cx="444.7" cy="190.0" r="0.9"/><circle cx="409.8" cy="182.7" r="0.6"/><circle cx="402.0" cy="183.7" r="0.6"/><circle cx="443.3" cy="188.6" r="0.9"/><circle cx="443.2" cy="189.7" r="0.9"/><circle cx="446.3" cy="192.8" r="1.2"/><circle cx="417.5" cy="186.5" r="0.9"/><circle cx="451.3" cy="188.3" r="1.6"/><circle cx="432.4" cy="187.3" r="1.2"/><circle cx="446.3" cy="189.0" r="1.6"/><circle cx="429.2" cy="189.4" r="0.9"/><circle cx="449.8" cy="194.1" r="0.6"/><circle cx="441.6" cy="187.6" r="1.2"/><circle cx="398.4" cy="187.6" r="0.9"/></g><g fill="#b0480e" fill-opacity="0.8"><circle cx="641.6" cy="191.0" r="0.7"/><circle cx="627.8" cy="183.8" r="0.5"/><circle cx="620.0" cy="185.8" r="1.4"/><circle cx="635.1" cy="188.2" r="0.5"/><circle cx="620.2" cy="191.3" r="0.7"/><circle cx="658.8" cy="185.6" r="0.5"/><circle cx="619.1" cy="186.9" r="1.4"/><circle cx="632.6" cy="189.8" r="0.7"/><circle cx="645.0" cy="184.2" r="0.7"/><circle cx="624.9" cy="185.5" r="0.7"/><circle cx="644.8" cy="190.1" r="1.4"/><circle cx="625.6" cy="182.7" r="0.5"/><circle cx="632.1" cy="194.0" r="1.4"/><circle cx="629.5" cy="186.9" r="1.0"/><circle cx="625.4" cy="194.3" r="1.0"/><circle cx="661.3" cy="191.6" r="0.5"/><circle cx="642.3" cy="191.9" r="0.5"/><circle cx="618.1" cy="188.9" r="1.4"/><circle cx="617.5" cy="184.8" r="0.7"/><circle cx="640.0" cy="186.7" r="0.7"/><circle cx="634.3" cy="190.3" r="1.0"/><circle cx="615.2" cy="186.9" r="0.5"/><circle cx="628.1" cy="183.3" r="0.7"/><circle cx="631.8" cy="187.9" r="0.5"/><circle cx="653.1" cy="189.9" r="0.7"/><circle cx="627.1" cy="189.4" r="0.5"/><circle cx="662.7" cy="187.4" r="1.4"/><circle cx="621.8" cy="189.3" r="0.7"/><circle cx="653.8" cy="190.6" r="1.4"/><circle cx="633.9" cy="187.6" r="0.5"/><circle cx="644.5" cy="186.8" r="0.5"/><circle cx="643.4" cy="188.9" r="0.5"/><circle cx="637.1" cy="186.3" r="0.7"/><circle cx="644.6" cy="185.4" r="0.7"/><circle cx="644.9" cy="189.3" r="0.7"/><circle cx="616.4" cy="189.7" r="0.7"/><circle cx="643.6" cy="186.7" r="0.7"/><circle cx="622.0" cy="188.6" r="0.5"/><circle cx="626.8" cy="185.7" r="0.5"/><circle cx="623.2" cy="191.0" r="0.7"/><circle cx="619.2" cy="191.8" r="1.4"/><circle cx="616.4" cy="193.9" r="1.0"/><circle cx="620.5" cy="188.5" r="0.5"/><circle cx="616.3" cy="189.7" r="0.5"/><circle cx="623.3" cy="190.1" r="0.5"/><circle cx="637.0" cy="190.5" r="1.4"/><circle cx="620.9" cy="193.1" r="0.5"/><circle cx="632.1" cy="191.1" r="1.0"/><circle cx="650.5" cy="193.1" r="0.5"/><circle cx="635.9" cy="189.0" r="0.5"/><circle cx="636.9" cy="186.2" r="1.0"/><circle cx="622.6" cy="191.4" r="1.4"/><circle cx="626.8" cy="193.8" r="0.5"/><circle cx="630.6" cy="188.8" r="1.0"/><circle cx="631.7" cy="188.8" r="1.0"/><circle cx="625.8" cy="190.1" r="0.7"/><circle cx="619.7" cy="188.3" r="0.5"/><circle cx="619.7" cy="190.7" r="1.4"/><circle cx="645.2" cy="187.6" r="1.0"/><circle cx="637.3" cy="185.6" r="0.7"/></g><g fill="#fff" fill-opacity="0.45"><circle cx="623.7" cy="187.2" r="0.7"/><circle cx="630.6" cy="188.7" r="1.0"/><circle cx="653.0" cy="191.7" r="0.7"/><circle cx="659.0" cy="190.2" r="1.0"/><circle cx="657.1" cy="190.8" r="0.7"/><circle cx="615.1" cy="189.7" r="1.3"/><circle cx="628.6" cy="185.8" r="1.0"/><circle cx="648.8" cy="189.7" r="1.3"/><circle cx="665.8" cy="187.4" r="1.3"/><circle cx="619.2" cy="190.8" r="0.7"/><circle cx="646.0" cy="186.2" r="0.7"/><circle cx="647.0" cy="188.5" r="0.7"/><circle cx="624.3" cy="188.4" r="1.0"/><circle cx="621.7" cy="188.9" r="1.3"/><circle cx="666.9" cy="184.8" r="0.7"/><circle cx="619.9" cy="188.9" r="1.3"/><circle cx="658.5" cy="186.2" r="1.3"/><circle cx="629.3" cy="188.6" r="1.3"/><circle cx="651.9" cy="191.6" r="1.0"/><circle cx="616.7" cy="189.5" r="0.7"/><circle cx="624.9" cy="186.2" r="1.3"/><circle cx="662.7" cy="191.5" r="1.0"/><circle cx="664.5" cy="190.1" r="0.7"/><circle cx="621.9" cy="190.8" r="1.0"/><circle cx="645.6" cy="191.9" r="1.3"/><circle cx="636.3" cy="190.9" r="1.0"/><circle cx="612.8" cy="191.7" r="1.0"/><circle cx="625.4" cy="191.8" r="1.3"/><circle cx="616.9" cy="192.6" r="0.7"/><circle cx="635.9" cy="187.7" r="1.0"/><circle cx="614.2" cy="189.0" r="1.0"/><circle cx="653.1" cy="185.4" r="0.7"/><circle cx="614.5" cy="188.6" r="1.3"/><circle cx="622.7" cy="184.9" r="1.3"/><circle cx="649.2" cy="190.4" r="0.7"/><circle cx="654.5" cy="192.1" r="1.3"/><circle cx="651.6" cy="189.3" r="1.3"/><circle cx="645.9" cy="190.3" r="1.3"/><circle cx="652.3" cy="190.2" r="1.0"/><circle cx="647.3" cy="187.2" r="1.3"/><circle cx="626.3" cy="191.3" r="0.7"/><circle cx="619.1" cy="192.3" r="1.3"/><circle cx="639.9" cy="186.1" r="0.7"/><circle cx="666.7" cy="187.2" r="1.3"/><circle cx="667.1" cy="189.5" r="0.7"/></g><polygon points="398.0,214.5 415.0,211.5 440.0,210.5 462.0,211.5 605.0,211.5 630.0,210.5 655.0,211.5 672.0,214.5 672.0,217.5 655.0,220.5 630.0,221.5 605.0,220.5 462.0,220.5 440.0,221.5 415.0,220.5 398.0,217.5" fill="#d3175e" fill-opacity="0.3"/><polygon points="436.0,212.8 450.0,211.7 612.0,211.7 624.0,212.8 624.0,219.2 612.0,220.3 450.0,220.3 436.0,219.2" fill="#d3175e" fill-opacity="0.55"/><polygon points="440.0,214.2 452.0,213.3 612.0,213.3 622.0,214.2 622.0,217.9 612.0,218.7 452.0,218.7 440.0,217.9" fill="#d3175e"/><path d="M417.6 212.4L631.5 218.5M428.5 217.9L626.8 214.3M418.8 216.2L637.6 215.6M440.9 216.8L633.9 215.4M438.8 214.8L664.3 216.7M431.8 216.8L634.0 218.5M432.4 219.1L653.0 216.9M402.7 216.1L633.4 213.0M427.7 219.8L667.5 214.7M424.3 216.1L655.3 210.5M410.5 219.9L640.4 218.9M420.2 216.0L627.4 217.6M417.2 218.5L645.9 211.0M433.4 218.1L624.1 217.0M404.1 215.6L634.6 215.7M423.5 221.5L659.6 217.9M436.4 210.5L623.6 215.9M400.9 213.0L657.9 218.0M400.1 216.9L666.2 214.9M406.0 217.3L664.6 211.7M404.7 218.4L651.3 217.4M437.7 221.5L626.8 214.7M405.3 210.8L666.8 216.0M439.7 217.9L654.7 211.4M403.6 219.3L630.6 216.6M406.9 220.0L644.6 220.1M438.8 218.1L624.6 215.1M440.2 217.6L652.3 217.6M425.6 220.3L666.3 214.0M403.1 215.4L637.5 215.5M427.4 216.4L664.2 217.5M426.0 220.4L654.2 218.8M418.2 218.1L646.7 216.9M433.7 215.0L633.2 220.7M411.1 216.6L641.1 216.1M435.2 217.8L642.8 217.4M415.4 218.4L649.7 212.4M432.9 215.6L622.3 215.3M421.0 214.7L632.7 218.7M413.4 216.3L632.1 214.9M422.3 214.5L648.2 215.5M425.6 215.3L643.1 215.3M404.0 217.1L655.9 221.5M413.3 218.9L662.4 210.5M425.8 215.8L657.9 216.2" stroke="#d3175e" stroke-width="0.6" stroke-opacity="0.4" fill="none"/><g fill="#d3175e" fill-opacity="0.55" stroke="#931041" stroke-width="0.4" stroke-opacity="0.7"><circle cx="427.9" cy="218.9" r="0.6"/><circle cx="412.6" cy="222.0" r="0.9"/><circle cx="443.5" cy="214.2" r="0.6"/><circle cx="434.5" cy="217.4" r="0.6"/><circle cx="447.5" cy="210.6" r="1.2"/><circle cx="449.3" cy="217.3" r="0.9"/><circle cx="443.3" cy="214.7" r="1.2"/><circle cx="446.6" cy="212.5" r="0.6"/><circle cx="446.0" cy="217.0" r="1.6"/><circle cx="442.8" cy="216.7" r="0.9"/><circle cx="433.7" cy="214.6" r="2.1"/><circle cx="434.0" cy="213.6" r="0.6"/><circle cx="451.3" cy="214.2" r="0.9"/><circle cx="429.8" cy="216.9" r="1.6"/><circle cx="440.2" cy="220.1" r="0.9"/><circle cx="437.9" cy="216.0" r="1.2"/><circle cx="429.8" cy="210.8" r="0.6"/><circle cx="431.2" cy="217.2" r="1.6"/><circle cx="449.2" cy="217.8" r="2.1"/><circle cx="413.7" cy="217.1" r="0.6"/><circle cx="444.4" cy="214.1" r="1.2"/><circle cx="442.7" cy="216.3" r="0.6"/><circle cx="418.1" cy="217.3" r="0.9"/><circle cx="451.2" cy="212.1" r="0.9"/><circle cx="446.2" cy="219.6" r="0.6"/><circle cx="419.2" cy="222.0" r="0.9"/><circle cx="445.2" cy="215.8" r="1.6"/><circle cx="413.1" cy="217.0" r="1.2"/><circle cx="425.0" cy="211.7" r="0.9"/><circle cx="417.1" cy="216.1" r="0.6"/><circle cx="417.5" cy="214.0" r="1.6"/><circle cx="430.5" cy="218.8" r="1.2"/><circle cx="422.4" cy="215.0" r="0.6"/><circle cx="447.3" cy="210.1" r="0.9"/><circle cx="422.8" cy="216.2" r="0.9"/><circle cx="437.6" cy="214.3" r="0.6"/><circle cx="447.1" cy="213.4" r="0.9"/><circle cx="441.9" cy="220.7" r="0.6"/><circle cx="407.0" cy="210.4" r="1.2"/><circle cx="449.2" cy="211.1" r="0.6"/><circle cx="451.1" cy="216.0" r="0.6"/><circle cx="441.3" cy="216.0" r="0.9"/><circle cx="432.3" cy="220.3" r="0.6"/><circle cx="424.8" cy="210.4" r="0.6"/><circle cx="431.7" cy="217.8" r="0.6"/><circle cx="410.1" cy="214.2" r="1.2"/><circle cx="417.4" cy="218.0" r="0.6"/><circle cx="425.5" cy="210.0" r="0.6"/><circle cx="439.8" cy="215.6" r="0.9"/><circle cx="429.8" cy="217.1" r="0.9"/><circle cx="442.2" cy="217.2" r="0.9"/><circle cx="432.7" cy="214.4" r="2.1"/><circle cx="440.8" cy="214.5" r="1.6"/><circle cx="428.7" cy="215.5" r="0.9"/><circle cx="425.2" cy="215.7" r="0.6"/><circle cx="435.2" cy="215.9" r="0.6"/><circle cx="447.6" cy="220.4" r="1.2"/><circle cx="444.9" cy="218.5" r="1.2"/><circle cx="451.4" cy="214.2" r="1.6"/><circle cx="433.0" cy="215.4" r="0.6"/><circle cx="447.3" cy="213.1" r="0.6"/><circle cx="425.2" cy="213.2" r="0.6"/><circle cx="417.2" cy="219.4" r="0.9"/><circle cx="449.7" cy="218.6" r="0.9"/><circle cx="445.0" cy="216.1" r="0.6"/><circle cx="415.3" cy="222.0" r="0.6"/><circle cx="410.4" cy="212.1" r="0.9"/><circle cx="439.7" cy="212.1" r="0.6"/><circle cx="439.9" cy="211.5" r="0.6"/><circle cx="439.6" cy="218.4" r="1.2"/></g><g fill="#a8124b" fill-opacity="0.8"><circle cx="633.6" cy="213.5" r="0.7"/><circle cx="663.1" cy="217.0" r="1.0"/><circle cx="624.3" cy="210.0" r="0.5"/><circle cx="636.1" cy="221.5" r="0.7"/><circle cx="637.8" cy="217.7" r="0.5"/><circle cx="627.3" cy="216.3" r="0.5"/><circle cx="618.1" cy="216.3" r="1.4"/><circle cx="623.9" cy="216.7" r="0.5"/><circle cx="624.3" cy="218.5" r="0.5"/><circle cx="632.7" cy="211.7" r="0.5"/><circle cx="663.4" cy="217.1" r="1.0"/><circle cx="632.7" cy="216.5" r="1.0"/><circle cx="622.7" cy="212.4" r="0.7"/><circle cx="614.9" cy="218.4" r="0.7"/><circle cx="616.2" cy="217.5" r="0.5"/><circle cx="634.8" cy="215.6" r="0.5"/><circle cx="621.5" cy="218.1" r="0.7"/><circle cx="626.6" cy="214.2" r="1.4"/><circle cx="647.6" cy="217.9" r="0.5"/><circle cx="630.5" cy="214.2" r="1.0"/><circle cx="624.0" cy="215.9" r="0.7"/><circle cx="657.8" cy="216.6" r="0.7"/><circle cx="632.6" cy="215.8" r="0.7"/><circle cx="614.8" cy="222.0" r="1.0"/><circle cx="647.4" cy="212.7" r="0.7"/><circle cx="616.6" cy="215.9" r="0.7"/><circle cx="640.8" cy="217.9" r="1.0"/><circle cx="631.1" cy="222.0" r="0.5"/><circle cx="622.2" cy="216.5" r="0.7"/><circle cx="615.9" cy="218.8" r="0.7"/><circle cx="633.0" cy="214.7" r="1.0"/><circle cx="634.6" cy="219.3" r="1.0"/><circle cx="639.6" cy="214.7" r="0.5"/><circle cx="652.8" cy="218.6" r="0.7"/><circle cx="626.0" cy="216.8" r="0.7"/><circle cx="625.7" cy="217.5" r="0.5"/><circle cx="620.5" cy="216.3" r="1.0"/><circle cx="633.8" cy="219.1" r="0.5"/><circle cx="620.8" cy="217.8" r="0.7"/><circle cx="658.4" cy="216.6" r="0.5"/><circle cx="628.3" cy="216.0" r="0.7"/><circle cx="638.9" cy="218.1" r="1.0"/><circle cx="651.2" cy="214.7" r="0.5"/><circle cx="625.3" cy="214.9" r="1.0"/><circle cx="639.7" cy="218.7" r="0.7"/><circle cx="641.5" cy="215.6" r="1.0"/><circle cx="626.3" cy="218.7" r="1.0"/><circle cx="641.6" cy="215.5" r="0.7"/><circle cx="616.5" cy="216.4" r="0.5"/><circle cx="653.0" cy="216.8" r="1.0"/><circle cx="626.6" cy="217.0" r="0.5"/><circle cx="618.5" cy="215.8" r="1.0"/><circle cx="631.2" cy="218.4" r="0.7"/><circle cx="641.8" cy="222.0" r="0.5"/><circle cx="626.9" cy="217.4" r="0.7"/><circle cx="631.9" cy="214.6" r="1.0"/><circle cx="657.2" cy="218.2" r="1.4"/><circle cx="639.0" cy="221.2" r="0.5"/><circle cx="625.7" cy="212.3" r="1.4"/><circle cx="625.7" cy="218.1" r="0.7"/></g><g fill="#fff" fill-opacity="0.45"><circle cx="650.7" cy="212.7" r="1.0"/><circle cx="659.6" cy="213.6" r="0.7"/><circle cx="656.0" cy="212.6" r="0.7"/><circle cx="650.3" cy="218.6" r="1.0"/><circle cx="613.3" cy="214.9" r="1.0"/><circle cx="659.5" cy="217.7" r="0.7"/><circle cx="631.1" cy="219.9" r="1.3"/><circle cx="633.8" cy="216.0" r="1.3"/><circle cx="651.2" cy="218.1" r="1.0"/><circle cx="629.9" cy="213.5" r="1.0"/><circle cx="626.4" cy="214.1" r="1.3"/><circle cx="613.9" cy="212.3" r="1.3"/><circle cx="630.3" cy="213.2" r="0.7"/><circle cx="657.8" cy="215.5" r="1.3"/><circle cx="615.3" cy="216.5" r="1.3"/><circle cx="667.9" cy="219.0" r="1.0"/><circle cx="661.6" cy="220.0" r="1.0"/><circle cx="620.3" cy="216.0" r="1.0"/><circle cx="621.8" cy="215.3" r="0.7"/><circle cx="613.3" cy="217.7" r="1.3"/><circle cx="642.0" cy="213.1" r="1.3"/><circle cx="653.3" cy="219.0" r="1.0"/><circle cx="614.9" cy="212.9" r="1.0"/><circle cx="653.3" cy="218.1" r="1.0"/><circle cx="639.9" cy="217.0" r="0.7"/><circle cx="666.7" cy="218.8" r="1.0"/><circle cx="654.1" cy="217.5" r="1.3"/><circle cx="639.7" cy="219.9" r="0.7"/><circle cx="651.0" cy="217.0" r="0.7"/><circle cx="613.6" cy="219.1" r="1.0"/><circle cx="659.5" cy="218.1" r="1.0"/><circle cx="618.9" cy="215.3" r="1.3"/><circle cx="665.5" cy="216.1" r="1.3"/><circle cx="623.1" cy="216.5" r="1.0"/><circle cx="660.4" cy="217.9" r="1.0"/><circle cx="614.8" cy="215.3" r="0.7"/><circle cx="620.1" cy="213.0" r="1.3"/><circle cx="655.5" cy="213.2" r="0.7"/><circle cx="657.7" cy="212.9" r="0.7"/><circle cx="658.4" cy="213.6" r="0.7"/><circle cx="662.4" cy="215.8" r="1.3"/><circle cx="661.1" cy="217.1" r="1.3"/><circle cx="662.1" cy="217.8" r="0.7"/><circle cx="613.3" cy="213.6" r="1.3"/><circle cx="667.9" cy="219.0" r="0.7"/></g><polygon points="398.0,241.9 415.0,238.9 440.0,237.9 462.0,238.9 605.0,238.9 630.0,237.9 655.0,238.9 672.0,241.9 672.0,244.9 655.0,247.9 630.0,248.9 605.0,247.9 462.0,247.9 440.0,248.9 415.0,247.9 398.0,244.9" fill="#208c42" fill-opacity="0.3"/><polygon points="436.0,240.2 450.0,239.1 612.0,239.1 624.0,240.2 624.0,246.6 612.0,247.7 450.0,247.7 436.0,246.6" fill="#208c42" fill-opacity="0.55"/><polygon points="440.0,241.7 452.0,241.0 612.0,241.0 622.0,241.7 622.0,245.0 612.0,245.8 452.0,245.8 440.0,245.0" fill="#208c42"/><path d="M429.9 242.9L658.4 243.8M410.1 247.8L657.3 241.5M416.7 243.9L632.0 244.9M407.4 242.6L652.8 243.7M431.3 243.1L637.7 240.6M404.6 245.2L638.3 246.9M412.9 241.8L658.5 243.5M415.9 244.7L631.5 243.8M442.8 242.4L644.9 245.6M439.0 243.3L644.8 246.8M440.8 239.1L649.4 243.5M412.3 242.3L625.2 243.1M408.6 245.4L622.7 238.8M405.2 242.1L634.5 243.3M406.9 242.7L661.0 239.2M400.0 240.5L666.2 239.5M418.6 244.4L652.2 245.0M444.3 247.7L661.6 238.6M401.1 240.4L644.6 248.9M428.8 245.3L642.9 242.5M439.8 241.2L650.7 242.1M400.4 242.1L628.0 243.6M410.6 242.9L644.0 237.9M439.4 243.8L661.1 245.4M423.2 241.9L648.1 245.0M440.1 245.2L645.7 240.2M408.0 240.2L650.4 241.5M439.6 245.9L665.7 243.1M413.2 243.1L637.9 245.6M414.9 246.9L651.6 242.3M412.8 242.6L624.1 248.9M406.9 245.9L667.5 241.2M401.2 248.6L622.6 242.6M436.7 237.9L652.2 245.9M408.7 243.3L657.4 244.6M440.5 241.8L639.0 244.1M427.2 242.5L642.6 241.6M441.7 245.3L666.8 241.6M441.7 247.0L641.4 242.1M416.0 243.5L633.1 248.0M431.4 243.3L642.6 244.3M416.9 244.9L666.6 241.4M406.5 241.3L649.2 240.1M412.6 243.6L662.3 244.8M421.9 248.9L632.7 244.7" stroke="#208c42" stroke-width="0.6" stroke-opacity="0.4" fill="none"/><g fill="#208c42" fill-opacity="0.55" stroke="#16622e" stroke-width="0.4" stroke-opacity="0.7"><circle cx="443.7" cy="244.8" r="0.6"/><circle cx="410.0" cy="240.5" r="0.6"/><circle cx="417.3" cy="246.5" r="0.6"/><circle cx="434.0" cy="245.5" r="0.6"/><circle cx="442.5" cy="240.2" r="1.6"/><circle cx="413.4" cy="243.2" r="0.9"/><circle cx="426.7" cy="242.0" r="1.6"/><circle cx="451.6" cy="247.8" r="1.2"/><circle cx="411.5" cy="243.8" r="0.9"/><circle cx="411.0" cy="240.4" r="0.6"/><circle cx="415.4" cy="239.7" r="0.9"/><circle cx="441.4" cy="246.4" r="0.9"/><circle cx="422.0" cy="243.3" r="0.6"/><circle cx="435.8" cy="241.4" r="0.6"/><circle cx="439.7" cy="242.7" r="1.2"/><circle cx="442.8" cy="241.3" r="1.2"/><circle cx="442.5" cy="243.3" r="0.9"/><circle cx="418.4" cy="239.8" r="1.6"/><circle cx="428.2" cy="239.4" r="0.9"/><circle cx="420.2" cy="244.7" r="0.9"/><circle cx="431.5" cy="244.3" r="0.9"/><circle cx="425.7" cy="240.8" r="0.6"/><circle cx="444.8" cy="242.7" r="0.9"/><circle cx="425.0" cy="243.0" r="1.2"/><circle cx="432.8" cy="239.9" r="1.2"/><circle cx="422.3" cy="249.4" r="2.1"/><circle cx="436.2" cy="245.3" r="1.2"/><circle cx="440.7" cy="240.4" r="0.6"/><circle cx="420.8" cy="239.9" r="0.9"/><circle cx="420.9" cy="245.8" r="1.2"/><circle cx="451.3" cy="249.4" r="0.6"/><circle cx="427.1" cy="239.2" r="1.2"/><circle cx="443.0" cy="246.0" r="1.2"/><circle cx="444.3" cy="243.5" r="1.6"/><circle cx="418.0" cy="243.6" r="0.6"/><circle cx="424.0" cy="241.1" r="0.6"/><circle cx="411.3" cy="246.7" r="0.6"/><circle cx="447.7" cy="245.2" r="0.6"/><circle cx="439.1" cy="243.0" r="0.9"/><circle cx="437.7" cy="246.4" r="0.9"/><circle cx="448.4" cy="247.7" r="0.9"/><circle cx="421.1" cy="247.8" r="1.6"/><circle cx="424.0" cy="247.5" r="1.2"/><circle cx="427.8" cy="244.7" r="1.6"/><circle cx="441.9" cy="242.3" r="2.1"/><circle cx="447.9" cy="240.3" r="1.2"/><circle cx="441.0" cy="243.5" r="0.6"/><circle cx="412.5" cy="244.3" r="2.1"/><circle cx="443.1" cy="243.5" r="0.6"/><circle cx="444.9" cy="244.4" r="1.2"/><circle cx="407.0" cy="247.9" r="0.6"/><circle cx="448.1" cy="238.7" r="0.6"/><circle cx="448.4" cy="245.7" r="1.2"/><circle cx="451.2" cy="240.6" r="1.2"/><circle cx="449.3" cy="243.1" r="0.9"/><circle cx="449.3" cy="244.6" r="0.9"/><circle cx="444.4" cy="241.3" r="0.6"/><circle cx="435.8" cy="239.6" r="0.9"/><circle cx="440.9" cy="239.1" r="0.6"/><circle cx="427.1" cy="245.0" r="1.2"/><circle cx="419.9" cy="241.3" r="0.9"/><circle cx="448.1" cy="246.5" r="1.2"/><circle cx="411.2" cy="246.9" r="0.6"/><circle cx="428.7" cy="247.0" r="0.6"/><circle cx="416.4" cy="244.7" r="0.9"/><circle cx="448.5" cy="241.1" r="1.2"/><circle cx="425.6" cy="246.5" r="0.9"/><circle cx="448.0" cy="244.9" r="0.6"/><circle cx="407.0" cy="243.1" r="0.6"/><circle cx="445.9" cy="244.4" r="0.9"/></g><g fill="#197034" fill-opacity="0.8"><circle cx="620.1" cy="241.4" r="0.5"/><circle cx="624.9" cy="243.9" r="0.7"/><circle cx="622.7" cy="241.6" r="0.7"/><circle cx="629.5" cy="242.6" r="0.5"/><circle cx="615.6" cy="242.1" r="0.5"/><circle cx="632.3" cy="240.9" r="0.5"/><circle cx="655.9" cy="242.9" r="0.5"/><circle cx="633.2" cy="240.6" r="1.4"/><circle cx="666.9" cy="242.6" r="0.7"/><circle cx="634.4" cy="244.2" r="0.7"/><circle cx="620.8" cy="240.2" r="0.5"/><circle cx="621.9" cy="245.2" r="1.4"/><circle cx="625.3" cy="240.5" r="0.7"/><circle cx="634.1" cy="246.2" r="1.0"/><circle cx="634.1" cy="243.5" r="0.5"/><circle cx="661.6" cy="246.6" r="1.0"/><circle cx="643.5" cy="241.4" r="0.7"/><circle cx="630.0" cy="244.3" r="0.7"/><circle cx="660.8" cy="246.4" r="0.5"/><circle cx="667.8" cy="242.2" r="1.0"/><circle cx="617.4" cy="249.4" r="0.7"/><circle cx="628.3" cy="244.5" r="1.0"/><circle cx="632.3" cy="241.3" r="1.0"/><circle cx="639.1" cy="241.6" r="0.7"/><circle cx="640.1" cy="244.4" r="0.7"/><circle cx="668.5" cy="247.3" r="0.7"/><circle cx="617.1" cy="240.1" r="1.0"/><circle cx="618.9" cy="242.2" r="0.5"/><circle cx="638.2" cy="246.2" r="0.5"/><circle cx="656.6" cy="242.4" r="0.7"/><circle cx="620.7" cy="244.8" r="0.5"/><circle cx="641.6" cy="245.1" r="0.7"/><circle cx="648.0" cy="240.3" r="0.7"/><circle cx="648.6" cy="241.7" r="0.7"/><circle cx="652.6" cy="237.7" r="0.7"/><circle cx="618.2" cy="238.9" r="0.5"/><circle cx="622.6" cy="244.8" r="0.7"/><circle cx="628.2" cy="243.9" r="0.5"/><circle cx="648.1" cy="243.5" r="0.7"/><circle cx="615.9" cy="245.8" r="0.7"/><circle cx="652.8" cy="242.7" r="0.5"/><circle cx="655.5" cy="247.0" r="1.0"/><circle cx="614.6" cy="238.9" r="0.5"/><circle cx="626.8" cy="248.4" r="0.7"/><circle cx="619.5" cy="246.3" r="0.5"/><circle cx="631.1" cy="241.5" r="0.7"/><circle cx="663.5" cy="237.4" r="0.5"/><circle cx="633.7" cy="245.8" r="1.0"/><circle cx="617.9" cy="239.7" r="0.7"/><circle cx="633.5" cy="239.4" r="0.5"/><circle cx="647.5" cy="238.4" r="1.4"/><circle cx="647.5" cy="239.7" r="0.5"/><circle cx="619.1" cy="243.6" r="0.5"/><circle cx="660.7" cy="240.1" r="0.5"/><circle cx="621.6" cy="244.7" r="0.5"/><circle cx="614.1" cy="245.5" r="0.5"/><circle cx="667.1" cy="247.0" r="0.7"/><circle cx="619.9" cy="245.2" r="0.7"/><circle cx="631.9" cy="242.9" r="0.5"/><circle cx="663.0" cy="243.7" r="0.7"/></g><g fill="#fff" fill-opacity="0.45"><circle cx="643.7" cy="246.7" r="0.7"/><circle cx="659.2" cy="241.6" r="1.3"/><circle cx="640.6" cy="246.3" r="1.0"/><circle cx="619.1" cy="244.3" r="0.7"/><circle cx="627.6" cy="242.4" r="0.7"/><circle cx="659.9" cy="242.3" r="1.0"/><circle cx="622.4" cy="241.4" r="0.7"/><circle cx="618.2" cy="245.5" r="1.3"/><circle cx="667.6" cy="243.8" r="0.7"/><circle cx="652.1" cy="246.1" r="1.3"/><circle cx="663.0" cy="245.4" r="1.0"/><circle cx="632.6" cy="240.4" r="1.0"/><circle cx="617.9" cy="242.5" r="0.7"/><circle cx="635.0" cy="243.8" r="1.3"/><circle cx="653.8" cy="242.6" r="1.0"/><circle cx="660.4" cy="244.3" r="1.3"/><circle cx="637.5" cy="246.8" r="1.0"/><circle cx="641.7" cy="239.9" r="1.0"/><circle cx="643.4" cy="245.0" r="0.7"/><circle cx="645.4" cy="247.3" r="1.0"/><circle cx="625.5" cy="246.9" r="0.7"/><circle cx="633.6" cy="243.6" r="1.3"/><circle cx="625.5" cy="243.3" r="1.0"/><circle cx="664.2" cy="244.9" r="1.3"/><circle cx="666.2" cy="240.7" r="0.7"/><circle cx="639.6" cy="239.6" r="1.3"/><circle cx="615.5" cy="243.6" r="1.0"/><circle cx="652.3" cy="240.6" r="0.7"/><circle cx="641.1" cy="242.2" r="1.0"/><circle cx="646.6" cy="241.6" r="0.7"/><circle cx="658.7" cy="245.8" r="1.3"/><circle cx="648.8" cy="246.9" r="1.0"/><circle cx="643.1" cy="245.5" r="1.3"/><circle cx="638.6" cy="244.6" r="0.7"/><circle cx="653.2" cy="245.6" r="0.7"/><circle cx="654.5" cy="244.2" r="1.3"/><circle cx="664.2" cy="244.2" r="0.7"/><circle cx="637.5" cy="242.6" r="1.3"/><circle cx="634.1" cy="240.5" r="0.7"/><circle cx="616.6" cy="239.9" r="0.7"/><circle cx="657.2" cy="245.7" r="1.0"/><circle cx="642.0" cy="247.3" r="1.3"/><circle cx="660.7" cy="246.4" r="0.7"/><circle cx="665.7" cy="240.7" r="1.3"/><circle cx="623.7" cy="244.1" r="0.7"/></g><polygon points="398.0,269.2 415.0,266.2 440.0,265.2 462.0,266.2 605.0,266.2 630.0,265.2 655.0,266.2 672.0,269.2 672.0,272.2 655.0,275.2 630.0,276.2 605.0,275.2 462.0,275.2 440.0,276.2 415.0,275.2 398.0,272.2" fill="#2088c8" fill-opacity="0.3"/><polygon points="436.0,267.5 450.0,266.4 612.0,266.4 624.0,267.5 624.0,273.9 612.0,275.0 450.0,275.0 436.0,273.9" fill="#2088c8" fill-opacity="0.55"/><polygon points="440.0,269.0 452.0,268.3 612.0,268.3 622.0,269.0 622.0,272.3 612.0,273.1 452.0,273.1 440.0,272.3" fill="#2088c8"/><path d="M422.4 266.2L645.2 272.9M437.9 271.4L623.0 269.7M420.3 268.0L639.2 273.2M443.8 269.9L667.5 275.2M443.8 269.0L664.0 272.5M435.0 273.2L624.6 269.9M412.9 269.7L662.9 271.1M427.8 271.8L624.7 267.8M443.5 265.2L630.6 266.1M427.6 272.4L658.0 276.2M405.0 270.1L665.3 266.8M401.2 268.2L653.3 271.0M405.9 272.6L635.9 272.5M437.6 270.4L649.4 267.6M416.1 273.3L622.8 266.8M405.1 269.5L641.5 270.6M420.5 271.7L648.7 269.2M406.1 267.7L635.2 267.9M422.4 271.6L642.6 269.8M426.5 270.6L664.2 269.6M418.6 270.5L632.2 272.1M407.8 273.2L631.1 269.2M409.3 269.2L649.2 270.6M427.7 269.1L637.1 269.2M432.5 268.0L654.6 272.3M421.8 274.2L648.1 274.9M434.7 276.2L660.2 271.8M441.6 266.6L642.0 270.4M421.7 270.8L622.2 273.1M403.5 267.2L645.0 266.6M414.0 268.0L639.1 269.2M441.4 270.1L660.6 270.3M427.8 269.0L655.4 272.2M402.5 268.8L630.3 271.2M429.6 271.0L623.4 271.0M404.5 267.6L622.8 273.3M410.3 270.0L640.9 267.7M434.2 271.4L629.2 272.9M403.7 267.0L642.0 271.0M433.5 265.3L653.2 272.4M404.5 269.3L662.4 272.2M411.2 268.6L643.0 273.6M430.9 276.2L665.9 275.7M419.3 269.8L625.3 273.2M425.7 270.0L622.9 268.5" stroke="#2088c8" stroke-width="0.6" stroke-opacity="0.4" fill="none"/><g fill="#2088c8" fill-opacity="0.55" stroke="#165f8c" stroke-width="0.4" stroke-opacity="0.7"><circle cx="422.8" cy="272.7" r="1.2"/><circle cx="451.9" cy="264.7" r="1.2"/><circle cx="427.1" cy="272.1" r="0.9"/><circle cx="443.9" cy="271.5" r="1.2"/><circle cx="442.4" cy="265.7" r="0.9"/><circle cx="449.5" cy="271.6" r="1.2"/><circle cx="444.6" cy="268.8" r="1.6"/><circle cx="451.4" cy="265.3" r="0.6"/><circle cx="432.0" cy="267.2" r="1.2"/><circle cx="432.5" cy="271.1" r="0.6"/><circle cx="448.9" cy="270.0" r="1.2"/><circle cx="436.7" cy="270.6" r="1.6"/><circle cx="448.5" cy="268.7" r="1.2"/><circle cx="430.6" cy="272.9" r="1.2"/><circle cx="427.3" cy="267.0" r="1.2"/><circle cx="431.7" cy="266.0" r="0.6"/><circle cx="430.8" cy="269.2" r="0.6"/><circle cx="440.9" cy="269.5" r="1.6"/><circle cx="442.6" cy="268.7" r="1.2"/><circle cx="442.5" cy="273.0" r="0.6"/><circle cx="448.8" cy="271.3" r="0.9"/><circle cx="439.6" cy="268.4" r="0.6"/><circle cx="450.3" cy="275.2" r="0.6"/><circle cx="416.4" cy="269.3" r="0.6"/><circle cx="446.1" cy="271.9" r="0.6"/><circle cx="432.2" cy="268.8" r="0.6"/><circle cx="438.3" cy="270.4" r="0.6"/><circle cx="449.7" cy="272.2" r="0.9"/><circle cx="438.7" cy="272.8" r="1.2"/><circle cx="441.9" cy="265.6" r="2.1"/><circle cx="440.5" cy="267.1" r="1.6"/><circle cx="443.9" cy="272.5" r="0.9"/><circle cx="409.8" cy="273.5" r="0.9"/><circle cx="437.0" cy="268.9" r="1.6"/><circle cx="447.2" cy="273.9" r="0.6"/><circle cx="423.6" cy="273.5" r="0.9"/><circle cx="441.1" cy="266.9" r="0.6"/><circle cx="414.0" cy="271.0" r="0.6"/><circle cx="437.9" cy="273.4" r="0.9"/><circle cx="431.9" cy="265.1" r="0.9"/><circle cx="436.7" cy="267.4" r="2.1"/><circle cx="448.9" cy="276.7" r="0.9"/><circle cx="420.2" cy="270.6" r="0.9"/><circle cx="411.6" cy="274.8" r="0.9"/><circle cx="439.7" cy="270.5" r="0.6"/><circle cx="444.8" cy="270.5" r="1.2"/><circle cx="449.3" cy="270.6" r="1.6"/><circle cx="423.6" cy="269.2" r="0.9"/><circle cx="435.2" cy="271.0" r="1.2"/><circle cx="441.8" cy="271.9" r="0.6"/><circle cx="432.9" cy="269.9" r="0.6"/><circle cx="421.5" cy="271.9" r="0.9"/><circle cx="424.9" cy="270.5" r="1.2"/><circle cx="421.5" cy="273.3" r="0.6"/><circle cx="436.7" cy="273.3" r="0.9"/><circle cx="446.4" cy="269.0" r="1.6"/><circle cx="431.1" cy="269.2" r="0.6"/><circle cx="409.4" cy="273.5" r="0.9"/><circle cx="441.2" cy="270.1" r="0.9"/><circle cx="429.8" cy="270.6" r="0.9"/><circle cx="424.2" cy="268.3" r="0.9"/><circle cx="431.6" cy="272.0" r="1.2"/><circle cx="427.0" cy="272.7" r="0.9"/><circle cx="441.3" cy="268.1" r="0.9"/><circle cx="422.2" cy="267.7" r="1.2"/><circle cx="439.5" cy="273.2" r="0.6"/><circle cx="447.7" cy="268.1" r="0.6"/><circle cx="451.5" cy="270.2" r="1.2"/><circle cx="443.3" cy="264.7" r="0.9"/><circle cx="442.3" cy="266.2" r="0.6"/></g><g fill="#196ca0" fill-opacity="0.8"><circle cx="617.8" cy="272.3" r="0.7"/><circle cx="617.6" cy="274.3" r="0.7"/><circle cx="615.5" cy="273.8" r="1.4"/><circle cx="627.9" cy="264.7" r="1.0"/><circle cx="656.0" cy="270.0" r="1.0"/><circle cx="658.7" cy="276.0" r="1.0"/><circle cx="620.4" cy="271.8" r="0.5"/><circle cx="629.3" cy="268.6" r="0.5"/><circle cx="628.2" cy="269.4" r="1.0"/><circle cx="623.4" cy="272.2" r="1.4"/><circle cx="626.1" cy="269.5" r="0.7"/><circle cx="627.9" cy="272.4" r="1.0"/><circle cx="624.0" cy="274.5" r="0.7"/><circle cx="632.4" cy="269.0" r="1.4"/><circle cx="632.0" cy="270.9" r="0.5"/><circle cx="662.4" cy="273.1" r="0.5"/><circle cx="656.5" cy="270.6" r="0.5"/><circle cx="618.8" cy="268.0" r="0.7"/><circle cx="637.7" cy="269.3" r="0.7"/><circle cx="644.8" cy="270.7" r="1.4"/><circle cx="622.5" cy="270.3" r="0.5"/><circle cx="645.5" cy="269.6" r="0.7"/><circle cx="624.1" cy="269.3" r="1.0"/><circle cx="614.6" cy="270.2" r="1.0"/><circle cx="636.7" cy="270.8" r="0.7"/><circle cx="629.0" cy="269.1" r="1.0"/><circle cx="646.7" cy="271.7" r="1.0"/><circle cx="621.2" cy="267.8" r="0.5"/><circle cx="618.6" cy="270.5" r="1.0"/><circle cx="623.7" cy="272.4" r="0.7"/><circle cx="634.5" cy="271.3" r="0.5"/><circle cx="618.1" cy="272.3" r="0.7"/><circle cx="631.7" cy="271.7" r="0.7"/><circle cx="615.5" cy="273.0" r="0.5"/><circle cx="641.2" cy="269.9" r="0.5"/><circle cx="627.3" cy="269.2" r="1.4"/><circle cx="637.3" cy="270.4" r="0.5"/><circle cx="624.7" cy="265.3" r="0.7"/><circle cx="626.8" cy="270.8" r="0.5"/><circle cx="628.3" cy="275.9" r="0.5"/><circle cx="623.6" cy="268.6" r="1.0"/><circle cx="630.3" cy="272.2" r="0.7"/><circle cx="653.2" cy="271.8" r="0.5"/><circle cx="621.1" cy="272.7" r="0.5"/><circle cx="635.5" cy="270.4" r="0.7"/><circle cx="627.3" cy="272.8" r="1.0"/><circle cx="645.0" cy="274.2" r="0.5"/><circle cx="630.5" cy="267.9" r="0.7"/><circle cx="624.8" cy="268.6" r="0.7"/><circle cx="633.9" cy="273.2" r="0.5"/><circle cx="638.7" cy="266.7" r="0.5"/><circle cx="623.9" cy="266.8" r="0.5"/><circle cx="617.3" cy="271.8" r="0.5"/><circle cx="626.1" cy="274.9" r="1.0"/><circle cx="650.3" cy="272.9" r="0.7"/><circle cx="644.3" cy="276.7" r="0.5"/><circle cx="645.9" cy="271.9" r="0.5"/><circle cx="615.8" cy="267.6" r="1.0"/><circle cx="632.6" cy="273.3" r="0.5"/><circle cx="639.2" cy="271.9" r="1.0"/></g><g fill="#fff" fill-opacity="0.45"><circle cx="656.0" cy="272.1" r="1.0"/><circle cx="617.7" cy="269.5" r="1.3"/><circle cx="614.6" cy="269.5" r="1.0"/><circle cx="652.4" cy="270.3" r="1.3"/><circle cx="649.1" cy="271.5" r="1.3"/><circle cx="623.4" cy="272.5" r="0.7"/><circle cx="642.0" cy="274.4" r="1.0"/><circle cx="642.8" cy="274.0" r="0.7"/><circle cx="628.6" cy="271.8" r="0.7"/><circle cx="651.3" cy="273.7" r="0.7"/><circle cx="613.7" cy="273.4" r="1.3"/><circle cx="663.3" cy="271.6" r="0.7"/><circle cx="635.9" cy="268.2" r="1.0"/><circle cx="648.0" cy="274.2" r="1.3"/><circle cx="651.5" cy="267.1" r="1.0"/><circle cx="617.6" cy="267.3" r="1.0"/><circle cx="623.5" cy="268.1" r="1.0"/><circle cx="636.6" cy="269.6" r="0.7"/><circle cx="632.2" cy="267.3" r="1.0"/><circle cx="654.5" cy="267.9" r="0.7"/><circle cx="632.4" cy="272.3" r="1.3"/><circle cx="644.1" cy="267.3" r="0.7"/><circle cx="654.0" cy="271.7" r="1.0"/><circle cx="660.2" cy="273.8" r="1.0"/><circle cx="628.2" cy="270.7" r="1.3"/><circle cx="666.9" cy="272.8" r="0.7"/><circle cx="656.3" cy="270.5" r="1.0"/><circle cx="653.9" cy="273.0" r="1.0"/><circle cx="629.0" cy="269.5" r="1.3"/><circle cx="640.2" cy="273.9" r="1.3"/><circle cx="665.3" cy="266.9" r="1.3"/><circle cx="660.1" cy="266.9" r="1.3"/><circle cx="654.9" cy="273.2" r="1.0"/><circle cx="666.2" cy="269.4" r="1.3"/><circle cx="633.8" cy="270.8" r="0.7"/><circle cx="614.4" cy="274.0" r="1.3"/><circle cx="633.2" cy="270.4" r="1.3"/><circle cx="643.7" cy="270.8" r="1.3"/><circle cx="642.5" cy="267.1" r="1.3"/><circle cx="624.6" cy="269.3" r="1.0"/><circle cx="647.2" cy="269.6" r="1.0"/><circle cx="621.4" cy="271.7" r="1.3"/><circle cx="644.2" cy="269.2" r="0.7"/><circle cx="662.5" cy="274.1" r="0.7"/><circle cx="622.6" cy="273.0" r="1.0"/></g><polygon points="398.0,296.5 415.0,293.5 440.0,292.5 462.0,293.5 605.0,293.5 630.0,292.5 655.0,293.5 672.0,296.5 672.0,299.5 655.0,302.5 630.0,303.5 605.0,302.5 462.0,302.5 440.0,303.5 415.0,302.5 398.0,299.5" fill="#d8621a" fill-opacity="0.3"/><polygon points="436.0,294.8 450.0,293.7 612.0,293.7 624.0,294.8 624.0,301.2 612.0,302.3 450.0,302.3 436.0,301.2" fill="#d8621a" fill-opacity="0.55"/><polygon points="440.0,296.3 452.0,295.6 612.0,295.6 622.0,296.3 622.0,299.7 612.0,300.4 452.0,300.4 440.0,299.7" fill="#d8621a"/><path d="M440.3 300.2L646.5 292.5M417.0 299.9L626.2 295.9M434.3 300.0L656.4 303.5M417.0 302.2L664.2 297.1M429.6 300.8L629.6 296.1M416.7 299.7L649.6 297.8M436.2 293.0L623.1 296.8M413.6 298.5L637.3 303.5M407.2 295.6L639.9 297.9M443.2 295.5L644.5 295.8M410.2 297.4L665.8 298.1M440.1 300.0L666.3 299.0M441.6 303.5L636.6 297.4M422.9 300.4L654.9 295.6M433.1 299.0L637.6 295.6M444.8 302.3L653.3 297.9M430.1 300.2L629.6 302.7M410.6 303.5L644.2 294.4M437.6 292.9L623.6 295.0M407.7 297.3L627.1 299.0M404.4 298.2L622.7 299.3M420.1 294.4L637.9 299.7M404.9 300.9L643.0 299.4M418.7 297.0L651.1 296.6M437.3 297.3L622.1 297.3M425.6 296.6L628.2 301.8M422.0 299.4L649.3 299.6M413.4 294.4L639.5 295.7M419.8 298.8L646.9 295.6M436.5 298.8L630.8 297.1M410.4 296.3L649.6 296.7M437.8 293.6L660.3 299.0M428.8 297.8L656.4 298.6M415.6 301.2L655.8 300.7M431.3 296.1L660.4 297.9M430.3 293.5L635.4 297.1M409.7 299.6L631.7 300.1M400.6 298.0L638.7 298.5M414.5 294.5L646.2 302.3M424.3 302.0L646.3 298.4M432.6 302.3L640.6 295.4M433.1 300.1L650.9 300.0M430.3 300.4L628.9 294.8M403.9 299.8L662.7 299.7M402.0 296.3L663.8 298.5" stroke="#d8621a" stroke-width="0.6" stroke-opacity="0.4" fill="none"/><g fill="#d8621a" fill-opacity="0.55" stroke="#974412" stroke-width="0.4" stroke-opacity="0.7"><circle cx="425.1" cy="304.0" r="0.9"/><circle cx="427.6" cy="298.1" r="2.1"/><circle cx="433.8" cy="292.9" r="0.9"/><circle cx="420.4" cy="292.0" r="0.9"/><circle cx="407.3" cy="296.6" r="0.9"/><circle cx="445.5" cy="299.6" r="2.1"/><circle cx="433.8" cy="302.4" r="0.6"/><circle cx="436.8" cy="299.2" r="0.9"/><circle cx="424.0" cy="299.0" r="0.9"/><circle cx="423.3" cy="296.2" r="0.6"/><circle cx="448.8" cy="296.3" r="0.9"/><circle cx="441.6" cy="299.2" r="0.6"/><circle cx="449.4" cy="298.0" r="0.6"/><circle cx="419.0" cy="296.3" r="0.6"/><circle cx="435.1" cy="298.9" r="0.6"/><circle cx="411.2" cy="297.4" r="0.9"/><circle cx="444.9" cy="297.5" r="0.9"/><circle cx="446.2" cy="298.0" r="2.1"/><circle cx="450.6" cy="296.8" r="1.2"/><circle cx="412.5" cy="295.5" r="1.6"/><circle cx="436.8" cy="298.3" r="0.9"/><circle cx="433.0" cy="298.5" r="0.9"/><circle cx="442.8" cy="292.0" r="1.2"/><circle cx="440.0" cy="299.7" r="2.1"/><circle cx="443.7" cy="298.9" r="1.2"/><circle cx="430.3" cy="294.9" r="1.2"/><circle cx="443.6" cy="298.5" r="0.6"/><circle cx="433.8" cy="294.1" r="1.2"/><circle cx="442.2" cy="297.8" r="0.6"/><circle cx="431.8" cy="300.9" r="0.6"/><circle cx="436.3" cy="298.6" r="0.9"/><circle cx="432.3" cy="294.8" r="0.9"/><circle cx="440.4" cy="304.0" r="0.6"/><circle cx="422.0" cy="293.7" r="1.2"/><circle cx="435.5" cy="296.5" r="0.9"/><circle cx="402.4" cy="298.4" r="1.2"/><circle cx="440.9" cy="294.6" r="1.2"/><circle cx="426.1" cy="295.9" r="0.9"/><circle cx="421.5" cy="297.7" r="0.6"/><circle cx="429.1" cy="297.5" r="0.6"/><circle cx="405.6" cy="298.5" r="2.1"/><circle cx="451.3" cy="293.3" r="0.9"/><circle cx="426.7" cy="298.3" r="0.9"/><circle cx="435.5" cy="295.1" r="1.2"/><circle cx="426.7" cy="298.4" r="0.9"/><circle cx="411.1" cy="298.0" r="1.6"/><circle cx="431.9" cy="294.4" r="0.9"/><circle cx="402.2" cy="297.4" r="2.1"/><circle cx="440.6" cy="301.1" r="1.2"/><circle cx="423.1" cy="298.6" r="0.6"/><circle cx="429.0" cy="294.4" r="1.6"/><circle cx="425.3" cy="294.8" r="0.6"/><circle cx="439.7" cy="292.4" r="0.6"/><circle cx="444.6" cy="298.9" r="0.9"/><circle cx="416.9" cy="296.9" r="0.6"/><circle cx="434.6" cy="295.9" r="0.6"/><circle cx="435.7" cy="298.4" r="0.6"/><circle cx="439.3" cy="303.8" r="0.9"/><circle cx="410.8" cy="298.6" r="0.9"/><circle cx="442.9" cy="301.8" r="0.9"/><circle cx="450.4" cy="300.3" r="1.2"/><circle cx="435.6" cy="299.0" r="0.6"/><circle cx="434.2" cy="301.1" r="0.9"/><circle cx="440.5" cy="296.5" r="1.2"/><circle cx="451.9" cy="301.2" r="1.6"/><circle cx="437.6" cy="293.3" r="0.9"/><circle cx="451.5" cy="295.3" r="0.9"/><circle cx="450.9" cy="295.8" r="0.9"/><circle cx="444.2" cy="292.0" r="1.2"/><circle cx="444.7" cy="299.4" r="0.6"/></g><g fill="#ac4e14" fill-opacity="0.8"><circle cx="628.9" cy="298.7" r="1.0"/><circle cx="629.8" cy="300.8" r="1.0"/><circle cx="644.4" cy="298.8" r="1.0"/><circle cx="614.5" cy="299.5" r="1.0"/><circle cx="631.1" cy="297.7" r="0.5"/><circle cx="621.9" cy="296.7" r="0.5"/><circle cx="658.9" cy="297.6" r="0.7"/><circle cx="649.8" cy="297.4" r="0.7"/><circle cx="625.2" cy="300.5" r="0.5"/><circle cx="643.8" cy="299.1" r="0.5"/><circle cx="668.9" cy="295.5" r="1.0"/><circle cx="630.3" cy="298.5" r="1.0"/><circle cx="620.1" cy="296.5" r="0.7"/><circle cx="623.0" cy="298.5" r="1.0"/><circle cx="656.6" cy="301.3" r="0.5"/><circle cx="644.5" cy="298.7" r="1.0"/><circle cx="643.4" cy="296.4" r="1.0"/><circle cx="645.8" cy="298.6" r="1.0"/><circle cx="629.9" cy="298.7" r="0.7"/><circle cx="615.0" cy="299.9" r="0.5"/><circle cx="644.8" cy="298.9" r="1.0"/><circle cx="616.6" cy="299.2" r="0.7"/><circle cx="623.3" cy="294.9" r="1.0"/><circle cx="628.9" cy="296.1" r="0.7"/><circle cx="632.9" cy="295.3" r="0.7"/><circle cx="642.6" cy="300.4" r="1.0"/><circle cx="656.3" cy="296.1" r="0.7"/><circle cx="624.4" cy="292.7" r="0.7"/><circle cx="622.1" cy="294.3" r="1.4"/><circle cx="626.8" cy="297.1" r="0.5"/><circle cx="651.9" cy="303.7" r="0.7"/><circle cx="632.0" cy="296.6" r="0.5"/><circle cx="654.0" cy="295.1" r="0.5"/><circle cx="634.4" cy="294.9" r="0.5"/><circle cx="624.2" cy="303.8" r="1.0"/><circle cx="633.4" cy="298.9" r="0.7"/><circle cx="619.1" cy="296.0" r="0.5"/><circle cx="649.8" cy="300.9" r="0.7"/><circle cx="614.2" cy="299.8" r="0.5"/><circle cx="657.8" cy="297.9" r="0.5"/><circle cx="641.7" cy="299.4" r="1.0"/><circle cx="642.7" cy="295.3" r="0.5"/><circle cx="618.4" cy="296.9" r="1.0"/><circle cx="633.3" cy="298.3" r="0.7"/><circle cx="616.4" cy="298.0" r="0.5"/><circle cx="644.0" cy="297.5" r="0.5"/><circle cx="667.9" cy="301.7" r="0.7"/><circle cx="620.8" cy="302.0" r="0.7"/><circle cx="617.4" cy="297.6" r="0.7"/><circle cx="621.8" cy="296.4" r="0.5"/><circle cx="633.2" cy="298.2" r="0.7"/><circle cx="620.2" cy="300.6" r="0.7"/><circle cx="614.5" cy="297.6" r="1.4"/><circle cx="652.3" cy="303.4" r="0.5"/><circle cx="631.0" cy="303.3" r="0.7"/><circle cx="663.9" cy="292.0" r="0.7"/><circle cx="624.8" cy="300.1" r="0.7"/><circle cx="627.7" cy="300.1" r="0.7"/><circle cx="623.5" cy="300.8" r="1.0"/><circle cx="631.4" cy="295.2" r="0.5"/></g><g fill="#fff" fill-opacity="0.45"><circle cx="626.0" cy="296.1" r="1.3"/><circle cx="628.1" cy="299.4" r="0.7"/><circle cx="625.0" cy="297.7" r="0.7"/><circle cx="629.8" cy="294.2" r="1.3"/><circle cx="640.7" cy="299.1" r="0.7"/><circle cx="616.0" cy="301.6" r="1.0"/><circle cx="619.8" cy="297.7" r="0.7"/><circle cx="644.3" cy="296.3" r="0.7"/><circle cx="664.1" cy="296.4" r="1.3"/><circle cx="640.7" cy="296.3" r="0.7"/><circle cx="622.8" cy="296.7" r="0.7"/><circle cx="667.9" cy="300.0" r="1.0"/><circle cx="662.3" cy="301.9" r="1.3"/><circle cx="644.6" cy="298.6" r="0.7"/><circle cx="650.3" cy="301.3" r="1.0"/><circle cx="663.4" cy="295.2" r="1.0"/><circle cx="650.1" cy="294.0" r="1.0"/><circle cx="658.5" cy="299.4" r="1.3"/><circle cx="659.0" cy="294.5" r="1.0"/><circle cx="630.2" cy="296.4" r="1.3"/><circle cx="612.2" cy="300.8" r="0.7"/><circle cx="633.3" cy="297.3" r="0.7"/><circle cx="621.2" cy="300.1" r="1.3"/><circle cx="648.3" cy="297.0" r="1.0"/><circle cx="641.0" cy="296.0" r="0.7"/><circle cx="636.3" cy="298.0" r="1.3"/><circle cx="642.9" cy="296.3" r="1.3"/><circle cx="636.7" cy="298.0" r="1.3"/><circle cx="659.3" cy="295.6" r="1.3"/><circle cx="657.4" cy="294.6" r="1.3"/><circle cx="639.0" cy="301.0" r="1.3"/><circle cx="650.4" cy="299.1" r="1.0"/><circle cx="644.4" cy="298.3" r="1.0"/><circle cx="635.3" cy="294.4" r="1.0"/><circle cx="651.7" cy="297.3" r="1.0"/><circle cx="663.5" cy="297.4" r="1.3"/><circle cx="629.3" cy="295.3" r="1.3"/><circle cx="638.6" cy="297.6" r="1.3"/><circle cx="652.4" cy="294.3" r="0.7"/><circle cx="661.9" cy="301.2" r="1.3"/><circle cx="663.5" cy="299.3" r="1.0"/><circle cx="655.1" cy="297.9" r="0.7"/><circle cx="666.2" cy="300.4" r="1.3"/><circle cx="626.0" cy="296.7" r="1.3"/><circle cx="617.2" cy="300.6" r="1.0"/></g><polygon points="398.0,323.8 415.0,320.8 440.0,319.8 462.0,320.8 605.0,320.8 630.0,319.8 655.0,320.8 672.0,323.8 672.0,326.8 655.0,329.8 630.0,330.8 605.0,329.8 462.0,329.8 440.0,330.8 415.0,329.8 398.0,326.8" fill="#85409a" fill-opacity="0.3"/><polygon points="436.0,322.1 450.0,321.0 612.0,321.0 624.0,322.1 624.0,328.5 612.0,329.6 450.0,329.6 436.0,328.5" fill="#85409a" fill-opacity="0.55"/><polygon points="440.0,323.6 452.0,322.9 612.0,322.9 622.0,323.6 622.0,327.0 612.0,327.7 452.0,327.7 440.0,327.0" fill="#85409a"/><path d="M433.2 324.0L624.7 322.3M420.2 325.1L639.2 321.6M418.5 324.2L628.2 330.8M431.9 323.8L661.6 319.8M439.8 325.2L662.0 329.5M411.0 328.5L638.2 324.1M415.4 324.6L637.4 325.6M406.7 322.8L651.7 325.6M409.6 328.0L639.4 325.9M415.9 328.6L633.1 322.6M407.8 328.8L648.9 328.1M425.9 325.1L667.3 322.6M423.6 326.1L647.6 326.2M434.3 321.0L649.0 323.4M439.3 323.4L644.1 326.4M433.6 328.3L663.7 327.9M419.9 326.1L627.1 325.4M423.6 326.9L655.5 322.6M415.8 328.5L628.6 326.4M433.2 322.4L642.8 325.0M411.9 320.8L648.8 327.8M440.1 323.6L651.8 325.2M433.1 323.7L632.7 327.3M416.5 322.8L647.0 319.8M429.9 326.2L662.0 327.1M440.3 323.8L622.4 328.3M408.9 329.9L655.3 329.2M408.0 327.8L640.3 322.1M426.8 324.9L647.5 328.1M436.8 319.8L624.2 323.2M444.3 329.3L666.2 328.8M415.5 329.3L644.4 323.1M415.5 327.1L651.1 327.5M442.7 321.7L665.0 327.8M429.8 324.7L660.2 328.0M406.8 328.6L649.5 324.8M408.8 329.9L630.6 326.4M416.5 323.0L623.6 325.1M430.3 324.5L659.9 322.2M444.6 325.6L642.5 329.5M403.9 325.0L659.1 326.9M425.6 323.4L663.1 322.9M444.4 325.2L645.6 323.1M424.1 330.1L634.3 324.4M416.0 324.6L643.4 322.7" stroke="#85409a" stroke-width="0.6" stroke-opacity="0.4" fill="none"/><g fill="#85409a" fill-opacity="0.55" stroke="#5d2c6b" stroke-width="0.4" stroke-opacity="0.7"><circle cx="446.0" cy="327.6" r="1.6"/><circle cx="412.4" cy="329.4" r="0.9"/><circle cx="450.0" cy="324.5" r="0.6"/><circle cx="424.6" cy="319.6" r="0.9"/><circle cx="433.1" cy="326.7" r="2.1"/><circle cx="440.7" cy="327.8" r="0.6"/><circle cx="404.4" cy="320.4" r="2.1"/><circle cx="426.7" cy="325.3" r="0.6"/><circle cx="438.5" cy="319.3" r="1.2"/><circle cx="417.9" cy="324.3" r="0.9"/><circle cx="448.0" cy="326.1" r="1.2"/><circle cx="404.2" cy="324.7" r="1.2"/><circle cx="447.0" cy="327.5" r="1.6"/><circle cx="431.4" cy="320.8" r="0.6"/><circle cx="429.9" cy="321.8" r="0.6"/><circle cx="425.4" cy="325.1" r="2.1"/><circle cx="424.4" cy="330.0" r="1.2"/><circle cx="433.5" cy="322.9" r="1.2"/><circle cx="415.2" cy="326.6" r="1.2"/><circle cx="420.7" cy="329.9" r="2.1"/><circle cx="415.3" cy="325.8" r="0.6"/><circle cx="451.7" cy="324.1" r="0.6"/><circle cx="436.8" cy="322.8" r="0.9"/><circle cx="420.0" cy="322.8" r="1.2"/><circle cx="416.5" cy="327.5" r="1.6"/><circle cx="436.8" cy="322.7" r="1.6"/><circle cx="427.5" cy="326.9" r="0.6"/><circle cx="426.9" cy="327.4" r="1.6"/><circle cx="411.7" cy="320.9" r="0.9"/><circle cx="406.7" cy="322.3" r="0.6"/><circle cx="446.3" cy="323.0" r="0.6"/><circle cx="444.7" cy="328.9" r="0.9"/><circle cx="437.1" cy="322.2" r="0.9"/><circle cx="451.0" cy="319.3" r="0.9"/><circle cx="442.8" cy="324.8" r="0.9"/><circle cx="430.6" cy="327.0" r="0.9"/><circle cx="436.1" cy="323.7" r="1.6"/><circle cx="421.7" cy="323.2" r="1.6"/><circle cx="440.7" cy="328.6" r="0.6"/><circle cx="451.4" cy="325.4" r="1.2"/><circle cx="422.3" cy="329.1" r="1.6"/><circle cx="448.0" cy="326.6" r="0.9"/><circle cx="440.5" cy="326.7" r="0.9"/><circle cx="451.5" cy="321.4" r="0.9"/><circle cx="414.3" cy="325.5" r="0.6"/><circle cx="447.5" cy="324.5" r="0.6"/><circle cx="399.1" cy="325.5" r="0.9"/><circle cx="414.5" cy="324.4" r="0.9"/><circle cx="438.0" cy="323.5" r="1.2"/><circle cx="428.8" cy="320.7" r="0.6"/><circle cx="446.4" cy="326.7" r="0.6"/><circle cx="420.9" cy="327.0" r="2.1"/><circle cx="432.3" cy="324.2" r="1.2"/><circle cx="434.4" cy="322.6" r="0.9"/><circle cx="434.1" cy="328.7" r="2.1"/><circle cx="431.8" cy="321.1" r="0.6"/><circle cx="425.4" cy="329.6" r="0.6"/><circle cx="433.8" cy="327.4" r="1.2"/><circle cx="410.2" cy="328.9" r="0.9"/><circle cx="400.6" cy="328.6" r="0.9"/><circle cx="436.6" cy="326.5" r="2.1"/><circle cx="447.9" cy="324.7" r="0.9"/><circle cx="441.5" cy="325.7" r="0.6"/><circle cx="448.9" cy="324.9" r="1.2"/><circle cx="450.8" cy="325.2" r="1.2"/><circle cx="451.8" cy="322.5" r="0.9"/><circle cx="449.6" cy="328.0" r="0.9"/><circle cx="422.5" cy="328.3" r="0.9"/><circle cx="407.3" cy="322.1" r="2.1"/><circle cx="428.7" cy="325.7" r="1.2"/></g><g fill="#6a337b" fill-opacity="0.8"><circle cx="635.1" cy="327.2" r="0.7"/><circle cx="647.9" cy="324.7" r="0.7"/><circle cx="626.8" cy="325.6" r="0.5"/><circle cx="656.7" cy="328.6" r="1.4"/><circle cx="655.7" cy="321.9" r="0.5"/><circle cx="631.2" cy="325.3" r="0.7"/><circle cx="637.2" cy="327.6" r="0.5"/><circle cx="614.1" cy="325.8" r="0.5"/><circle cx="640.9" cy="322.0" r="0.5"/><circle cx="639.6" cy="325.0" r="0.7"/><circle cx="656.8" cy="328.9" r="0.5"/><circle cx="624.7" cy="326.8" r="0.7"/><circle cx="621.2" cy="327.8" r="0.7"/><circle cx="639.1" cy="321.8" r="1.0"/><circle cx="651.1" cy="328.7" r="0.7"/><circle cx="640.6" cy="328.0" r="0.7"/><circle cx="616.0" cy="328.8" r="0.5"/><circle cx="616.3" cy="328.7" r="0.5"/><circle cx="629.5" cy="331.3" r="0.7"/><circle cx="653.7" cy="323.1" r="1.0"/><circle cx="645.8" cy="326.8" r="0.7"/><circle cx="636.7" cy="326.8" r="0.7"/><circle cx="633.8" cy="325.2" r="0.5"/><circle cx="650.6" cy="321.8" r="0.7"/><circle cx="640.7" cy="325.2" r="0.7"/><circle cx="632.8" cy="320.5" r="1.0"/><circle cx="625.3" cy="319.3" r="0.5"/><circle cx="671.0" cy="326.5" r="1.0"/><circle cx="661.2" cy="330.9" r="1.4"/><circle cx="664.3" cy="325.0" r="0.5"/><circle cx="650.7" cy="327.9" r="1.0"/><circle cx="624.0" cy="326.6" r="1.0"/><circle cx="635.6" cy="329.2" r="1.0"/><circle cx="630.8" cy="324.5" r="1.0"/><circle cx="622.3" cy="328.0" r="0.7"/><circle cx="614.3" cy="328.4" r="0.5"/><circle cx="624.9" cy="321.7" r="0.5"/><circle cx="655.3" cy="327.4" r="0.5"/><circle cx="642.1" cy="324.9" r="0.7"/><circle cx="636.6" cy="323.3" r="1.0"/><circle cx="617.8" cy="325.7" r="1.0"/><circle cx="616.2" cy="324.7" r="0.5"/><circle cx="630.5" cy="323.0" r="1.4"/><circle cx="641.2" cy="321.7" r="0.7"/><circle cx="623.6" cy="322.5" r="0.5"/><circle cx="630.0" cy="329.5" r="0.5"/><circle cx="652.3" cy="324.8" r="0.7"/><circle cx="617.9" cy="324.7" r="0.7"/><circle cx="645.1" cy="325.7" r="0.7"/><circle cx="625.4" cy="327.8" r="0.5"/><circle cx="621.3" cy="327.4" r="0.5"/><circle cx="633.0" cy="325.8" r="1.4"/><circle cx="633.0" cy="324.8" r="0.5"/><circle cx="615.9" cy="326.9" r="0.5"/><circle cx="642.7" cy="324.4" r="0.7"/><circle cx="618.6" cy="326.3" r="0.7"/><circle cx="646.3" cy="324.6" r="0.7"/><circle cx="650.6" cy="321.7" r="1.0"/><circle cx="628.5" cy="325.2" r="1.4"/><circle cx="635.5" cy="327.8" r="0.7"/></g><g fill="#fff" fill-opacity="0.45"><circle cx="634.6" cy="328.3" r="1.3"/><circle cx="643.6" cy="324.2" r="1.3"/><circle cx="667.3" cy="324.8" r="1.0"/><circle cx="631.8" cy="324.8" r="1.0"/><circle cx="619.8" cy="323.4" r="1.3"/><circle cx="655.3" cy="323.2" r="0.7"/><circle cx="665.4" cy="324.3" r="1.0"/><circle cx="660.9" cy="324.3" r="1.3"/><circle cx="644.5" cy="322.7" r="1.0"/><circle cx="634.0" cy="325.0" r="1.3"/><circle cx="612.7" cy="327.0" r="1.3"/><circle cx="621.0" cy="323.3" r="0.7"/><circle cx="623.2" cy="325.1" r="0.7"/><circle cx="618.1" cy="321.8" r="0.7"/><circle cx="617.3" cy="328.4" r="0.7"/><circle cx="657.6" cy="324.9" r="1.3"/><circle cx="617.9" cy="328.4" r="1.0"/><circle cx="641.5" cy="326.6" r="1.3"/><circle cx="658.8" cy="325.8" r="1.3"/><circle cx="658.9" cy="327.1" r="0.7"/><circle cx="661.4" cy="323.4" r="1.3"/><circle cx="657.5" cy="327.3" r="0.7"/><circle cx="634.6" cy="328.1" r="0.7"/><circle cx="641.5" cy="324.8" r="0.7"/><circle cx="660.5" cy="327.3" r="0.7"/><circle cx="628.0" cy="327.6" r="1.3"/><circle cx="667.3" cy="325.4" r="1.3"/><circle cx="635.2" cy="325.0" r="1.0"/><circle cx="665.5" cy="325.0" r="1.0"/><circle cx="658.4" cy="323.6" r="1.0"/><circle cx="643.2" cy="322.0" r="1.3"/><circle cx="630.6" cy="323.6" r="0.7"/><circle cx="653.6" cy="325.0" r="1.3"/><circle cx="642.2" cy="327.6" r="1.0"/><circle cx="665.3" cy="326.2" r="0.7"/><circle cx="651.5" cy="328.9" r="1.3"/><circle cx="658.9" cy="324.8" r="1.0"/><circle cx="647.0" cy="326.1" r="1.0"/><circle cx="612.8" cy="322.4" r="0.7"/><circle cx="653.1" cy="326.9" r="0.7"/><circle cx="665.9" cy="329.2" r="0.7"/><circle cx="665.8" cy="321.7" r="1.3"/><circle cx="614.5" cy="321.3" r="1.3"/><circle cx="641.9" cy="327.2" r="1.3"/><circle cx="645.8" cy="322.1" r="0.7"/></g></g>
<path d="M378.5 335.5V56.5H681.5V335.5" fill="none" stroke="#6a6a6a" stroke-width="1"/><line x1="378.0" x2="682.0" y1="335.5" y2="335.5" stroke="#9a9a9a" stroke-width="1.4"/>


<text transform="translate(1.8 359) scale(0.88 1)" class="s" font-size="29.5">C</text>
<g stroke="#333" stroke-width="1"><line x1="55.5" x2="59" y1="548.3" y2="548.3"/><text x="52" y="552.3" font-size="10.8" text-anchor="end" class="s" stroke="none" fill="#222">0.0</text><line x1="55.5" x2="59" y1="509.4" y2="509.4"/><text x="52" y="513.4" font-size="10.8" text-anchor="end" class="s" stroke="none" fill="#222">0.2</text><line x1="55.5" x2="59" y1="470.5" y2="470.5"/><text x="52" y="474.5" font-size="10.8" text-anchor="end" class="s" stroke="none" fill="#222">0.4</text><line x1="55.5" x2="59" y1="431.6" y2="431.6"/><text x="52" y="435.6" font-size="10.8" text-anchor="end" class="s" stroke="none" fill="#222">0.6</text><line x1="55.5" x2="59" y1="392.7" y2="392.7"/><text x="52" y="396.7" font-size="10.8" text-anchor="end" class="s" stroke="none" fill="#222">0.8</text><line x1="55.5" x2="59" y1="353.8" y2="353.8"/><text x="52" y="357.8" font-size="10.8" text-anchor="end" class="s" stroke="none" fill="#222">1.0</text><line x1="136.0" x2="136.0" y1="557.5" y2="554"/><text x="136.0" y="570" font-size="10.8" text-anchor="middle" class="s" stroke="none" fill="#222">2012</text><line x1="239.7" x2="239.7" y1="557.5" y2="554"/><text x="239.7" y="570" font-size="10.8" text-anchor="middle" class="s" stroke="none" fill="#222">2014</text><line x1="343.3" x2="343.3" y1="557.5" y2="554"/><text x="343.3" y="570" font-size="10.8" text-anchor="middle" class="s" stroke="none" fill="#222">2016</text><line x1="447.0" x2="447.0" y1="557.5" y2="554"/><text x="447.0" y="570" font-size="10.8" text-anchor="middle" class="s" stroke="none" fill="#222">2018</text><line x1="550.7" x2="550.7" y1="557.5" y2="554"/><text x="550.7" y="570" font-size="10.8" text-anchor="middle" class="s" stroke="none" fill="#222">2020</text><line x1="654.3" x2="654.3" y1="557.5" y2="554"/><text x="654.3" y="570" font-size="10.8" text-anchor="middle" class="s" stroke="none" fill="#222">2022</text></g>
<polyline points="84.2,546.4 136.0,546.4 187.9,546.4 239.7,546.4 291.5,547.1 343.3,546.4 395.2,546.4 447.0,546.7 498.8,546.7 550.7,546.9 602.5,546.0 654.3,545.8" fill="none" stroke="#a9c6e0" stroke-width="2.5"/>
<g fill="#9ec0e0" fill-opacity="0.55" stroke="#7fa9d2" stroke-opacity="0.6" stroke-width="0.8"><circle cx="84.2" cy="546.4" r="7.2"/><circle cx="136.0" cy="546.4" r="7.2"/><circle cx="187.9" cy="546.4" r="7.2"/><circle cx="239.7" cy="546.4" r="7.2"/><circle cx="291.5" cy="547.1" r="7.2"/><circle cx="343.3" cy="546.4" r="7.2"/><circle cx="395.2" cy="546.4" r="7.2"/><circle cx="447.0" cy="546.7" r="7.2"/><circle cx="498.8" cy="546.7" r="7.2"/><circle cx="550.7" cy="546.9" r="7.2"/><circle cx="602.5" cy="546.0" r="7.2"/><circle cx="654.3" cy="545.8" r="7.2"/></g>
<polyline points="84.2,429.3 136.0,427.9 187.9,428.3 239.7,427.7 291.5,422.1 343.3,426.2 395.2,424.8 447.0,437.4 498.8,431.2 550.7,412.0 602.5,408.1 654.3,411.6" fill="none" stroke="#1f72ae" stroke-width="3"/>
<g fill="#1f72ae"><path d="M84.2 421.8L76.7 436.8L91.7 436.8z"/><path d="M136.0 420.4L128.5 435.4L143.5 435.4z"/><path d="M187.9 420.8L180.4 435.8L195.4 435.8z"/><path d="M239.7 420.2L232.2 435.2L247.2 435.2z"/><path d="M291.5 414.6L284.0 429.6L299.0 429.6z"/><path d="M343.3 418.7L335.8 433.7L350.8 433.7z"/><path d="M395.2 417.3L387.7 432.3L402.7 432.3z"/><path d="M447.0 429.9L439.5 444.9L454.5 444.9z"/><path d="M498.8 423.7L491.3 438.7L506.3 438.7z"/><path d="M550.7 404.5L543.2 419.5L558.2 419.5z"/><path d="M602.5 400.6L595.0 415.6L610.0 415.6z"/><path d="M654.3 404.1L646.8 419.1L661.8 419.1z"/></g>
<path d="M55.5 557.5V354.5H682.5V557.5" fill="none" stroke="#555" stroke-width="1"/><line x1="55.0" x2="683.0" y1="557.5" y2="557.5" stroke="#9a9a9a" stroke-width="1.3"/>
<rect x="61.5" y="359.5" width="180" height="29.5" rx="3" fill="#fff" fill-opacity="0.8" stroke="#d8d8d8" stroke-width="1"/>
<line x1="68.4" x2="101.7" y1="372.9" y2="372.9" stroke="#1f72ae" stroke-width="2.4"/>
<g fill="#1f72ae"><path d="M84.9 365.7L77.8 379.9L92.0 379.9z"/></g>
<text x="112.5" y="378.5" class="r" font-style="italic" font-size="17">Q<tspan font-size="12" dy="2">ap</tspan></text>
<line x1="168" x2="200.5" y1="372.7" y2="372.7" stroke="#a9c6e0" stroke-width="2.5"/>
<circle cx="183.9" cy="372.5" r="7.2" fill="#9ec0e0" fill-opacity="0.55" stroke="#7fa9d2" stroke-opacity="0.6" stroke-width="0.8"/>
<g transform="translate(210 381)"><path d="M0.3 -0.6C1.2 0.6 2.4 0.2 3.2 -2.5L5.1 -11.4" fill="none" stroke="#111" stroke-width="0.9" stroke-linecap="round"/><path d="M5.1 -11.6L9.6 -0.3" fill="none" stroke="#111" stroke-width="1.7" stroke-linecap="round"/><path d="M9.6 -0.3L13.3 -10.2C13.8 -11.2 14.6 -11.8 15.3 -12" fill="none" stroke="#111" stroke-width="0.9" stroke-linecap="round"/><circle cx="0.6" cy="-0.7" r="0.9" fill="#111"/></g><text x="225.5" y="381" class="r" font-style="italic" font-size="11.5">ap</text>
<g transform="translate(28 488.5) rotate(-90)"><g transform="scale(1.12)"><path d="M0.3 -0.6C1.2 0.6 2.4 0.2 3.2 -2.5L5.1 -11.4" fill="none" stroke="#111" stroke-width="0.9" stroke-linecap="round"/><path d="M5.1 -11.6L9.6 -0.3" fill="none" stroke="#111" stroke-width="1.7" stroke-linecap="round"/><path d="M9.6 -0.3L13.3 -10.2C13.8 -11.2 14.6 -11.8 15.3 -12" fill="none" stroke="#111" stroke-width="0.9" stroke-linecap="round"/><circle cx="0.6" cy="-0.7" r="0.9" fill="#111"/></g><text x="17" y="0" class="r" font-style="italic" font-size="21">,Q</text></g>
<text x="346.8" y="597" class="r" font-style="italic" font-size="28" text-anchor="middle">t</text>

</svg></body></html>
